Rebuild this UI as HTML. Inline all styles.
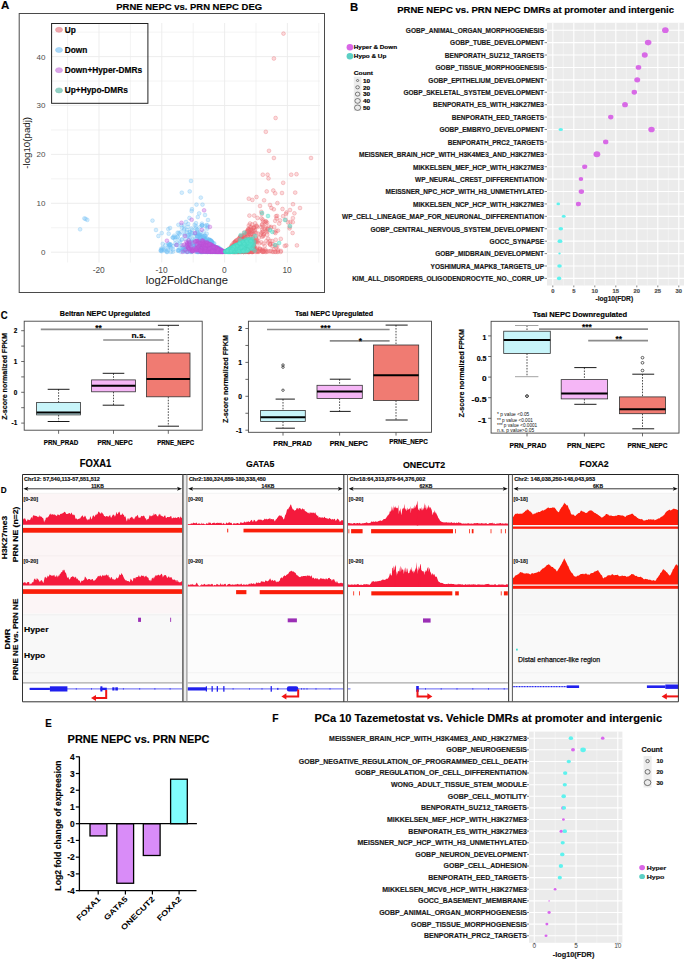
<!DOCTYPE html><html><head><meta charset="utf-8"><style>
html,body{margin:0;padding:0;background:#fff;}
svg{display:block;font-family:"Liberation Sans",sans-serif;}
</style></head><body>
<svg width="685" height="959" viewBox="0 0 685 959">
<rect width="685" height="959" fill="#fff"/>
<text x="0.90" y="8.80" font-size="10.2" font-weight="bold" stroke="#000" stroke-width="0.16" textLength="8.30" lengthAdjust="spacingAndGlyphs" >A</text>
<text x="116.30" y="10.00" font-size="9.5" font-weight="bold" stroke="#000" stroke-width="0.16" textLength="145.80" lengthAdjust="spacingAndGlyphs" >PRNE NEPC vs. PRN NEPC DEG</text>
<rect x="19.20" y="13.50" width="305.30" height="279.00" fill="none" stroke="#4a4a4a" stroke-width="1" />
<line x1="67.60" y1="23.00" x2="67.60" y2="262.50" stroke="#ebebeb" stroke-width="0.6" />
<line x1="99.00" y1="23.00" x2="99.00" y2="262.50" stroke="#ebebeb" stroke-width="0.9" />
<line x1="130.40" y1="23.00" x2="130.40" y2="262.50" stroke="#ebebeb" stroke-width="0.6" />
<line x1="161.80" y1="23.00" x2="161.80" y2="262.50" stroke="#ebebeb" stroke-width="0.9" />
<line x1="193.20" y1="23.00" x2="193.20" y2="262.50" stroke="#ebebeb" stroke-width="0.6" />
<line x1="224.60" y1="23.00" x2="224.60" y2="262.50" stroke="#ebebeb" stroke-width="0.9" />
<line x1="256.00" y1="23.00" x2="256.00" y2="262.50" stroke="#ebebeb" stroke-width="0.6" />
<line x1="287.40" y1="23.00" x2="287.40" y2="262.50" stroke="#ebebeb" stroke-width="0.9" />
<line x1="318.80" y1="23.00" x2="318.80" y2="262.50" stroke="#ebebeb" stroke-width="0.6" />
<line x1="51.00" y1="252.20" x2="320.00" y2="252.20" stroke="#ebebeb" stroke-width="0.9" />
<line x1="51.00" y1="227.75" x2="320.00" y2="227.75" stroke="#ebebeb" stroke-width="0.6" />
<line x1="51.00" y1="203.30" x2="320.00" y2="203.30" stroke="#ebebeb" stroke-width="0.9" />
<line x1="51.00" y1="178.85" x2="320.00" y2="178.85" stroke="#ebebeb" stroke-width="0.6" />
<line x1="51.00" y1="154.40" x2="320.00" y2="154.40" stroke="#ebebeb" stroke-width="0.9" />
<line x1="51.00" y1="129.95" x2="320.00" y2="129.95" stroke="#ebebeb" stroke-width="0.6" />
<line x1="51.00" y1="105.50" x2="320.00" y2="105.50" stroke="#ebebeb" stroke-width="0.9" />
<line x1="51.00" y1="81.05" x2="320.00" y2="81.05" stroke="#ebebeb" stroke-width="0.6" />
<line x1="51.00" y1="56.60" x2="320.00" y2="56.60" stroke="#ebebeb" stroke-width="0.9" />
<line x1="51.00" y1="32.15" x2="320.00" y2="32.15" stroke="#ebebeb" stroke-width="0.6" />
<text x="45.40" y="255.10" font-size="8.0" text-anchor="end" fill="#4d4d4d" >0</text>
<text x="45.40" y="206.20" font-size="8.0" text-anchor="end" fill="#4d4d4d" >10</text>
<text x="45.40" y="157.30" font-size="8.0" text-anchor="end" fill="#4d4d4d" >20</text>
<text x="45.40" y="108.40" font-size="8.0" text-anchor="end" fill="#4d4d4d" >30</text>
<text x="45.40" y="59.50" font-size="8.0" text-anchor="end" fill="#4d4d4d" >40</text>
<text x="98.70" y="273.10" font-size="8.4" text-anchor="middle" fill="#4d4d4d" >-20</text>
<text x="161.50" y="273.10" font-size="8.4" text-anchor="middle" fill="#4d4d4d" >-10</text>
<text x="224.30" y="273.10" font-size="8.4" text-anchor="middle" fill="#4d4d4d" >0</text>
<text x="287.10" y="273.10" font-size="8.4" text-anchor="middle" fill="#4d4d4d" >10</text>
<text x="145.80" y="284.10" font-size="10.2" fill="#1a1a1a" textLength="82.20" lengthAdjust="spacingAndGlyphs" >log2FoldChange</text>
<text x="30.40" y="168.70" font-size="9.8" fill="#1a1a1a" textLength="51.80" lengthAdjust="spacingAndGlyphs" transform="rotate(-90 30.40 168.70)" >-log10(padj)</text>
<g fill="rgba(240,120,125,0.28)" stroke="rgba(232,95,105,0.42)" stroke-width="0.7">
<circle cx="254.0" cy="247.3" r="1.9"/>
<circle cx="243.3" cy="251.8" r="1.9"/>
<circle cx="252.4" cy="251.9" r="1.9"/>
<circle cx="251.0" cy="228.9" r="1.9"/>
<circle cx="240.4" cy="247.5" r="1.9"/>
<circle cx="245.6" cy="251.9" r="1.9"/>
<circle cx="257.4" cy="247.7" r="1.9"/>
<circle cx="245.2" cy="239.3" r="1.9"/>
<circle cx="236.6" cy="249.6" r="1.9"/>
<circle cx="248.4" cy="249.6" r="1.9"/>
<circle cx="268.2" cy="242.6" r="1.9"/>
<circle cx="238.5" cy="238.7" r="1.9"/>
<circle cx="253.3" cy="248.4" r="1.9"/>
<circle cx="239.9" cy="246.3" r="1.9"/>
<circle cx="252.3" cy="251.8" r="1.9"/>
<circle cx="257.7" cy="241.4" r="1.9"/>
<circle cx="230.4" cy="251.9" r="1.9"/>
<circle cx="235.9" cy="247.5" r="1.9"/>
<circle cx="253.5" cy="227.7" r="1.9"/>
<circle cx="251.1" cy="241.0" r="1.9"/>
<circle cx="255.9" cy="236.8" r="1.9"/>
<circle cx="236.6" cy="249.2" r="1.9"/>
<circle cx="235.6" cy="245.1" r="1.9"/>
<circle cx="241.6" cy="241.1" r="1.9"/>
<circle cx="248.8" cy="249.4" r="1.9"/>
<circle cx="243.4" cy="248.1" r="1.9"/>
<circle cx="252.6" cy="251.8" r="1.9"/>
<circle cx="249.0" cy="251.5" r="1.9"/>
<circle cx="266.0" cy="221.3" r="1.9"/>
<circle cx="244.2" cy="248.7" r="1.9"/>
<circle cx="250.1" cy="227.3" r="1.9"/>
<circle cx="245.3" cy="251.6" r="1.9"/>
<circle cx="252.8" cy="251.1" r="1.9"/>
<circle cx="255.1" cy="223.3" r="1.9"/>
<circle cx="232.2" cy="251.7" r="1.9"/>
<circle cx="228.2" cy="251.7" r="1.9"/>
<circle cx="258.6" cy="251.8" r="1.9"/>
<circle cx="262.1" cy="225.1" r="1.9"/>
<circle cx="251.9" cy="245.6" r="1.9"/>
<circle cx="253.1" cy="251.7" r="1.9"/>
<circle cx="239.7" cy="251.4" r="1.9"/>
<circle cx="273.4" cy="251.8" r="1.9"/>
<circle cx="241.5" cy="248.4" r="1.9"/>
<circle cx="254.7" cy="232.3" r="1.9"/>
<circle cx="241.4" cy="244.9" r="1.9"/>
<circle cx="243.2" cy="240.1" r="1.9"/>
<circle cx="249.0" cy="251.8" r="1.9"/>
<circle cx="268.1" cy="238.7" r="1.9"/>
<circle cx="250.5" cy="246.7" r="1.9"/>
<circle cx="255.2" cy="227.1" r="1.9"/>
<circle cx="265.6" cy="251.9" r="1.9"/>
<circle cx="238.2" cy="247.0" r="1.9"/>
<circle cx="266.6" cy="251.8" r="1.9"/>
<circle cx="269.0" cy="226.6" r="1.9"/>
<circle cx="249.2" cy="233.8" r="1.9"/>
<circle cx="265.6" cy="221.6" r="1.9"/>
<circle cx="240.9" cy="246.6" r="1.9"/>
<circle cx="259.9" cy="249.7" r="1.9"/>
<circle cx="250.8" cy="245.8" r="1.9"/>
<circle cx="236.4" cy="245.0" r="1.9"/>
<circle cx="263.8" cy="251.5" r="1.9"/>
<circle cx="265.5" cy="249.6" r="1.9"/>
<circle cx="249.5" cy="232.1" r="1.9"/>
<circle cx="247.1" cy="243.7" r="1.9"/>
<circle cx="235.9" cy="251.5" r="1.9"/>
<circle cx="256.2" cy="241.2" r="1.9"/>
<circle cx="242.7" cy="251.4" r="1.9"/>
<circle cx="230.1" cy="251.1" r="1.9"/>
<circle cx="232.9" cy="246.6" r="1.9"/>
<circle cx="234.8" cy="250.6" r="1.9"/>
<circle cx="247.0" cy="251.9" r="1.9"/>
<circle cx="245.7" cy="250.3" r="1.9"/>
<circle cx="262.6" cy="219.5" r="1.9"/>
<circle cx="261.4" cy="218.4" r="1.9"/>
<circle cx="237.9" cy="251.3" r="1.9"/>
<circle cx="235.6" cy="251.9" r="1.9"/>
<circle cx="248.5" cy="246.5" r="1.9"/>
<circle cx="231.1" cy="250.8" r="1.9"/>
<circle cx="233.5" cy="251.2" r="1.9"/>
<circle cx="248.9" cy="229.6" r="1.9"/>
<circle cx="254.2" cy="245.4" r="1.9"/>
<circle cx="234.9" cy="241.8" r="1.9"/>
<circle cx="236.9" cy="251.0" r="1.9"/>
<circle cx="241.0" cy="238.3" r="1.9"/>
<circle cx="263.3" cy="236.2" r="1.9"/>
<circle cx="234.4" cy="243.2" r="1.9"/>
<circle cx="254.7" cy="240.8" r="1.9"/>
<circle cx="240.1" cy="251.6" r="1.9"/>
<circle cx="245.5" cy="250.5" r="1.9"/>
<circle cx="234.3" cy="251.9" r="1.9"/>
<circle cx="257.4" cy="251.8" r="1.9"/>
<circle cx="244.2" cy="234.8" r="1.9"/>
<circle cx="270.3" cy="244.9" r="1.9"/>
<circle cx="240.6" cy="248.0" r="1.9"/>
<circle cx="251.9" cy="250.3" r="1.9"/>
<circle cx="230.7" cy="249.9" r="1.9"/>
<circle cx="234.4" cy="251.1" r="1.9"/>
<circle cx="243.0" cy="250.4" r="1.9"/>
<circle cx="235.2" cy="250.7" r="1.9"/>
<circle cx="280.9" cy="250.9" r="1.9"/>
<circle cx="245.3" cy="250.3" r="1.9"/>
<circle cx="236.3" cy="240.4" r="1.9"/>
<circle cx="232.6" cy="245.4" r="1.9"/>
<circle cx="230.8" cy="251.3" r="1.9"/>
<circle cx="265.6" cy="251.0" r="1.9"/>
<circle cx="247.3" cy="247.2" r="1.9"/>
<circle cx="249.2" cy="251.0" r="1.9"/>
<circle cx="261.7" cy="250.3" r="1.9"/>
<circle cx="231.8" cy="249.1" r="1.9"/>
<circle cx="246.0" cy="250.8" r="1.9"/>
<circle cx="251.1" cy="234.1" r="1.9"/>
<circle cx="249.7" cy="251.8" r="1.9"/>
<circle cx="258.5" cy="233.7" r="1.9"/>
<circle cx="230.7" cy="251.1" r="1.9"/>
<circle cx="270.2" cy="243.6" r="1.9"/>
<circle cx="228.0" cy="251.1" r="1.9"/>
<circle cx="235.8" cy="250.2" r="1.9"/>
<circle cx="235.0" cy="248.0" r="1.9"/>
<circle cx="244.2" cy="251.5" r="1.9"/>
<circle cx="257.2" cy="227.2" r="1.9"/>
<circle cx="240.0" cy="249.4" r="1.9"/>
<circle cx="275.7" cy="245.3" r="1.9"/>
<circle cx="246.7" cy="245.1" r="1.9"/>
<circle cx="228.4" cy="251.7" r="1.9"/>
<circle cx="235.6" cy="251.1" r="1.9"/>
<circle cx="232.5" cy="251.5" r="1.9"/>
<circle cx="228.2" cy="250.6" r="1.9"/>
<circle cx="247.1" cy="251.6" r="1.9"/>
<circle cx="275.0" cy="251.8" r="1.9"/>
<circle cx="233.6" cy="249.5" r="1.9"/>
<circle cx="238.7" cy="249.4" r="1.9"/>
<circle cx="234.1" cy="244.8" r="1.9"/>
<circle cx="234.4" cy="246.2" r="1.9"/>
<circle cx="235.0" cy="242.7" r="1.9"/>
<circle cx="242.2" cy="239.2" r="1.9"/>
<circle cx="247.2" cy="231.7" r="1.9"/>
<circle cx="262.3" cy="249.5" r="1.9"/>
<circle cx="240.5" cy="236.6" r="1.9"/>
<circle cx="265.3" cy="227.5" r="1.9"/>
<circle cx="246.9" cy="232.3" r="1.9"/>
<circle cx="237.8" cy="246.4" r="1.9"/>
<circle cx="241.4" cy="251.8" r="1.9"/>
<circle cx="243.7" cy="251.9" r="1.9"/>
<circle cx="234.2" cy="246.0" r="1.9"/>
<circle cx="265.8" cy="223.4" r="1.9"/>
<circle cx="229.5" cy="251.5" r="1.9"/>
<circle cx="254.8" cy="242.5" r="1.9"/>
<circle cx="237.8" cy="249.2" r="1.9"/>
<circle cx="239.6" cy="251.6" r="1.9"/>
<circle cx="250.2" cy="244.7" r="1.9"/>
<circle cx="238.4" cy="247.7" r="1.9"/>
<circle cx="234.5" cy="251.7" r="1.9"/>
<circle cx="239.2" cy="250.5" r="1.9"/>
<circle cx="237.6" cy="247.8" r="1.9"/>
<circle cx="269.9" cy="240.9" r="1.9"/>
<circle cx="253.1" cy="237.0" r="1.9"/>
<circle cx="244.7" cy="244.0" r="1.9"/>
<circle cx="245.0" cy="250.5" r="1.9"/>
<circle cx="236.9" cy="249.9" r="1.9"/>
<circle cx="249.8" cy="248.4" r="1.9"/>
<circle cx="248.5" cy="249.7" r="1.9"/>
<circle cx="231.2" cy="250.5" r="1.9"/>
<circle cx="231.0" cy="250.6" r="1.9"/>
<circle cx="237.0" cy="244.9" r="1.9"/>
<circle cx="234.7" cy="250.5" r="1.9"/>
<circle cx="254.6" cy="229.9" r="1.9"/>
<circle cx="267.3" cy="232.1" r="1.9"/>
<circle cx="259.3" cy="243.4" r="1.9"/>
<circle cx="263.1" cy="221.5" r="1.9"/>
<circle cx="233.7" cy="251.9" r="1.9"/>
<circle cx="261.3" cy="242.3" r="1.9"/>
<circle cx="243.2" cy="237.5" r="1.9"/>
<circle cx="250.9" cy="246.1" r="1.9"/>
<circle cx="244.6" cy="250.0" r="1.9"/>
<circle cx="242.3" cy="249.0" r="1.9"/>
<circle cx="240.1" cy="240.5" r="1.9"/>
<circle cx="246.2" cy="251.0" r="1.9"/>
<circle cx="239.5" cy="246.7" r="1.9"/>
<circle cx="249.6" cy="230.5" r="1.9"/>
<circle cx="240.1" cy="240.8" r="1.9"/>
<circle cx="243.5" cy="251.9" r="1.9"/>
<circle cx="230.2" cy="250.4" r="1.9"/>
<circle cx="247.7" cy="245.3" r="1.9"/>
<circle cx="246.9" cy="248.2" r="1.9"/>
<circle cx="241.2" cy="249.6" r="1.9"/>
<circle cx="247.2" cy="248.4" r="1.9"/>
<circle cx="242.6" cy="245.6" r="1.9"/>
<circle cx="277.2" cy="246.0" r="1.9"/>
<circle cx="244.0" cy="232.6" r="1.9"/>
<circle cx="240.8" cy="240.9" r="1.9"/>
<circle cx="235.3" cy="241.7" r="1.9"/>
<circle cx="268.0" cy="251.4" r="1.9"/>
<circle cx="280.8" cy="238.9" r="1.9"/>
<circle cx="243.3" cy="250.1" r="1.9"/>
<circle cx="246.7" cy="251.0" r="1.9"/>
<circle cx="235.6" cy="247.7" r="1.9"/>
<circle cx="241.1" cy="244.9" r="1.9"/>
<circle cx="230.0" cy="248.5" r="1.9"/>
<circle cx="239.6" cy="251.9" r="1.9"/>
<circle cx="239.5" cy="246.5" r="1.9"/>
<circle cx="254.1" cy="244.1" r="1.9"/>
<circle cx="248.4" cy="241.5" r="1.9"/>
<circle cx="247.5" cy="243.9" r="1.9"/>
<circle cx="243.0" cy="251.4" r="1.9"/>
<circle cx="232.7" cy="249.5" r="1.9"/>
<circle cx="267.6" cy="228.7" r="1.9"/>
<circle cx="261.7" cy="232.8" r="1.9"/>
<circle cx="241.1" cy="250.6" r="1.9"/>
<circle cx="232.7" cy="249.0" r="1.9"/>
<circle cx="240.9" cy="249.2" r="1.9"/>
<circle cx="230.6" cy="249.7" r="1.9"/>
<circle cx="251.5" cy="251.8" r="1.9"/>
<circle cx="239.9" cy="241.5" r="1.9"/>
<circle cx="239.5" cy="238.1" r="1.9"/>
<circle cx="246.0" cy="250.4" r="1.9"/>
<circle cx="242.3" cy="250.9" r="1.9"/>
<circle cx="239.7" cy="248.1" r="1.9"/>
<circle cx="264.0" cy="250.6" r="1.9"/>
<circle cx="241.2" cy="236.1" r="1.9"/>
<circle cx="239.1" cy="251.7" r="1.9"/>
<circle cx="247.5" cy="247.8" r="1.9"/>
<circle cx="231.2" cy="247.3" r="1.9"/>
<circle cx="241.0" cy="251.2" r="1.9"/>
<circle cx="238.9" cy="251.9" r="1.9"/>
<circle cx="253.9" cy="251.0" r="1.9"/>
<circle cx="256.6" cy="249.3" r="1.9"/>
<circle cx="244.1" cy="239.0" r="1.9"/>
<circle cx="234.9" cy="246.4" r="1.9"/>
<circle cx="241.9" cy="251.0" r="1.9"/>
<circle cx="237.1" cy="251.6" r="1.9"/>
<circle cx="256.6" cy="225.7" r="1.9"/>
<circle cx="249.9" cy="250.1" r="1.9"/>
<circle cx="250.9" cy="231.6" r="1.9"/>
<circle cx="233.6" cy="249.1" r="1.9"/>
<circle cx="238.5" cy="249.6" r="1.9"/>
<circle cx="253.5" cy="248.8" r="1.9"/>
<circle cx="242.3" cy="251.2" r="1.9"/>
<circle cx="253.8" cy="242.1" r="1.9"/>
<circle cx="241.3" cy="250.2" r="1.9"/>
<circle cx="231.2" cy="251.5" r="1.9"/>
<circle cx="233.7" cy="251.1" r="1.9"/>
<circle cx="242.7" cy="240.7" r="1.9"/>
<circle cx="277.9" cy="251.4" r="1.9"/>
<circle cx="238.6" cy="245.2" r="1.9"/>
<circle cx="253.9" cy="246.5" r="1.9"/>
<circle cx="253.6" cy="249.8" r="1.9"/>
<circle cx="251.9" cy="251.4" r="1.9"/>
<circle cx="286.3" cy="245.4" r="1.9"/>
<circle cx="235.0" cy="250.8" r="1.9"/>
<circle cx="242.0" cy="250.0" r="1.9"/>
<circle cx="252.4" cy="231.9" r="1.9"/>
<circle cx="249.1" cy="250.1" r="1.9"/>
<circle cx="243.8" cy="249.3" r="1.9"/>
<circle cx="262.3" cy="251.8" r="1.9"/>
<circle cx="272.2" cy="251.8" r="1.9"/>
<circle cx="237.6" cy="243.5" r="1.9"/>
<circle cx="236.5" cy="245.0" r="1.9"/>
<circle cx="232.1" cy="250.6" r="1.9"/>
<circle cx="259.7" cy="248.7" r="1.9"/>
<circle cx="232.3" cy="250.4" r="1.9"/>
<circle cx="259.0" cy="237.7" r="1.9"/>
<circle cx="244.4" cy="241.9" r="1.9"/>
<circle cx="243.6" cy="235.4" r="1.9"/>
<circle cx="233.7" cy="251.9" r="1.9"/>
<circle cx="256.3" cy="249.4" r="1.9"/>
<circle cx="248.1" cy="241.9" r="1.9"/>
<circle cx="248.0" cy="251.8" r="1.9"/>
<circle cx="241.2" cy="251.1" r="1.9"/>
<circle cx="239.7" cy="244.1" r="1.9"/>
<circle cx="254.3" cy="249.9" r="1.9"/>
<circle cx="246.8" cy="232.3" r="1.9"/>
<circle cx="241.0" cy="238.9" r="1.9"/>
<circle cx="234.3" cy="250.7" r="1.9"/>
<circle cx="266.6" cy="230.5" r="1.9"/>
<circle cx="235.2" cy="247.9" r="1.9"/>
<circle cx="244.7" cy="237.7" r="1.9"/>
<circle cx="233.3" cy="250.7" r="1.9"/>
<circle cx="236.4" cy="250.8" r="1.9"/>
<circle cx="236.1" cy="249.4" r="1.9"/>
<circle cx="233.2" cy="249.9" r="1.9"/>
<circle cx="241.4" cy="251.8" r="1.9"/>
<circle cx="227.5" cy="250.2" r="1.9"/>
<circle cx="232.0" cy="244.8" r="1.9"/>
<circle cx="248.8" cy="245.7" r="1.9"/>
<circle cx="243.8" cy="245.9" r="1.9"/>
<circle cx="227.1" cy="250.8" r="1.9"/>
<circle cx="251.9" cy="239.8" r="1.9"/>
<circle cx="237.9" cy="251.6" r="1.9"/>
<circle cx="229.0" cy="248.7" r="1.9"/>
<circle cx="239.3" cy="245.7" r="1.9"/>
<circle cx="270.8" cy="250.9" r="1.9"/>
<circle cx="263.1" cy="231.5" r="1.9"/>
<circle cx="240.2" cy="241.0" r="1.9"/>
<circle cx="240.0" cy="246.9" r="1.9"/>
<circle cx="241.6" cy="250.8" r="1.9"/>
<circle cx="229.9" cy="249.7" r="1.9"/>
<circle cx="267.1" cy="222.6" r="1.9"/>
<circle cx="246.2" cy="249.7" r="1.9"/>
<circle cx="249.6" cy="239.6" r="1.9"/>
<circle cx="235.0" cy="242.1" r="1.9"/>
<circle cx="244.0" cy="241.4" r="1.9"/>
<circle cx="272.4" cy="246.2" r="1.9"/>
<circle cx="238.9" cy="247.9" r="1.9"/>
<circle cx="243.3" cy="248.0" r="1.9"/>
<circle cx="254.0" cy="227.6" r="1.9"/>
<circle cx="235.0" cy="249.7" r="1.9"/>
<circle cx="248.8" cy="250.8" r="1.9"/>
<circle cx="232.1" cy="250.2" r="1.9"/>
<circle cx="274.2" cy="227.0" r="1.9"/>
<circle cx="251.5" cy="251.8" r="1.9"/>
<circle cx="254.6" cy="248.9" r="1.9"/>
<circle cx="249.2" cy="245.8" r="1.9"/>
<circle cx="252.9" cy="248.2" r="1.9"/>
<circle cx="235.9" cy="249.5" r="1.9"/>
<circle cx="232.1" cy="250.8" r="1.9"/>
<circle cx="249.6" cy="244.4" r="1.9"/>
<circle cx="248.9" cy="251.5" r="1.9"/>
<circle cx="235.6" cy="248.4" r="1.9"/>
<circle cx="233.2" cy="251.3" r="1.9"/>
<circle cx="232.5" cy="251.3" r="1.9"/>
<circle cx="245.8" cy="250.6" r="1.9"/>
<circle cx="249.2" cy="245.0" r="1.9"/>
<circle cx="249.9" cy="247.3" r="1.9"/>
<circle cx="231.6" cy="246.6" r="1.9"/>
<circle cx="248.3" cy="238.0" r="1.9"/>
<circle cx="233.3" cy="247.2" r="1.9"/>
<circle cx="232.8" cy="250.5" r="1.9"/>
<circle cx="235.3" cy="248.3" r="1.9"/>
<circle cx="237.4" cy="251.9" r="1.9"/>
<circle cx="250.2" cy="249.3" r="1.9"/>
<circle cx="256.7" cy="226.3" r="1.9"/>
<circle cx="251.5" cy="242.9" r="1.9"/>
<circle cx="235.2" cy="250.5" r="1.9"/>
<circle cx="261.1" cy="226.9" r="1.9"/>
<circle cx="233.6" cy="246.9" r="1.9"/>
<circle cx="230.0" cy="251.8" r="1.9"/>
<circle cx="248.2" cy="251.5" r="1.9"/>
<circle cx="238.0" cy="249.0" r="1.9"/>
<circle cx="269.7" cy="251.4" r="1.9"/>
<circle cx="248.4" cy="240.2" r="1.9"/>
<circle cx="242.0" cy="238.4" r="1.9"/>
<circle cx="247.7" cy="236.5" r="1.9"/>
<circle cx="240.7" cy="247.5" r="1.9"/>
<circle cx="275.8" cy="251.9" r="1.9"/>
<circle cx="235.6" cy="246.6" r="1.9"/>
<circle cx="242.4" cy="251.4" r="1.9"/>
<circle cx="270.7" cy="227.9" r="1.9"/>
<circle cx="251.0" cy="248.7" r="1.9"/>
<circle cx="236.7" cy="247.5" r="1.9"/>
<circle cx="230.0" cy="251.1" r="1.9"/>
<circle cx="245.0" cy="248.5" r="1.9"/>
<circle cx="249.5" cy="251.9" r="1.9"/>
<circle cx="244.7" cy="251.8" r="1.9"/>
<circle cx="234.4" cy="251.1" r="1.9"/>
<circle cx="238.5" cy="250.8" r="1.9"/>
<circle cx="249.1" cy="229.4" r="1.9"/>
<circle cx="248.7" cy="233.3" r="1.9"/>
<circle cx="262.1" cy="236.7" r="1.9"/>
<circle cx="241.4" cy="241.0" r="1.9"/>
<circle cx="275.7" cy="239.8" r="1.9"/>
<circle cx="239.5" cy="243.5" r="1.9"/>
<circle cx="246.5" cy="248.9" r="1.9"/>
<circle cx="248.3" cy="251.8" r="1.9"/>
<circle cx="240.6" cy="236.3" r="1.9"/>
<circle cx="245.5" cy="250.5" r="1.9"/>
<circle cx="237.3" cy="251.6" r="1.9"/>
<circle cx="227.0" cy="251.4" r="1.9"/>
<circle cx="244.2" cy="249.9" r="1.9"/>
<circle cx="235.2" cy="250.8" r="1.9"/>
<circle cx="239.7" cy="247.0" r="1.9"/>
<circle cx="231.8" cy="249.3" r="1.9"/>
<circle cx="262.1" cy="224.4" r="1.9"/>
<circle cx="231.3" cy="246.4" r="1.9"/>
<circle cx="238.6" cy="251.9" r="1.9"/>
<circle cx="235.0" cy="246.5" r="1.9"/>
<circle cx="236.8" cy="251.3" r="1.9"/>
<circle cx="250.6" cy="240.5" r="1.9"/>
<circle cx="236.1" cy="241.2" r="1.9"/>
<circle cx="250.5" cy="234.5" r="1.9"/>
<circle cx="234.1" cy="249.0" r="1.9"/>
<circle cx="276.3" cy="230.9" r="1.9"/>
<circle cx="236.6" cy="245.0" r="1.9"/>
<circle cx="253.0" cy="238.3" r="1.9"/>
<circle cx="240.6" cy="248.9" r="1.9"/>
<circle cx="230.1" cy="251.2" r="1.9"/>
<circle cx="246.0" cy="250.3" r="1.9"/>
<circle cx="244.8" cy="234.4" r="1.9"/>
<circle cx="248.8" cy="251.8" r="1.9"/>
<circle cx="251.2" cy="248.7" r="1.9"/>
<circle cx="232.4" cy="251.7" r="1.9"/>
<circle cx="266.4" cy="240.8" r="1.9"/>
<circle cx="249.9" cy="240.5" r="1.9"/>
<circle cx="250.6" cy="237.2" r="1.9"/>
<circle cx="238.1" cy="243.8" r="1.9"/>
<circle cx="262.3" cy="229.8" r="1.9"/>
<circle cx="238.7" cy="239.3" r="1.9"/>
<circle cx="245.3" cy="239.2" r="1.9"/>
<circle cx="241.4" cy="250.9" r="1.9"/>
<circle cx="230.9" cy="249.8" r="1.9"/>
<circle cx="235.6" cy="250.3" r="1.9"/>
<circle cx="234.5" cy="246.3" r="1.9"/>
<circle cx="229.1" cy="251.6" r="1.9"/>
<circle cx="252.3" cy="233.7" r="1.9"/>
<circle cx="244.7" cy="235.3" r="1.9"/>
<circle cx="233.0" cy="251.9" r="1.9"/>
<circle cx="252.8" cy="230.5" r="1.9"/>
<circle cx="230.9" cy="250.7" r="1.9"/>
<circle cx="251.9" cy="249.9" r="1.9"/>
<circle cx="238.2" cy="251.1" r="1.9"/>
<circle cx="236.3" cy="246.8" r="1.9"/>
<circle cx="239.3" cy="251.1" r="1.9"/>
<circle cx="249.1" cy="233.4" r="1.9"/>
<circle cx="260.0" cy="248.7" r="1.9"/>
<circle cx="240.4" cy="239.2" r="1.9"/>
<circle cx="234.9" cy="248.0" r="1.9"/>
<circle cx="244.5" cy="236.2" r="1.9"/>
<circle cx="236.5" cy="250.2" r="1.9"/>
<circle cx="262.6" cy="250.5" r="1.9"/>
<circle cx="274.0" cy="249.2" r="1.9"/>
<circle cx="235.2" cy="251.8" r="1.9"/>
<circle cx="240.6" cy="243.4" r="1.9"/>
<circle cx="277.7" cy="251.9" r="1.9"/>
<circle cx="237.3" cy="245.6" r="1.9"/>
<circle cx="229.7" cy="251.6" r="1.9"/>
<circle cx="243.7" cy="251.9" r="1.9"/>
<circle cx="245.7" cy="247.7" r="1.9"/>
<circle cx="235.5" cy="251.6" r="1.9"/>
<circle cx="258.9" cy="251.4" r="1.9"/>
<circle cx="241.1" cy="237.9" r="1.9"/>
<circle cx="241.0" cy="236.5" r="1.9"/>
<circle cx="278.0" cy="250.0" r="1.9"/>
<circle cx="235.5" cy="251.8" r="1.9"/>
<circle cx="230.0" cy="250.9" r="1.9"/>
<circle cx="248.5" cy="251.9" r="1.9"/>
<circle cx="255.4" cy="242.2" r="1.9"/>
<circle cx="248.2" cy="229.1" r="1.9"/>
<circle cx="276.0" cy="247.6" r="1.9"/>
<circle cx="240.0" cy="237.3" r="1.9"/>
<circle cx="242.2" cy="248.7" r="1.9"/>
<circle cx="234.3" cy="251.9" r="1.9"/>
<circle cx="250.9" cy="249.9" r="1.9"/>
<circle cx="251.0" cy="250.1" r="1.9"/>
<circle cx="236.2" cy="243.5" r="1.9"/>
<circle cx="263.0" cy="251.8" r="1.9"/>
<circle cx="255.8" cy="238.3" r="1.9"/>
<circle cx="248.2" cy="229.6" r="1.9"/>
<circle cx="272.1" cy="241.0" r="1.9"/>
<circle cx="252.0" cy="247.6" r="1.9"/>
<circle cx="257.0" cy="242.3" r="1.9"/>
<circle cx="251.1" cy="248.8" r="1.9"/>
<circle cx="251.9" cy="250.3" r="1.9"/>
<circle cx="251.1" cy="229.8" r="1.9"/>
<circle cx="245.2" cy="245.9" r="1.9"/>
<circle cx="245.3" cy="251.4" r="1.9"/>
<circle cx="247.1" cy="236.7" r="1.9"/>
<circle cx="237.5" cy="243.0" r="1.9"/>
<circle cx="244.7" cy="237.9" r="1.9"/>
<circle cx="280.7" cy="251.9" r="1.9"/>
<circle cx="242.0" cy="240.0" r="1.9"/>
<circle cx="233.6" cy="251.2" r="1.9"/>
<circle cx="232.8" cy="246.5" r="1.9"/>
<circle cx="247.0" cy="251.7" r="1.9"/>
<circle cx="242.5" cy="242.9" r="1.9"/>
<circle cx="244.3" cy="239.0" r="1.9"/>
<circle cx="260.7" cy="234.6" r="1.9"/>
<circle cx="241.5" cy="250.8" r="1.9"/>
<circle cx="241.7" cy="249.2" r="1.9"/>
<circle cx="228.2" cy="250.7" r="1.9"/>
<circle cx="230.8" cy="248.6" r="1.9"/>
<circle cx="238.6" cy="251.0" r="1.9"/>
<circle cx="252.3" cy="250.6" r="1.9"/>
<circle cx="243.4" cy="244.4" r="1.9"/>
<circle cx="241.7" cy="248.3" r="1.9"/>
<circle cx="241.5" cy="250.2" r="1.9"/>
<circle cx="242.9" cy="239.6" r="1.9"/>
<circle cx="241.1" cy="246.1" r="1.9"/>
<circle cx="241.7" cy="249.8" r="1.9"/>
<circle cx="231.4" cy="250.8" r="1.9"/>
<circle cx="247.2" cy="233.3" r="1.9"/>
<circle cx="250.1" cy="246.0" r="1.9"/>
<circle cx="269.9" cy="244.2" r="1.9"/>
<circle cx="245.9" cy="237.2" r="1.9"/>
<circle cx="254.3" cy="246.7" r="1.9"/>
<circle cx="229.8" cy="250.2" r="1.9"/>
<circle cx="261.6" cy="251.3" r="1.9"/>
<circle cx="236.9" cy="243.5" r="1.9"/>
<circle cx="232.8" cy="247.1" r="1.9"/>
<circle cx="248.9" cy="240.2" r="1.9"/>
<circle cx="256.9" cy="251.8" r="1.9"/>
<circle cx="255.6" cy="240.8" r="1.9"/>
<circle cx="240.5" cy="251.9" r="1.9"/>
<circle cx="238.2" cy="250.9" r="1.9"/>
<circle cx="273.0" cy="244.0" r="1.9"/>
<circle cx="243.3" cy="249.9" r="1.9"/>
<circle cx="274.5" cy="232.1" r="1.9"/>
<circle cx="238.0" cy="251.9" r="1.9"/>
<circle cx="247.7" cy="246.5" r="1.9"/>
<circle cx="245.8" cy="248.8" r="1.9"/>
<circle cx="230.5" cy="250.1" r="1.9"/>
<circle cx="242.9" cy="249.8" r="1.9"/>
<circle cx="238.6" cy="250.6" r="1.9"/>
<circle cx="256.9" cy="240.0" r="1.9"/>
<circle cx="244.5" cy="247.6" r="1.9"/>
<circle cx="243.8" cy="251.8" r="1.9"/>
<circle cx="250.3" cy="229.8" r="1.9"/>
<circle cx="248.7" cy="245.5" r="1.9"/>
<circle cx="254.5" cy="249.0" r="1.9"/>
<circle cx="236.6" cy="251.6" r="1.9"/>
<circle cx="232.7" cy="246.8" r="1.9"/>
<circle cx="253.6" cy="227.9" r="1.9"/>
<circle cx="255.2" cy="251.8" r="1.9"/>
<circle cx="237.3" cy="250.5" r="1.9"/>
<circle cx="248.7" cy="231.7" r="1.9"/>
<circle cx="240.2" cy="251.5" r="1.9"/>
<circle cx="264.7" cy="245.8" r="1.9"/>
<circle cx="229.4" cy="249.9" r="1.9"/>
<circle cx="237.0" cy="251.8" r="1.9"/>
<circle cx="244.9" cy="247.8" r="1.9"/>
<circle cx="254.8" cy="230.8" r="1.9"/>
<circle cx="233.5" cy="243.0" r="1.9"/>
<circle cx="239.1" cy="243.5" r="1.9"/>
<circle cx="246.1" cy="251.7" r="1.9"/>
<circle cx="245.6" cy="244.0" r="1.9"/>
<circle cx="247.8" cy="251.3" r="1.9"/>
<circle cx="238.5" cy="241.8" r="1.9"/>
<circle cx="237.1" cy="251.9" r="1.9"/>
<circle cx="250.4" cy="248.5" r="1.9"/>
<circle cx="230.4" cy="250.6" r="1.9"/>
<circle cx="237.7" cy="251.4" r="1.9"/>
<circle cx="263.4" cy="251.7" r="1.9"/>
<circle cx="248.6" cy="244.1" r="1.9"/>
<circle cx="263.5" cy="243.6" r="1.9"/>
<circle cx="229.4" cy="251.8" r="1.9"/>
<circle cx="252.9" cy="241.9" r="1.9"/>
<circle cx="241.1" cy="244.4" r="1.9"/>
<circle cx="235.0" cy="242.6" r="1.9"/>
<circle cx="240.4" cy="239.7" r="1.9"/>
<circle cx="245.4" cy="251.7" r="1.9"/>
<circle cx="246.1" cy="251.5" r="1.9"/>
<circle cx="245.0" cy="245.7" r="1.9"/>
<circle cx="246.5" cy="250.9" r="1.9"/>
<circle cx="242.7" cy="251.5" r="1.9"/>
<circle cx="237.5" cy="248.4" r="1.9"/>
<circle cx="263.8" cy="234.2" r="1.9"/>
<circle cx="237.2" cy="251.5" r="1.9"/>
<circle cx="238.3" cy="249.6" r="1.9"/>
<circle cx="246.9" cy="234.0" r="1.9"/>
<circle cx="232.0" cy="251.4" r="1.9"/>
<circle cx="250.3" cy="238.5" r="1.9"/>
<circle cx="231.0" cy="249.5" r="1.9"/>
<circle cx="251.4" cy="233.7" r="1.9"/>
<circle cx="240.7" cy="248.2" r="1.9"/>
<circle cx="242.9" cy="250.6" r="1.9"/>
<circle cx="258.6" cy="251.0" r="1.9"/>
<circle cx="240.8" cy="251.2" r="1.9"/>
<circle cx="236.9" cy="240.2" r="1.9"/>
<circle cx="245.4" cy="238.9" r="1.9"/>
<circle cx="284.8" cy="245.9" r="1.9"/>
<circle cx="236.2" cy="243.5" r="1.9"/>
<circle cx="257.4" cy="250.9" r="1.9"/>
<circle cx="285.6" cy="219.7" r="1.9"/>
<circle cx="275.2" cy="220.8" r="1.9"/>
<circle cx="261.8" cy="214.0" r="1.9"/>
<circle cx="262.7" cy="231.6" r="1.9"/>
<circle cx="276.0" cy="216.2" r="1.9"/>
<circle cx="249.4" cy="215.6" r="1.9"/>
<circle cx="280.1" cy="220.4" r="1.9"/>
<circle cx="278.0" cy="230.6" r="1.9"/>
<circle cx="251.0" cy="227.1" r="1.9"/>
<circle cx="247.1" cy="231.0" r="1.9"/>
<circle cx="254.2" cy="215.6" r="1.9"/>
<circle cx="292.9" cy="218.1" r="1.9"/>
<circle cx="256.2" cy="232.9" r="1.9"/>
<circle cx="275.5" cy="233.0" r="1.9"/>
<circle cx="264.7" cy="222.0" r="1.9"/>
<circle cx="292.8" cy="222.2" r="1.9"/>
<circle cx="294.4" cy="213.3" r="1.9"/>
<circle cx="286.5" cy="212.5" r="1.9"/>
<circle cx="271.4" cy="208.0" r="1.9"/>
<circle cx="253.8" cy="234.5" r="1.9"/>
<circle cx="267.7" cy="230.7" r="1.9"/>
<circle cx="257.5" cy="217.9" r="1.9"/>
<circle cx="250.0" cy="223.5" r="1.9"/>
<circle cx="288.1" cy="222.4" r="1.9"/>
<circle cx="263.8" cy="234.0" r="1.9"/>
<circle cx="289.7" cy="226.7" r="1.9"/>
<circle cx="248.8" cy="225.5" r="1.9"/>
<circle cx="267.2" cy="234.8" r="1.9"/>
<circle cx="263.1" cy="226.5" r="1.9"/>
<circle cx="276.6" cy="218.5" r="1.9"/>
<circle cx="271.1" cy="226.9" r="1.9"/>
<circle cx="290.4" cy="221.9" r="1.9"/>
<circle cx="263.2" cy="235.3" r="1.9"/>
<circle cx="247.8" cy="231.4" r="1.9"/>
<circle cx="279.2" cy="223.6" r="1.9"/>
<circle cx="267.4" cy="229.0" r="1.9"/>
<circle cx="289.6" cy="228.4" r="1.9"/>
<circle cx="282.5" cy="209.0" r="1.9"/>
<circle cx="261.3" cy="211.8" r="1.9"/>
<circle cx="292.6" cy="233.0" r="1.9"/>
<circle cx="252.2" cy="224.5" r="1.9"/>
<circle cx="273.8" cy="209.3" r="1.9"/>
<circle cx="264.6" cy="228.9" r="1.9"/>
<circle cx="277.1" cy="215.9" r="1.9"/>
<circle cx="283.1" cy="216.2" r="1.9"/>
<circle cx="283.5" cy="33.6" r="1.9"/>
<circle cx="273.9" cy="58.5" r="1.9"/>
<circle cx="275.6" cy="118.0" r="1.9"/>
<circle cx="265.8" cy="131.8" r="1.9"/>
<circle cx="269.0" cy="150.8" r="1.9"/>
<circle cx="273.9" cy="158.0" r="1.9"/>
<circle cx="311.0" cy="158.0" r="1.9"/>
<circle cx="262.8" cy="174.7" r="1.9"/>
<circle cx="267.6" cy="174.7" r="1.9"/>
<circle cx="268.5" cy="178.4" r="1.9"/>
<circle cx="291.2" cy="174.7" r="1.9"/>
<circle cx="296.5" cy="174.2" r="1.9"/>
<circle cx="283.2" cy="182.8" r="1.9"/>
<circle cx="266.7" cy="191.4" r="1.9"/>
<circle cx="273.3" cy="190.5" r="1.9"/>
<circle cx="275.2" cy="193.3" r="1.9"/>
<circle cx="282.0" cy="193.0" r="1.9"/>
<circle cx="295.2" cy="192.6" r="1.9"/>
<circle cx="256.5" cy="197.0" r="1.9"/>
<circle cx="248.8" cy="198.7" r="1.9"/>
<circle cx="252.4" cy="199.9" r="1.9"/>
<circle cx="264.1" cy="200.3" r="1.9"/>
<circle cx="277.4" cy="203.1" r="1.9"/>
<circle cx="293.0" cy="204.2" r="1.9"/>
<circle cx="296.9" cy="245.4" r="1.9"/>
<circle cx="290.0" cy="210.0" r="1.9"/>
<circle cx="286.0" cy="214.0" r="1.9"/>
<circle cx="270.0" cy="205.0" r="1.9"/>
<circle cx="260.0" cy="206.0" r="1.9"/>
<circle cx="300.0" cy="208.0" r="1.9"/>
</g>
<g fill="rgba(120,195,245,0.3)" stroke="rgba(105,185,245,0.4)" stroke-width="0.7">
<circle cx="207.4" cy="244.5" r="1.9"/>
<circle cx="217.5" cy="250.7" r="1.9"/>
<circle cx="218.3" cy="251.9" r="1.9"/>
<circle cx="202.9" cy="251.5" r="1.9"/>
<circle cx="203.3" cy="251.3" r="1.9"/>
<circle cx="211.2" cy="241.4" r="1.9"/>
<circle cx="195.9" cy="228.4" r="1.9"/>
<circle cx="218.9" cy="251.2" r="1.9"/>
<circle cx="214.2" cy="250.6" r="1.9"/>
<circle cx="195.6" cy="246.8" r="1.9"/>
<circle cx="197.5" cy="251.6" r="1.9"/>
<circle cx="211.8" cy="249.1" r="1.9"/>
<circle cx="207.7" cy="247.9" r="1.9"/>
<circle cx="208.3" cy="244.1" r="1.9"/>
<circle cx="210.4" cy="247.6" r="1.9"/>
<circle cx="160.7" cy="250.8" r="1.9"/>
<circle cx="203.6" cy="251.0" r="1.9"/>
<circle cx="200.4" cy="241.1" r="1.9"/>
<circle cx="180.7" cy="232.2" r="1.9"/>
<circle cx="207.7" cy="245.7" r="1.9"/>
<circle cx="195.7" cy="233.3" r="1.9"/>
<circle cx="190.1" cy="237.2" r="1.9"/>
<circle cx="191.4" cy="232.9" r="1.9"/>
<circle cx="208.8" cy="244.9" r="1.9"/>
<circle cx="220.7" cy="251.7" r="1.9"/>
<circle cx="215.4" cy="246.8" r="1.9"/>
<circle cx="214.9" cy="250.1" r="1.9"/>
<circle cx="202.2" cy="236.3" r="1.9"/>
<circle cx="173.0" cy="249.6" r="1.9"/>
<circle cx="203.7" cy="237.3" r="1.9"/>
<circle cx="213.0" cy="250.9" r="1.9"/>
<circle cx="200.6" cy="249.5" r="1.9"/>
<circle cx="222.9" cy="251.6" r="1.9"/>
<circle cx="196.5" cy="238.7" r="1.9"/>
<circle cx="199.1" cy="240.3" r="1.9"/>
<circle cx="218.5" cy="248.4" r="1.9"/>
<circle cx="160.9" cy="250.2" r="1.9"/>
<circle cx="204.4" cy="243.6" r="1.9"/>
<circle cx="211.7" cy="249.9" r="1.9"/>
<circle cx="214.0" cy="250.1" r="1.9"/>
<circle cx="220.4" cy="250.3" r="1.9"/>
<circle cx="214.1" cy="250.3" r="1.9"/>
<circle cx="205.8" cy="239.6" r="1.9"/>
<circle cx="200.7" cy="251.4" r="1.9"/>
<circle cx="206.6" cy="240.6" r="1.9"/>
<circle cx="214.1" cy="251.9" r="1.9"/>
<circle cx="198.5" cy="234.4" r="1.9"/>
<circle cx="187.6" cy="246.7" r="1.9"/>
<circle cx="213.3" cy="248.4" r="1.9"/>
<circle cx="178.9" cy="249.8" r="1.9"/>
<circle cx="174.2" cy="237.4" r="1.9"/>
<circle cx="175.1" cy="239.9" r="1.9"/>
<circle cx="211.0" cy="249.7" r="1.9"/>
<circle cx="209.0" cy="244.6" r="1.9"/>
<circle cx="211.3" cy="251.1" r="1.9"/>
<circle cx="211.9" cy="242.8" r="1.9"/>
<circle cx="169.0" cy="244.7" r="1.9"/>
<circle cx="190.4" cy="234.3" r="1.9"/>
<circle cx="182.4" cy="250.3" r="1.9"/>
<circle cx="177.6" cy="236.7" r="1.9"/>
<circle cx="204.3" cy="241.6" r="1.9"/>
<circle cx="213.2" cy="251.4" r="1.9"/>
<circle cx="214.2" cy="243.3" r="1.9"/>
<circle cx="190.7" cy="241.9" r="1.9"/>
<circle cx="198.6" cy="246.1" r="1.9"/>
<circle cx="161.7" cy="251.2" r="1.9"/>
<circle cx="210.1" cy="250.6" r="1.9"/>
<circle cx="195.3" cy="245.7" r="1.9"/>
<circle cx="214.8" cy="250.3" r="1.9"/>
<circle cx="201.8" cy="235.4" r="1.9"/>
<circle cx="203.5" cy="245.9" r="1.9"/>
<circle cx="198.3" cy="251.9" r="1.9"/>
<circle cx="202.6" cy="251.9" r="1.9"/>
<circle cx="201.1" cy="244.1" r="1.9"/>
<circle cx="207.3" cy="246.2" r="1.9"/>
<circle cx="196.8" cy="248.9" r="1.9"/>
<circle cx="179.8" cy="242.5" r="1.9"/>
<circle cx="181.3" cy="245.1" r="1.9"/>
<circle cx="193.7" cy="243.0" r="1.9"/>
<circle cx="187.9" cy="242.4" r="1.9"/>
<circle cx="200.9" cy="240.6" r="1.9"/>
<circle cx="209.8" cy="240.4" r="1.9"/>
<circle cx="215.2" cy="251.8" r="1.9"/>
<circle cx="210.5" cy="245.6" r="1.9"/>
<circle cx="178.3" cy="250.8" r="1.9"/>
<circle cx="185.8" cy="250.7" r="1.9"/>
<circle cx="211.3" cy="249.3" r="1.9"/>
<circle cx="200.5" cy="236.6" r="1.9"/>
<circle cx="213.5" cy="248.6" r="1.9"/>
<circle cx="206.8" cy="249.5" r="1.9"/>
<circle cx="197.1" cy="251.9" r="1.9"/>
<circle cx="207.1" cy="246.8" r="1.9"/>
<circle cx="217.9" cy="248.0" r="1.9"/>
<circle cx="209.6" cy="243.3" r="1.9"/>
<circle cx="209.4" cy="248.6" r="1.9"/>
<circle cx="209.8" cy="240.9" r="1.9"/>
<circle cx="196.2" cy="251.4" r="1.9"/>
<circle cx="218.3" cy="250.5" r="1.9"/>
<circle cx="217.5" cy="249.0" r="1.9"/>
<circle cx="206.8" cy="238.5" r="1.9"/>
<circle cx="209.5" cy="247.3" r="1.9"/>
<circle cx="210.6" cy="251.3" r="1.9"/>
<circle cx="218.7" cy="251.1" r="1.9"/>
<circle cx="208.1" cy="250.0" r="1.9"/>
<circle cx="199.9" cy="248.0" r="1.9"/>
<circle cx="221.1" cy="251.9" r="1.9"/>
<circle cx="184.2" cy="250.1" r="1.9"/>
<circle cx="201.1" cy="251.3" r="1.9"/>
<circle cx="173.0" cy="246.2" r="1.9"/>
<circle cx="170.2" cy="246.8" r="1.9"/>
<circle cx="188.3" cy="247.2" r="1.9"/>
<circle cx="170.6" cy="244.3" r="1.9"/>
<circle cx="204.1" cy="251.7" r="1.9"/>
<circle cx="214.8" cy="246.8" r="1.9"/>
<circle cx="209.9" cy="251.7" r="1.9"/>
<circle cx="168.9" cy="244.5" r="1.9"/>
<circle cx="208.9" cy="250.0" r="1.9"/>
<circle cx="201.8" cy="246.6" r="1.9"/>
<circle cx="209.7" cy="239.7" r="1.9"/>
<circle cx="197.5" cy="230.1" r="1.9"/>
<circle cx="207.9" cy="251.9" r="1.9"/>
<circle cx="205.1" cy="246.4" r="1.9"/>
<circle cx="212.0" cy="251.9" r="1.9"/>
<circle cx="209.6" cy="249.0" r="1.9"/>
<circle cx="208.1" cy="245.9" r="1.9"/>
<circle cx="198.5" cy="240.5" r="1.9"/>
<circle cx="185.8" cy="246.1" r="1.9"/>
<circle cx="207.3" cy="251.2" r="1.9"/>
<circle cx="185.0" cy="251.7" r="1.9"/>
<circle cx="170.1" cy="244.7" r="1.9"/>
<circle cx="184.1" cy="250.8" r="1.9"/>
<circle cx="198.7" cy="235.4" r="1.9"/>
<circle cx="175.3" cy="243.6" r="1.9"/>
<circle cx="187.8" cy="251.8" r="1.9"/>
<circle cx="214.7" cy="251.7" r="1.9"/>
<circle cx="170.0" cy="244.8" r="1.9"/>
<circle cx="192.8" cy="243.6" r="1.9"/>
<circle cx="223.1" cy="251.1" r="1.9"/>
<circle cx="199.8" cy="241.1" r="1.9"/>
<circle cx="217.8" cy="251.3" r="1.9"/>
<circle cx="217.4" cy="248.2" r="1.9"/>
<circle cx="211.8" cy="241.5" r="1.9"/>
<circle cx="200.2" cy="245.5" r="1.9"/>
<circle cx="188.6" cy="239.9" r="1.9"/>
<circle cx="191.7" cy="250.7" r="1.9"/>
<circle cx="210.0" cy="250.0" r="1.9"/>
<circle cx="196.4" cy="251.6" r="1.9"/>
<circle cx="209.4" cy="244.7" r="1.9"/>
<circle cx="189.3" cy="242.9" r="1.9"/>
<circle cx="201.5" cy="251.3" r="1.9"/>
<circle cx="221.1" cy="249.8" r="1.9"/>
<circle cx="209.4" cy="240.1" r="1.9"/>
<circle cx="211.6" cy="251.4" r="1.9"/>
<circle cx="198.7" cy="251.0" r="1.9"/>
<circle cx="172.8" cy="237.5" r="1.9"/>
<circle cx="187.0" cy="230.0" r="1.9"/>
<circle cx="200.6" cy="251.9" r="1.9"/>
<circle cx="200.3" cy="248.9" r="1.9"/>
<circle cx="214.4" cy="250.5" r="1.9"/>
<circle cx="182.3" cy="251.0" r="1.9"/>
<circle cx="205.5" cy="235.7" r="1.9"/>
<circle cx="195.1" cy="245.5" r="1.9"/>
<circle cx="209.2" cy="251.6" r="1.9"/>
<circle cx="209.6" cy="251.0" r="1.9"/>
<circle cx="205.4" cy="238.5" r="1.9"/>
<circle cx="174.2" cy="235.7" r="1.9"/>
<circle cx="184.2" cy="235.4" r="1.9"/>
<circle cx="191.6" cy="251.7" r="1.9"/>
<circle cx="201.2" cy="249.0" r="1.9"/>
<circle cx="183.6" cy="248.9" r="1.9"/>
<circle cx="190.8" cy="241.7" r="1.9"/>
<circle cx="204.6" cy="251.0" r="1.9"/>
<circle cx="211.7" cy="248.3" r="1.9"/>
<circle cx="211.3" cy="240.6" r="1.9"/>
<circle cx="202.2" cy="250.5" r="1.9"/>
<circle cx="216.6" cy="251.8" r="1.9"/>
<circle cx="210.6" cy="247.0" r="1.9"/>
<circle cx="203.8" cy="245.6" r="1.9"/>
<circle cx="205.3" cy="251.7" r="1.9"/>
<circle cx="209.1" cy="251.4" r="1.9"/>
<circle cx="199.7" cy="235.2" r="1.9"/>
<circle cx="211.4" cy="250.7" r="1.9"/>
<circle cx="204.3" cy="235.9" r="1.9"/>
<circle cx="167.3" cy="251.9" r="1.9"/>
<circle cx="219.9" cy="248.6" r="1.9"/>
<circle cx="201.2" cy="251.9" r="1.9"/>
<circle cx="204.7" cy="239.4" r="1.9"/>
<circle cx="165.8" cy="250.7" r="1.9"/>
<circle cx="215.7" cy="249.2" r="1.9"/>
<circle cx="188.8" cy="236.5" r="1.9"/>
<circle cx="191.4" cy="244.5" r="1.9"/>
<circle cx="197.3" cy="236.2" r="1.9"/>
<circle cx="210.8" cy="246.1" r="1.9"/>
<circle cx="208.1" cy="250.4" r="1.9"/>
<circle cx="192.1" cy="251.1" r="1.9"/>
<circle cx="217.6" cy="249.4" r="1.9"/>
<circle cx="204.8" cy="244.5" r="1.9"/>
<circle cx="221.9" cy="251.2" r="1.9"/>
<circle cx="210.7" cy="240.8" r="1.9"/>
<circle cx="186.8" cy="251.8" r="1.9"/>
<circle cx="200.0" cy="246.7" r="1.9"/>
<circle cx="209.9" cy="240.8" r="1.9"/>
<circle cx="211.0" cy="249.9" r="1.9"/>
<circle cx="203.5" cy="250.6" r="1.9"/>
<circle cx="176.4" cy="245.0" r="1.9"/>
<circle cx="211.8" cy="250.2" r="1.9"/>
<circle cx="211.2" cy="250.3" r="1.9"/>
<circle cx="212.5" cy="249.4" r="1.9"/>
<circle cx="190.1" cy="250.7" r="1.9"/>
<circle cx="204.6" cy="235.6" r="1.9"/>
<circle cx="214.3" cy="251.8" r="1.9"/>
<circle cx="204.6" cy="238.0" r="1.9"/>
<circle cx="184.2" cy="228.7" r="1.9"/>
<circle cx="207.1" cy="238.6" r="1.9"/>
<circle cx="190.1" cy="246.5" r="1.9"/>
<circle cx="207.1" cy="251.9" r="1.9"/>
<circle cx="209.0" cy="239.6" r="1.9"/>
<circle cx="215.1" cy="251.2" r="1.9"/>
<circle cx="206.1" cy="240.4" r="1.9"/>
<circle cx="203.0" cy="246.3" r="1.9"/>
<circle cx="205.4" cy="250.7" r="1.9"/>
<circle cx="205.8" cy="251.8" r="1.9"/>
<circle cx="203.9" cy="240.4" r="1.9"/>
<circle cx="218.0" cy="251.3" r="1.9"/>
<circle cx="182.7" cy="247.3" r="1.9"/>
<circle cx="209.3" cy="245.9" r="1.9"/>
<circle cx="209.7" cy="249.9" r="1.9"/>
<circle cx="181.8" cy="239.7" r="1.9"/>
<circle cx="210.8" cy="240.9" r="1.9"/>
<circle cx="210.1" cy="247.9" r="1.9"/>
<circle cx="175.6" cy="237.3" r="1.9"/>
<circle cx="179.7" cy="248.0" r="1.9"/>
<circle cx="207.5" cy="242.1" r="1.9"/>
<circle cx="217.1" cy="247.9" r="1.9"/>
<circle cx="210.3" cy="251.8" r="1.9"/>
<circle cx="197.2" cy="229.4" r="1.9"/>
<circle cx="209.6" cy="251.6" r="1.9"/>
<circle cx="200.0" cy="246.1" r="1.9"/>
<circle cx="210.7" cy="246.4" r="1.9"/>
<circle cx="189.4" cy="232.0" r="1.9"/>
<circle cx="190.1" cy="232.2" r="1.9"/>
<circle cx="208.5" cy="249.1" r="1.9"/>
<circle cx="183.7" cy="249.1" r="1.9"/>
<circle cx="210.3" cy="241.9" r="1.9"/>
<circle cx="195.8" cy="246.3" r="1.9"/>
<circle cx="210.9" cy="246.0" r="1.9"/>
<circle cx="201.1" cy="236.8" r="1.9"/>
<circle cx="208.5" cy="250.9" r="1.9"/>
<circle cx="209.8" cy="240.4" r="1.9"/>
<circle cx="215.9" cy="248.5" r="1.9"/>
<circle cx="211.4" cy="251.4" r="1.9"/>
<circle cx="211.9" cy="247.1" r="1.9"/>
<circle cx="191.1" cy="251.9" r="1.9"/>
<circle cx="207.2" cy="250.9" r="1.9"/>
<circle cx="207.8" cy="242.0" r="1.9"/>
<circle cx="197.5" cy="251.3" r="1.9"/>
<circle cx="204.5" cy="243.6" r="1.9"/>
<circle cx="216.6" cy="248.1" r="1.9"/>
<circle cx="203.9" cy="249.2" r="1.9"/>
<circle cx="196.5" cy="246.0" r="1.9"/>
<circle cx="163.7" cy="250.0" r="1.9"/>
<circle cx="212.1" cy="251.1" r="1.9"/>
<circle cx="222.6" cy="251.5" r="1.9"/>
<circle cx="172.8" cy="237.6" r="1.9"/>
<circle cx="201.7" cy="251.9" r="1.9"/>
<circle cx="197.3" cy="231.9" r="1.9"/>
<circle cx="216.7" cy="250.5" r="1.9"/>
<circle cx="199.7" cy="249.1" r="1.9"/>
<circle cx="198.9" cy="251.3" r="1.9"/>
<circle cx="200.4" cy="232.4" r="1.9"/>
<circle cx="212.1" cy="242.3" r="1.9"/>
<circle cx="218.5" cy="250.8" r="1.9"/>
<circle cx="204.1" cy="239.0" r="1.9"/>
<circle cx="212.7" cy="249.6" r="1.9"/>
<circle cx="199.0" cy="251.1" r="1.9"/>
<circle cx="210.3" cy="241.7" r="1.9"/>
<circle cx="219.3" cy="249.0" r="1.9"/>
<circle cx="219.5" cy="251.8" r="1.9"/>
<circle cx="194.5" cy="239.8" r="1.9"/>
<circle cx="208.0" cy="246.0" r="1.9"/>
<circle cx="203.3" cy="246.9" r="1.9"/>
<circle cx="202.7" cy="243.3" r="1.9"/>
<circle cx="200.4" cy="238.5" r="1.9"/>
<circle cx="178.8" cy="250.4" r="1.9"/>
<circle cx="201.2" cy="251.2" r="1.9"/>
<circle cx="203.0" cy="246.9" r="1.9"/>
<circle cx="199.4" cy="241.5" r="1.9"/>
<circle cx="217.0" cy="247.6" r="1.9"/>
<circle cx="199.3" cy="244.7" r="1.9"/>
<circle cx="205.2" cy="251.2" r="1.9"/>
<circle cx="165.4" cy="245.2" r="1.9"/>
<circle cx="213.4" cy="243.4" r="1.9"/>
<circle cx="217.8" cy="248.2" r="1.9"/>
<circle cx="213.7" cy="250.7" r="1.9"/>
<circle cx="199.8" cy="250.2" r="1.9"/>
<circle cx="209.7" cy="249.9" r="1.9"/>
<circle cx="219.6" cy="251.7" r="1.9"/>
<circle cx="198.4" cy="247.6" r="1.9"/>
<circle cx="161.3" cy="248.6" r="1.9"/>
<circle cx="204.6" cy="249.9" r="1.9"/>
<circle cx="205.9" cy="247.6" r="1.9"/>
<circle cx="212.9" cy="251.8" r="1.9"/>
<circle cx="191.9" cy="240.8" r="1.9"/>
<circle cx="190.2" cy="251.9" r="1.9"/>
<circle cx="219.8" cy="250.0" r="1.9"/>
<circle cx="203.0" cy="236.5" r="1.9"/>
<circle cx="214.7" cy="247.7" r="1.9"/>
<circle cx="206.1" cy="248.9" r="1.9"/>
<circle cx="211.1" cy="247.0" r="1.9"/>
<circle cx="211.9" cy="248.6" r="1.9"/>
<circle cx="214.6" cy="251.0" r="1.9"/>
<circle cx="214.0" cy="247.5" r="1.9"/>
<circle cx="161.8" cy="250.0" r="1.9"/>
<circle cx="191.5" cy="247.0" r="1.9"/>
<circle cx="191.5" cy="228.5" r="1.9"/>
<circle cx="184.1" cy="229.8" r="1.9"/>
<circle cx="219.1" cy="250.8" r="1.9"/>
<circle cx="210.6" cy="243.9" r="1.9"/>
<circle cx="221.7" cy="249.7" r="1.9"/>
<circle cx="214.3" cy="248.0" r="1.9"/>
<circle cx="199.6" cy="236.6" r="1.9"/>
<circle cx="213.0" cy="250.5" r="1.9"/>
<circle cx="218.8" cy="248.6" r="1.9"/>
<circle cx="168.2" cy="247.9" r="1.9"/>
<circle cx="183.3" cy="249.5" r="1.9"/>
<circle cx="215.9" cy="251.9" r="1.9"/>
<circle cx="206.9" cy="243.5" r="1.9"/>
<circle cx="168.0" cy="250.3" r="1.9"/>
<circle cx="197.2" cy="236.0" r="1.9"/>
<circle cx="198.8" cy="241.1" r="1.9"/>
<circle cx="209.8" cy="244.0" r="1.9"/>
<circle cx="207.2" cy="249.4" r="1.9"/>
<circle cx="210.6" cy="246.2" r="1.9"/>
<circle cx="187.9" cy="226.8" r="1.9"/>
<circle cx="201.3" cy="240.8" r="1.9"/>
<circle cx="185.0" cy="248.0" r="1.9"/>
<circle cx="211.6" cy="251.7" r="1.9"/>
<circle cx="219.3" cy="249.7" r="1.9"/>
<circle cx="187.5" cy="251.6" r="1.9"/>
<circle cx="195.1" cy="233.7" r="1.9"/>
<circle cx="172.9" cy="251.7" r="1.9"/>
<circle cx="162.7" cy="243.9" r="1.9"/>
<circle cx="215.8" cy="251.7" r="1.9"/>
<circle cx="219.7" cy="248.9" r="1.9"/>
<circle cx="192.3" cy="239.4" r="1.9"/>
<circle cx="208.7" cy="251.6" r="1.9"/>
<circle cx="181.6" cy="247.9" r="1.9"/>
<circle cx="203.3" cy="249.8" r="1.9"/>
<circle cx="208.9" cy="249.2" r="1.9"/>
<circle cx="207.5" cy="247.0" r="1.9"/>
<circle cx="166.7" cy="251.9" r="1.9"/>
<circle cx="203.8" cy="240.2" r="1.9"/>
<circle cx="206.5" cy="246.2" r="1.9"/>
<circle cx="211.4" cy="251.7" r="1.9"/>
<circle cx="181.0" cy="251.9" r="1.9"/>
<circle cx="200.3" cy="237.6" r="1.9"/>
<circle cx="212.6" cy="250.0" r="1.9"/>
<circle cx="211.5" cy="248.2" r="1.9"/>
<circle cx="215.7" cy="251.8" r="1.9"/>
<circle cx="177.7" cy="237.1" r="1.9"/>
<circle cx="192.7" cy="245.9" r="1.9"/>
<circle cx="204.6" cy="251.6" r="1.9"/>
<circle cx="211.8" cy="242.7" r="1.9"/>
<circle cx="199.8" cy="234.6" r="1.9"/>
<circle cx="210.8" cy="247.6" r="1.9"/>
<circle cx="181.9" cy="239.3" r="1.9"/>
<circle cx="206.4" cy="251.1" r="1.9"/>
<circle cx="168.5" cy="243.4" r="1.9"/>
<circle cx="213.2" cy="245.5" r="1.9"/>
<circle cx="195.7" cy="244.8" r="1.9"/>
<circle cx="212.4" cy="246.0" r="1.9"/>
<circle cx="213.8" cy="250.4" r="1.9"/>
<circle cx="198.8" cy="248.2" r="1.9"/>
<circle cx="212.5" cy="245.7" r="1.9"/>
<circle cx="216.1" cy="251.7" r="1.9"/>
<circle cx="205.0" cy="240.3" r="1.9"/>
<circle cx="184.1" cy="250.0" r="1.9"/>
<circle cx="192.0" cy="249.8" r="1.9"/>
<circle cx="204.8" cy="248.0" r="1.9"/>
<circle cx="177.3" cy="244.8" r="1.9"/>
<circle cx="192.4" cy="250.8" r="1.9"/>
<circle cx="194.3" cy="235.9" r="1.9"/>
<circle cx="196.0" cy="245.8" r="1.9"/>
<circle cx="211.0" cy="242.4" r="1.9"/>
<circle cx="179.6" cy="233.8" r="1.9"/>
<circle cx="189.0" cy="244.6" r="1.9"/>
<circle cx="207.8" cy="251.6" r="1.9"/>
<circle cx="203.5" cy="241.5" r="1.9"/>
<circle cx="192.6" cy="245.3" r="1.9"/>
<circle cx="202.0" cy="247.3" r="1.9"/>
<circle cx="189.3" cy="250.2" r="1.9"/>
<circle cx="190.9" cy="246.2" r="1.9"/>
<circle cx="200.4" cy="251.8" r="1.9"/>
<circle cx="197.7" cy="236.5" r="1.9"/>
<circle cx="216.1" cy="249.2" r="1.9"/>
<circle cx="185.7" cy="239.2" r="1.9"/>
<circle cx="171.2" cy="248.0" r="1.9"/>
<circle cx="188.6" cy="235.0" r="1.9"/>
<circle cx="215.2" cy="250.4" r="1.9"/>
<circle cx="218.3" cy="250.7" r="1.9"/>
<circle cx="221.6" cy="251.3" r="1.9"/>
<circle cx="187.4" cy="248.8" r="1.9"/>
<circle cx="211.1" cy="241.5" r="1.9"/>
<circle cx="198.6" cy="236.4" r="1.9"/>
<circle cx="204.7" cy="251.3" r="1.9"/>
<circle cx="179.2" cy="240.8" r="1.9"/>
<circle cx="201.3" cy="250.1" r="1.9"/>
<circle cx="192.0" cy="233.1" r="1.9"/>
<circle cx="201.4" cy="244.4" r="1.9"/>
<circle cx="215.0" cy="250.4" r="1.9"/>
<circle cx="205.3" cy="247.7" r="1.9"/>
<circle cx="185.3" cy="249.2" r="1.9"/>
<circle cx="208.2" cy="248.3" r="1.9"/>
<circle cx="192.1" cy="246.8" r="1.9"/>
<circle cx="218.3" cy="247.3" r="1.9"/>
<circle cx="170.8" cy="251.9" r="1.9"/>
<circle cx="221.8" cy="250.7" r="1.9"/>
<circle cx="210.1" cy="251.4" r="1.9"/>
<circle cx="210.8" cy="249.7" r="1.9"/>
<circle cx="213.9" cy="245.6" r="1.9"/>
<circle cx="213.3" cy="247.6" r="1.9"/>
<circle cx="178.6" cy="233.0" r="1.9"/>
<circle cx="177.7" cy="250.3" r="1.9"/>
<circle cx="187.9" cy="235.8" r="1.9"/>
<circle cx="202.7" cy="244.6" r="1.9"/>
<circle cx="209.6" cy="251.4" r="1.9"/>
<circle cx="200.2" cy="245.8" r="1.9"/>
<circle cx="214.2" cy="249.0" r="1.9"/>
<circle cx="197.9" cy="251.9" r="1.9"/>
<circle cx="169.0" cy="246.2" r="1.9"/>
<circle cx="207.5" cy="226.9" r="1.9"/>
<circle cx="198.5" cy="233.4" r="1.9"/>
<circle cx="201.9" cy="223.6" r="1.9"/>
<circle cx="205.0" cy="226.0" r="1.9"/>
<circle cx="202.1" cy="225.3" r="1.9"/>
<circle cx="192.2" cy="229.8" r="1.9"/>
<circle cx="201.8" cy="225.5" r="1.9"/>
<circle cx="203.6" cy="231.4" r="1.9"/>
<circle cx="207.3" cy="228.6" r="1.9"/>
<circle cx="206.7" cy="233.7" r="1.9"/>
<circle cx="207.6" cy="225.5" r="1.9"/>
<circle cx="178.4" cy="224.8" r="1.9"/>
<circle cx="177.6" cy="232.7" r="1.9"/>
<circle cx="186.8" cy="232.2" r="1.9"/>
<circle cx="188.2" cy="224.0" r="1.9"/>
<circle cx="196.1" cy="226.4" r="1.9"/>
<circle cx="184.1" cy="225.5" r="1.9"/>
<circle cx="200.5" cy="226.7" r="1.9"/>
<circle cx="206.5" cy="225.0" r="1.9"/>
<circle cx="184.7" cy="234.0" r="1.9"/>
<circle cx="194.7" cy="224.9" r="1.9"/>
<circle cx="181.9" cy="227.8" r="1.9"/>
<circle cx="202.2" cy="225.4" r="1.9"/>
<circle cx="168.3" cy="229.1" r="1.9"/>
<circle cx="168.7" cy="233.7" r="1.9"/>
<circle cx="191.0" cy="180.9" r="1.9"/>
<circle cx="181.8" cy="192.7" r="1.9"/>
<circle cx="189.7" cy="191.4" r="1.9"/>
<circle cx="200.8" cy="197.6" r="1.9"/>
<circle cx="196.5" cy="204.6" r="1.9"/>
<circle cx="202.5" cy="204.6" r="1.9"/>
<circle cx="191.9" cy="209.2" r="1.9"/>
<circle cx="191.6" cy="211.1" r="1.9"/>
<circle cx="199.1" cy="213.4" r="1.9"/>
<circle cx="197.8" cy="217.0" r="1.9"/>
<circle cx="189.4" cy="218.0" r="1.9"/>
<circle cx="152.5" cy="220.6" r="1.9"/>
<circle cx="196.0" cy="223.2" r="1.9"/>
<circle cx="181.5" cy="225.2" r="1.9"/>
<circle cx="161.7" cy="233.1" r="1.9"/>
<circle cx="158.4" cy="236.0" r="1.9"/>
<circle cx="162.6" cy="248.2" r="1.9"/>
<circle cx="84.4" cy="218.4" r="1.9"/>
<circle cx="85.6" cy="218.9" r="1.9"/>
<circle cx="87.3" cy="219.9" r="1.9"/>
<circle cx="80.1" cy="229.3" r="1.9"/>
<circle cx="164.3" cy="248.7" r="1.9"/>
<circle cx="156.0" cy="230.0" r="1.9"/>
<circle cx="170.0" cy="228.0" r="1.9"/>
<circle cx="186.0" cy="222.0" r="1.9"/>
<circle cx="205.0" cy="215.0" r="1.9"/>
<circle cx="208.0" cy="220.0" r="1.9"/>
</g>
<g fill="rgba(195,90,220,0.35)" stroke="rgba(185,80,215,0.45)" stroke-width="0.7">
<circle cx="207.6" cy="242.8" r="1.9"/>
<circle cx="203.1" cy="244.8" r="1.9"/>
<circle cx="212.8" cy="247.7" r="1.9"/>
<circle cx="200.8" cy="250.8" r="1.9"/>
<circle cx="206.5" cy="244.5" r="1.9"/>
<circle cx="213.7" cy="249.4" r="1.9"/>
<circle cx="197.6" cy="249.3" r="1.9"/>
<circle cx="221.4" cy="251.4" r="1.9"/>
<circle cx="217.7" cy="248.4" r="1.9"/>
<circle cx="217.4" cy="250.5" r="1.9"/>
<circle cx="219.7" cy="251.1" r="1.9"/>
<circle cx="212.6" cy="250.7" r="1.9"/>
<circle cx="217.2" cy="250.5" r="1.9"/>
<circle cx="187.2" cy="243.2" r="1.9"/>
<circle cx="214.5" cy="248.0" r="1.9"/>
<circle cx="210.2" cy="247.2" r="1.9"/>
<circle cx="196.4" cy="248.7" r="1.9"/>
<circle cx="215.2" cy="251.0" r="1.9"/>
<circle cx="188.7" cy="248.8" r="1.9"/>
<circle cx="216.3" cy="249.8" r="1.9"/>
<circle cx="196.4" cy="248.1" r="1.9"/>
<circle cx="214.7" cy="246.7" r="1.9"/>
<circle cx="203.9" cy="243.7" r="1.9"/>
<circle cx="212.4" cy="247.3" r="1.9"/>
<circle cx="213.8" cy="247.4" r="1.9"/>
<circle cx="213.6" cy="246.8" r="1.9"/>
<circle cx="208.1" cy="246.5" r="1.9"/>
<circle cx="213.9" cy="250.0" r="1.9"/>
<circle cx="209.1" cy="246.9" r="1.9"/>
<circle cx="206.3" cy="247.0" r="1.9"/>
<circle cx="215.5" cy="248.2" r="1.9"/>
<circle cx="201.9" cy="247.0" r="1.9"/>
<circle cx="197.2" cy="245.1" r="1.9"/>
<circle cx="200.0" cy="245.6" r="1.9"/>
<circle cx="215.5" cy="249.3" r="1.9"/>
<circle cx="217.0" cy="251.7" r="1.9"/>
<circle cx="201.7" cy="242.9" r="1.9"/>
<circle cx="213.3" cy="251.7" r="1.9"/>
<circle cx="223.9" cy="251.9" r="1.9"/>
<circle cx="215.5" cy="250.1" r="1.9"/>
<circle cx="207.2" cy="251.8" r="1.9"/>
<circle cx="216.7" cy="250.8" r="1.9"/>
<circle cx="214.1" cy="251.1" r="1.9"/>
<circle cx="186.8" cy="246.6" r="1.9"/>
<circle cx="222.2" cy="251.9" r="1.9"/>
<circle cx="209.0" cy="251.7" r="1.9"/>
<circle cx="204.0" cy="246.3" r="1.9"/>
<circle cx="212.2" cy="248.5" r="1.9"/>
<circle cx="216.7" cy="247.6" r="1.9"/>
<circle cx="191.5" cy="249.1" r="1.9"/>
<circle cx="209.9" cy="249.0" r="1.9"/>
<circle cx="201.3" cy="247.6" r="1.9"/>
<circle cx="213.8" cy="250.1" r="1.9"/>
<circle cx="215.3" cy="248.5" r="1.9"/>
<circle cx="208.6" cy="250.8" r="1.9"/>
<circle cx="200.0" cy="249.8" r="1.9"/>
<circle cx="207.0" cy="242.6" r="1.9"/>
<circle cx="196.8" cy="241.1" r="1.9"/>
<circle cx="198.7" cy="251.6" r="1.9"/>
<circle cx="182.7" cy="245.3" r="1.9"/>
<circle cx="215.8" cy="251.4" r="1.9"/>
<circle cx="203.9" cy="249.5" r="1.9"/>
<circle cx="221.7" cy="251.5" r="1.9"/>
<circle cx="210.6" cy="251.5" r="1.9"/>
<circle cx="218.5" cy="250.6" r="1.9"/>
<circle cx="192.5" cy="242.6" r="1.9"/>
<circle cx="219.2" cy="250.5" r="1.9"/>
<circle cx="208.9" cy="250.5" r="1.9"/>
<circle cx="222.7" cy="251.2" r="1.9"/>
<circle cx="211.2" cy="249.8" r="1.9"/>
<circle cx="190.6" cy="251.0" r="1.9"/>
<circle cx="223.1" cy="251.5" r="1.9"/>
<circle cx="188.2" cy="247.5" r="1.9"/>
<circle cx="221.7" cy="251.2" r="1.9"/>
<circle cx="220.8" cy="250.8" r="1.9"/>
<circle cx="203.6" cy="250.1" r="1.9"/>
<circle cx="219.8" cy="251.7" r="1.9"/>
<circle cx="217.3" cy="249.9" r="1.9"/>
<circle cx="203.7" cy="248.0" r="1.9"/>
<circle cx="220.9" cy="251.9" r="1.9"/>
<circle cx="210.2" cy="247.2" r="1.9"/>
<circle cx="199.3" cy="245.1" r="1.9"/>
<circle cx="200.7" cy="251.0" r="1.9"/>
<circle cx="221.0" cy="250.0" r="1.9"/>
<circle cx="216.6" cy="248.7" r="1.9"/>
<circle cx="189.1" cy="243.8" r="1.9"/>
<circle cx="216.3" cy="251.3" r="1.9"/>
<circle cx="201.9" cy="245.2" r="1.9"/>
<circle cx="217.7" cy="251.5" r="1.9"/>
<circle cx="208.8" cy="245.5" r="1.9"/>
<circle cx="224.0" cy="251.8" r="1.9"/>
<circle cx="189.4" cy="245.5" r="1.9"/>
<circle cx="205.6" cy="251.5" r="1.9"/>
<circle cx="221.3" cy="251.5" r="1.9"/>
<circle cx="188.3" cy="247.6" r="1.9"/>
<circle cx="219.3" cy="251.5" r="1.9"/>
<circle cx="211.4" cy="244.9" r="1.9"/>
<circle cx="207.6" cy="251.5" r="1.9"/>
<circle cx="198.2" cy="242.2" r="1.9"/>
<circle cx="219.9" cy="251.4" r="1.9"/>
<circle cx="205.1" cy="244.3" r="1.9"/>
<circle cx="219.5" cy="250.5" r="1.9"/>
<circle cx="208.5" cy="249.1" r="1.9"/>
<circle cx="204.9" cy="242.2" r="1.9"/>
<circle cx="198.0" cy="241.2" r="1.9"/>
<circle cx="187.2" cy="251.8" r="1.9"/>
<circle cx="201.4" cy="247.9" r="1.9"/>
<circle cx="199.8" cy="249.4" r="1.9"/>
<circle cx="213.6" cy="251.6" r="1.9"/>
<circle cx="211.0" cy="247.6" r="1.9"/>
<circle cx="187.2" cy="243.6" r="1.9"/>
<circle cx="215.5" cy="250.3" r="1.9"/>
<circle cx="222.7" cy="251.0" r="1.9"/>
<circle cx="194.9" cy="241.6" r="1.9"/>
<circle cx="192.5" cy="251.3" r="1.9"/>
<circle cx="204.2" cy="246.9" r="1.9"/>
<circle cx="208.1" cy="247.8" r="1.9"/>
<circle cx="217.0" cy="248.2" r="1.9"/>
<circle cx="223.1" cy="251.4" r="1.9"/>
<circle cx="211.1" cy="247.3" r="1.9"/>
<circle cx="197.0" cy="249.9" r="1.9"/>
<circle cx="200.8" cy="249.8" r="1.9"/>
<circle cx="205.8" cy="246.6" r="1.9"/>
<circle cx="200.5" cy="251.6" r="1.9"/>
<circle cx="213.3" cy="251.5" r="1.9"/>
<circle cx="209.4" cy="246.8" r="1.9"/>
<circle cx="215.5" cy="251.4" r="1.9"/>
<circle cx="219.9" cy="251.1" r="1.9"/>
<circle cx="200.9" cy="244.0" r="1.9"/>
<circle cx="220.1" cy="251.3" r="1.9"/>
<circle cx="184.3" cy="244.8" r="1.9"/>
<circle cx="217.6" cy="251.5" r="1.9"/>
<circle cx="202.6" cy="244.9" r="1.9"/>
<circle cx="217.8" cy="251.7" r="1.9"/>
<circle cx="202.9" cy="250.2" r="1.9"/>
<circle cx="198.7" cy="243.1" r="1.9"/>
<circle cx="216.1" cy="249.9" r="1.9"/>
<circle cx="219.6" cy="249.9" r="1.9"/>
<circle cx="215.2" cy="248.3" r="1.9"/>
<circle cx="216.8" cy="251.3" r="1.9"/>
<circle cx="212.7" cy="248.2" r="1.9"/>
<circle cx="210.1" cy="251.7" r="1.9"/>
<circle cx="202.3" cy="250.1" r="1.9"/>
<circle cx="222.3" cy="251.8" r="1.9"/>
<circle cx="210.5" cy="251.5" r="1.9"/>
<circle cx="219.4" cy="251.6" r="1.9"/>
<circle cx="216.6" cy="251.6" r="1.9"/>
<circle cx="220.9" cy="251.1" r="1.9"/>
<circle cx="220.8" cy="250.5" r="1.9"/>
<circle cx="206.9" cy="242.7" r="1.9"/>
<circle cx="216.4" cy="248.2" r="1.9"/>
<circle cx="217.0" cy="251.2" r="1.9"/>
<circle cx="210.7" cy="250.9" r="1.9"/>
<circle cx="202.4" cy="251.1" r="1.9"/>
<circle cx="202.9" cy="251.8" r="1.9"/>
<circle cx="210.2" cy="248.4" r="1.9"/>
<circle cx="216.5" cy="249.6" r="1.9"/>
<circle cx="203.0" cy="243.0" r="1.9"/>
<circle cx="216.7" cy="248.1" r="1.9"/>
<circle cx="220.4" cy="251.9" r="1.9"/>
<circle cx="211.1" cy="251.0" r="1.9"/>
<circle cx="196.7" cy="240.8" r="1.9"/>
<circle cx="212.2" cy="251.9" r="1.9"/>
<circle cx="209.9" cy="244.4" r="1.9"/>
<circle cx="209.5" cy="247.4" r="1.9"/>
<circle cx="216.9" cy="251.4" r="1.9"/>
<circle cx="216.7" cy="250.9" r="1.9"/>
<circle cx="212.0" cy="247.8" r="1.9"/>
<circle cx="222.6" cy="251.8" r="1.9"/>
<circle cx="205.1" cy="248.1" r="1.9"/>
<circle cx="207.0" cy="251.2" r="1.9"/>
<circle cx="216.3" cy="247.6" r="1.9"/>
<circle cx="218.6" cy="250.5" r="1.9"/>
<circle cx="206.2" cy="251.7" r="1.9"/>
<circle cx="216.5" cy="249.7" r="1.9"/>
<circle cx="210.7" cy="245.4" r="1.9"/>
<circle cx="202.4" cy="240.6" r="1.9"/>
<circle cx="215.6" cy="250.4" r="1.9"/>
<circle cx="221.4" cy="251.8" r="1.9"/>
<circle cx="222.9" cy="251.7" r="1.9"/>
<circle cx="211.7" cy="246.2" r="1.9"/>
<circle cx="191.1" cy="246.9" r="1.9"/>
<circle cx="219.5" cy="250.3" r="1.9"/>
<circle cx="206.0" cy="243.0" r="1.9"/>
<circle cx="220.6" cy="250.8" r="1.9"/>
<circle cx="217.8" cy="251.3" r="1.9"/>
<circle cx="216.4" cy="250.0" r="1.9"/>
<circle cx="201.6" cy="243.8" r="1.9"/>
<circle cx="204.3" cy="245.2" r="1.9"/>
<circle cx="210.0" cy="246.8" r="1.9"/>
<circle cx="203.2" cy="240.8" r="1.9"/>
<circle cx="211.4" cy="251.0" r="1.9"/>
<circle cx="212.0" cy="245.8" r="1.9"/>
<circle cx="216.5" cy="250.7" r="1.9"/>
<circle cx="202.4" cy="251.1" r="1.9"/>
<circle cx="216.8" cy="251.1" r="1.9"/>
<circle cx="222.0" cy="251.5" r="1.9"/>
<circle cx="211.7" cy="248.4" r="1.9"/>
<circle cx="213.4" cy="249.8" r="1.9"/>
<circle cx="217.9" cy="251.9" r="1.9"/>
<circle cx="201.7" cy="248.6" r="1.9"/>
<circle cx="187.4" cy="245.3" r="1.9"/>
<circle cx="199.9" cy="250.5" r="1.9"/>
<circle cx="195.3" cy="249.9" r="1.9"/>
<circle cx="189.3" cy="242.2" r="1.9"/>
<circle cx="208.0" cy="250.2" r="1.9"/>
<circle cx="218.0" cy="251.9" r="1.9"/>
<circle cx="216.6" cy="249.1" r="1.9"/>
<circle cx="219.5" cy="249.2" r="1.9"/>
<circle cx="218.6" cy="250.5" r="1.9"/>
<circle cx="214.4" cy="249.7" r="1.9"/>
<circle cx="215.9" cy="251.7" r="1.9"/>
<circle cx="218.3" cy="250.0" r="1.9"/>
<circle cx="200.4" cy="243.0" r="1.9"/>
<circle cx="198.3" cy="247.1" r="1.9"/>
<circle cx="217.6" cy="250.1" r="1.9"/>
<circle cx="221.4" cy="250.8" r="1.9"/>
<circle cx="212.6" cy="250.9" r="1.9"/>
<circle cx="192.3" cy="251.3" r="1.9"/>
<circle cx="206.0" cy="245.4" r="1.9"/>
<circle cx="191.5" cy="250.1" r="1.9"/>
<circle cx="220.1" cy="250.7" r="1.9"/>
<circle cx="218.9" cy="250.3" r="1.9"/>
<circle cx="219.7" cy="251.5" r="1.9"/>
<circle cx="215.9" cy="249.8" r="1.9"/>
<circle cx="198.6" cy="249.5" r="1.9"/>
<circle cx="203.6" cy="245.8" r="1.9"/>
<circle cx="214.6" cy="250.9" r="1.9"/>
<circle cx="218.4" cy="249.5" r="1.9"/>
<circle cx="188.6" cy="240.5" r="1.9"/>
<circle cx="192.6" cy="249.2" r="1.9"/>
<circle cx="205.0" cy="251.7" r="1.9"/>
<circle cx="208.7" cy="243.9" r="1.9"/>
<circle cx="217.4" cy="250.3" r="1.9"/>
<circle cx="208.5" cy="246.2" r="1.9"/>
<circle cx="208.2" cy="251.4" r="1.9"/>
<circle cx="220.8" cy="251.1" r="1.9"/>
<circle cx="216.0" cy="251.2" r="1.9"/>
<circle cx="214.4" cy="248.3" r="1.9"/>
<circle cx="194.9" cy="247.7" r="1.9"/>
<circle cx="204.6" cy="247.9" r="1.9"/>
<circle cx="203.7" cy="251.7" r="1.9"/>
<circle cx="219.1" cy="250.3" r="1.9"/>
<circle cx="214.9" cy="248.2" r="1.9"/>
<circle cx="194.9" cy="251.4" r="1.9"/>
<circle cx="212.4" cy="245.5" r="1.9"/>
<circle cx="221.4" cy="250.7" r="1.9"/>
<circle cx="219.0" cy="251.8" r="1.9"/>
<circle cx="218.2" cy="249.1" r="1.9"/>
<circle cx="218.1" cy="249.4" r="1.9"/>
<circle cx="211.5" cy="251.4" r="1.9"/>
<circle cx="216.3" cy="251.6" r="1.9"/>
<circle cx="215.9" cy="247.8" r="1.9"/>
<circle cx="215.2" cy="248.5" r="1.9"/>
<circle cx="217.5" cy="251.7" r="1.9"/>
<circle cx="216.2" cy="250.2" r="1.9"/>
<circle cx="218.0" cy="251.0" r="1.9"/>
<circle cx="217.6" cy="248.9" r="1.9"/>
<circle cx="182.8" cy="251.9" r="1.9"/>
<circle cx="195.5" cy="241.4" r="1.9"/>
<circle cx="185.4" cy="249.8" r="1.9"/>
<circle cx="213.2" cy="250.3" r="1.9"/>
<circle cx="212.8" cy="251.0" r="1.9"/>
<circle cx="203.8" cy="243.9" r="1.9"/>
<circle cx="216.3" cy="248.4" r="1.9"/>
<circle cx="196.3" cy="249.9" r="1.9"/>
<circle cx="202.7" cy="242.3" r="1.9"/>
<circle cx="219.0" cy="251.2" r="1.9"/>
<circle cx="186.1" cy="241.8" r="1.9"/>
<circle cx="218.9" cy="249.8" r="1.9"/>
<circle cx="201.6" cy="251.7" r="1.9"/>
<circle cx="210.6" cy="246.3" r="1.9"/>
<circle cx="193.8" cy="250.3" r="1.9"/>
<circle cx="213.8" cy="251.6" r="1.9"/>
<circle cx="214.2" cy="247.6" r="1.9"/>
<circle cx="216.7" cy="251.8" r="1.9"/>
<circle cx="197.4" cy="247.5" r="1.9"/>
<circle cx="212.2" cy="245.5" r="1.9"/>
<circle cx="214.6" cy="247.2" r="1.9"/>
<circle cx="210.2" cy="246.6" r="1.9"/>
<circle cx="214.6" cy="249.2" r="1.9"/>
<circle cx="219.8" cy="249.8" r="1.9"/>
<circle cx="208.6" cy="249.1" r="1.9"/>
<circle cx="217.1" cy="250.8" r="1.9"/>
<circle cx="219.2" cy="251.9" r="1.9"/>
<circle cx="205.8" cy="245.2" r="1.9"/>
<circle cx="211.4" cy="248.8" r="1.9"/>
<circle cx="189.5" cy="248.8" r="1.9"/>
<circle cx="216.8" cy="248.7" r="1.9"/>
<circle cx="216.9" cy="247.7" r="1.9"/>
<circle cx="211.3" cy="247.2" r="1.9"/>
<circle cx="214.8" cy="248.3" r="1.9"/>
<circle cx="217.7" cy="250.3" r="1.9"/>
<circle cx="202.1" cy="240.6" r="1.9"/>
<circle cx="195.9" cy="248.7" r="1.9"/>
<circle cx="222.6" cy="250.9" r="1.9"/>
<circle cx="208.8" cy="247.8" r="1.9"/>
<circle cx="218.8" cy="249.5" r="1.9"/>
<circle cx="211.6" cy="250.7" r="1.9"/>
<circle cx="215.5" cy="249.8" r="1.9"/>
<circle cx="210.2" cy="251.9" r="1.9"/>
<circle cx="213.8" cy="247.8" r="1.9"/>
<circle cx="216.4" cy="250.0" r="1.9"/>
<circle cx="217.9" cy="248.7" r="1.9"/>
<circle cx="217.3" cy="249.3" r="1.9"/>
<circle cx="196.7" cy="244.2" r="1.9"/>
<circle cx="215.6" cy="247.4" r="1.9"/>
<circle cx="221.4" cy="251.3" r="1.9"/>
<circle cx="192.3" cy="251.0" r="1.9"/>
<circle cx="210.5" cy="244.2" r="1.9"/>
<circle cx="214.0" cy="251.0" r="1.9"/>
<circle cx="217.4" cy="250.7" r="1.9"/>
<circle cx="204.6" cy="250.9" r="1.9"/>
<circle cx="216.9" cy="251.4" r="1.9"/>
<circle cx="214.5" cy="251.3" r="1.9"/>
<circle cx="209.9" cy="244.1" r="1.9"/>
<circle cx="209.7" cy="248.8" r="1.9"/>
<circle cx="217.4" cy="251.6" r="1.9"/>
<circle cx="218.1" cy="249.6" r="1.9"/>
<circle cx="213.5" cy="250.3" r="1.9"/>
<circle cx="200.8" cy="250.9" r="1.9"/>
<circle cx="223.6" cy="251.5" r="1.9"/>
<circle cx="213.5" cy="246.4" r="1.9"/>
<circle cx="212.2" cy="250.5" r="1.9"/>
<circle cx="207.3" cy="245.5" r="1.9"/>
<circle cx="213.2" cy="247.3" r="1.9"/>
<circle cx="205.8" cy="249.4" r="1.9"/>
<circle cx="212.2" cy="251.5" r="1.9"/>
<circle cx="222.4" cy="251.4" r="1.9"/>
<circle cx="209.3" cy="244.6" r="1.9"/>
<circle cx="204.1" cy="210.3" r="1.9"/>
<circle cx="191.6" cy="219.7" r="1.9"/>
<circle cx="181.5" cy="222.8" r="1.9"/>
<circle cx="209.9" cy="226.9" r="1.9"/>
<circle cx="201.8" cy="229.8" r="1.9"/>
<circle cx="166.9" cy="240.7" r="1.9"/>
<circle cx="176.5" cy="244.9" r="1.9"/>
<circle cx="185.0" cy="236.0" r="1.9"/>
<circle cx="195.0" cy="233.0" r="1.9"/>
</g>
<g fill="rgba(90,225,205,0.5)" stroke="rgba(70,215,195,0.55)" stroke-width="0.7">
<circle cx="233.7" cy="246.8" r="1.9"/>
<circle cx="242.7" cy="247.9" r="1.9"/>
<circle cx="234.6" cy="247.1" r="1.9"/>
<circle cx="231.7" cy="250.1" r="1.9"/>
<circle cx="234.0" cy="248.7" r="1.9"/>
<circle cx="232.0" cy="248.2" r="1.9"/>
<circle cx="229.6" cy="251.8" r="1.9"/>
<circle cx="230.3" cy="249.1" r="1.9"/>
<circle cx="229.3" cy="251.7" r="1.9"/>
<circle cx="231.8" cy="248.7" r="1.9"/>
<circle cx="239.2" cy="250.9" r="1.9"/>
<circle cx="230.3" cy="248.9" r="1.9"/>
<circle cx="234.5" cy="246.6" r="1.9"/>
<circle cx="249.4" cy="239.2" r="1.9"/>
<circle cx="246.3" cy="250.1" r="1.9"/>
<circle cx="229.6" cy="250.0" r="1.9"/>
<circle cx="244.3" cy="247.2" r="1.9"/>
<circle cx="234.7" cy="250.3" r="1.9"/>
<circle cx="246.1" cy="249.1" r="1.9"/>
<circle cx="229.4" cy="249.7" r="1.9"/>
<circle cx="227.2" cy="250.8" r="1.9"/>
<circle cx="226.5" cy="251.0" r="1.9"/>
<circle cx="240.1" cy="243.6" r="1.9"/>
<circle cx="241.1" cy="247.6" r="1.9"/>
<circle cx="229.2" cy="250.7" r="1.9"/>
<circle cx="253.8" cy="244.7" r="1.9"/>
<circle cx="225.3" cy="251.7" r="1.9"/>
<circle cx="244.1" cy="243.1" r="1.9"/>
<circle cx="235.1" cy="245.8" r="1.9"/>
<circle cx="232.9" cy="250.4" r="1.9"/>
<circle cx="252.4" cy="239.0" r="1.9"/>
<circle cx="245.1" cy="242.3" r="1.9"/>
<circle cx="231.8" cy="251.1" r="1.9"/>
<circle cx="232.0" cy="251.4" r="1.9"/>
<circle cx="229.4" cy="250.2" r="1.9"/>
<circle cx="235.6" cy="251.2" r="1.9"/>
<circle cx="232.1" cy="247.9" r="1.9"/>
<circle cx="236.0" cy="249.9" r="1.9"/>
<circle cx="247.7" cy="250.3" r="1.9"/>
<circle cx="237.4" cy="250.0" r="1.9"/>
<circle cx="243.4" cy="247.3" r="1.9"/>
<circle cx="240.0" cy="244.7" r="1.9"/>
<circle cx="236.3" cy="248.8" r="1.9"/>
<circle cx="228.7" cy="251.5" r="1.9"/>
<circle cx="242.6" cy="248.8" r="1.9"/>
<circle cx="237.0" cy="245.5" r="1.9"/>
<circle cx="236.6" cy="246.6" r="1.9"/>
<circle cx="247.6" cy="239.7" r="1.9"/>
<circle cx="230.1" cy="249.1" r="1.9"/>
<circle cx="228.7" cy="250.6" r="1.9"/>
<circle cx="233.4" cy="247.0" r="1.9"/>
<circle cx="236.8" cy="249.8" r="1.9"/>
<circle cx="242.3" cy="242.7" r="1.9"/>
<circle cx="236.0" cy="245.6" r="1.9"/>
<circle cx="254.1" cy="241.9" r="1.9"/>
<circle cx="231.1" cy="248.6" r="1.9"/>
<circle cx="229.6" cy="250.1" r="1.9"/>
<circle cx="235.0" cy="250.9" r="1.9"/>
<circle cx="236.7" cy="249.7" r="1.9"/>
<circle cx="234.1" cy="247.4" r="1.9"/>
<circle cx="240.6" cy="243.3" r="1.9"/>
<circle cx="234.1" cy="246.3" r="1.9"/>
<circle cx="229.2" cy="249.2" r="1.9"/>
<circle cx="234.5" cy="249.8" r="1.9"/>
<circle cx="226.3" cy="251.7" r="1.9"/>
<circle cx="232.2" cy="249.2" r="1.9"/>
<circle cx="234.0" cy="248.2" r="1.9"/>
<circle cx="239.0" cy="245.9" r="1.9"/>
<circle cx="233.9" cy="250.0" r="1.9"/>
<circle cx="225.5" cy="251.8" r="1.9"/>
<circle cx="237.8" cy="245.1" r="1.9"/>
<circle cx="244.1" cy="241.0" r="1.9"/>
<circle cx="227.0" cy="250.5" r="1.9"/>
<circle cx="232.9" cy="251.8" r="1.9"/>
<circle cx="235.3" cy="247.9" r="1.9"/>
<circle cx="230.5" cy="248.9" r="1.9"/>
<circle cx="228.3" cy="251.2" r="1.9"/>
<circle cx="233.1" cy="249.6" r="1.9"/>
<circle cx="228.5" cy="251.2" r="1.9"/>
<circle cx="229.3" cy="249.9" r="1.9"/>
<circle cx="243.3" cy="243.5" r="1.9"/>
<circle cx="239.2" cy="243.9" r="1.9"/>
<circle cx="231.6" cy="251.1" r="1.9"/>
<circle cx="229.4" cy="249.6" r="1.9"/>
<circle cx="229.6" cy="250.1" r="1.9"/>
<circle cx="239.6" cy="246.7" r="1.9"/>
<circle cx="235.5" cy="246.8" r="1.9"/>
<circle cx="231.3" cy="250.8" r="1.9"/>
<circle cx="228.1" cy="251.0" r="1.9"/>
<circle cx="233.4" cy="250.5" r="1.9"/>
<circle cx="244.2" cy="246.1" r="1.9"/>
<circle cx="237.7" cy="246.9" r="1.9"/>
<circle cx="230.0" cy="251.6" r="1.9"/>
<circle cx="233.3" cy="248.4" r="1.9"/>
<circle cx="235.5" cy="248.3" r="1.9"/>
<circle cx="229.5" cy="250.8" r="1.9"/>
<circle cx="235.6" cy="251.5" r="1.9"/>
<circle cx="228.8" cy="250.2" r="1.9"/>
<circle cx="229.5" cy="251.7" r="1.9"/>
<circle cx="237.8" cy="250.9" r="1.9"/>
<circle cx="248.6" cy="244.8" r="1.9"/>
<circle cx="229.8" cy="250.4" r="1.9"/>
<circle cx="243.7" cy="241.4" r="1.9"/>
<circle cx="234.8" cy="251.2" r="1.9"/>
<circle cx="245.1" cy="247.3" r="1.9"/>
<circle cx="231.8" cy="250.8" r="1.9"/>
<circle cx="234.9" cy="249.0" r="1.9"/>
<circle cx="229.5" cy="250.2" r="1.9"/>
<circle cx="228.3" cy="250.7" r="1.9"/>
<circle cx="230.3" cy="250.1" r="1.9"/>
<circle cx="236.8" cy="248.1" r="1.9"/>
<circle cx="228.9" cy="250.0" r="1.9"/>
<circle cx="240.2" cy="251.3" r="1.9"/>
<circle cx="246.7" cy="250.1" r="1.9"/>
<circle cx="233.1" cy="248.8" r="1.9"/>
<circle cx="247.2" cy="242.5" r="1.9"/>
<circle cx="234.1" cy="250.1" r="1.9"/>
<circle cx="247.4" cy="243.2" r="1.9"/>
<circle cx="229.5" cy="249.7" r="1.9"/>
<circle cx="228.6" cy="250.2" r="1.9"/>
<circle cx="233.8" cy="246.4" r="1.9"/>
<circle cx="233.0" cy="247.9" r="1.9"/>
<circle cx="230.4" cy="250.1" r="1.9"/>
<circle cx="233.4" cy="249.0" r="1.9"/>
<circle cx="240.6" cy="248.9" r="1.9"/>
<circle cx="237.7" cy="248.3" r="1.9"/>
<circle cx="243.9" cy="245.3" r="1.9"/>
<circle cx="232.0" cy="248.6" r="1.9"/>
<circle cx="251.7" cy="248.2" r="1.9"/>
<circle cx="234.3" cy="249.3" r="1.9"/>
<circle cx="246.3" cy="245.2" r="1.9"/>
<circle cx="247.8" cy="245.5" r="1.9"/>
<circle cx="233.9" cy="249.7" r="1.9"/>
<circle cx="249.5" cy="248.7" r="1.9"/>
<circle cx="231.2" cy="249.2" r="1.9"/>
<circle cx="244.5" cy="243.3" r="1.9"/>
<circle cx="232.0" cy="250.1" r="1.9"/>
<circle cx="226.4" cy="251.3" r="1.9"/>
<circle cx="244.2" cy="242.2" r="1.9"/>
<circle cx="231.1" cy="251.4" r="1.9"/>
<circle cx="253.1" cy="245.1" r="1.9"/>
<circle cx="234.1" cy="248.9" r="1.9"/>
<circle cx="246.5" cy="240.7" r="1.9"/>
<circle cx="235.4" cy="245.6" r="1.9"/>
<circle cx="230.1" cy="250.8" r="1.9"/>
<circle cx="233.3" cy="247.2" r="1.9"/>
<circle cx="235.6" cy="246.7" r="1.9"/>
<circle cx="234.3" cy="246.6" r="1.9"/>
<circle cx="235.9" cy="247.6" r="1.9"/>
<circle cx="234.6" cy="251.8" r="1.9"/>
<circle cx="234.2" cy="249.8" r="1.9"/>
<circle cx="244.7" cy="249.2" r="1.9"/>
<circle cx="226.0" cy="251.4" r="1.9"/>
<circle cx="232.4" cy="247.8" r="1.9"/>
<circle cx="240.5" cy="248.5" r="1.9"/>
<circle cx="226.6" cy="251.1" r="1.9"/>
<circle cx="241.1" cy="250.4" r="1.9"/>
<circle cx="230.7" cy="250.2" r="1.9"/>
<circle cx="234.0" cy="251.1" r="1.9"/>
<circle cx="240.5" cy="251.4" r="1.9"/>
<circle cx="253.2" cy="247.9" r="1.9"/>
<circle cx="251.3" cy="239.1" r="1.9"/>
<circle cx="227.1" cy="251.5" r="1.9"/>
<circle cx="242.1" cy="242.9" r="1.9"/>
<circle cx="239.1" cy="244.8" r="1.9"/>
<circle cx="228.4" cy="250.2" r="1.9"/>
<circle cx="235.9" cy="251.1" r="1.9"/>
<circle cx="236.5" cy="251.9" r="1.9"/>
<circle cx="228.1" cy="251.0" r="1.9"/>
<circle cx="235.7" cy="249.7" r="1.9"/>
<circle cx="245.9" cy="239.3" r="1.9"/>
<circle cx="229.8" cy="250.3" r="1.9"/>
<circle cx="234.2" cy="250.5" r="1.9"/>
<circle cx="233.4" cy="248.8" r="1.9"/>
<circle cx="232.2" cy="247.5" r="1.9"/>
<circle cx="234.1" cy="248.0" r="1.9"/>
<circle cx="238.6" cy="248.8" r="1.9"/>
<circle cx="235.3" cy="249.3" r="1.9"/>
<circle cx="234.9" cy="247.6" r="1.9"/>
<circle cx="243.9" cy="246.8" r="1.9"/>
<circle cx="231.1" cy="250.0" r="1.9"/>
<circle cx="230.9" cy="249.2" r="1.9"/>
<circle cx="244.5" cy="245.8" r="1.9"/>
<circle cx="230.4" cy="249.6" r="1.9"/>
<circle cx="245.4" cy="243.5" r="1.9"/>
<circle cx="229.1" cy="251.4" r="1.9"/>
<circle cx="237.9" cy="247.2" r="1.9"/>
<circle cx="229.0" cy="250.2" r="1.9"/>
<circle cx="229.0" cy="250.0" r="1.9"/>
<circle cx="239.1" cy="245.0" r="1.9"/>
<circle cx="240.0" cy="247.5" r="1.9"/>
<circle cx="249.4" cy="245.6" r="1.9"/>
<circle cx="243.3" cy="244.7" r="1.9"/>
<circle cx="226.5" cy="250.8" r="1.9"/>
<circle cx="247.6" cy="240.7" r="1.9"/>
<circle cx="230.0" cy="250.1" r="1.9"/>
<circle cx="225.8" cy="251.6" r="1.9"/>
<circle cx="238.6" cy="249.9" r="1.9"/>
<circle cx="226.2" cy="251.8" r="1.9"/>
<circle cx="227.6" cy="251.6" r="1.9"/>
<circle cx="229.6" cy="251.0" r="1.9"/>
<circle cx="235.9" cy="249.7" r="1.9"/>
<circle cx="247.8" cy="250.4" r="1.9"/>
<circle cx="241.5" cy="250.1" r="1.9"/>
<circle cx="245.8" cy="241.7" r="1.9"/>
<circle cx="236.3" cy="245.1" r="1.9"/>
<circle cx="232.2" cy="248.1" r="1.9"/>
<circle cx="231.4" cy="250.1" r="1.9"/>
<circle cx="230.9" cy="248.3" r="1.9"/>
<circle cx="234.1" cy="248.8" r="1.9"/>
<circle cx="226.2" cy="251.2" r="1.9"/>
<circle cx="230.6" cy="249.2" r="1.9"/>
<circle cx="243.6" cy="245.5" r="1.9"/>
<circle cx="229.5" cy="250.4" r="1.9"/>
<circle cx="237.8" cy="250.1" r="1.9"/>
<circle cx="247.2" cy="241.1" r="1.9"/>
<circle cx="228.1" cy="250.5" r="1.9"/>
<circle cx="237.1" cy="247.3" r="1.9"/>
<circle cx="230.8" cy="251.9" r="1.9"/>
<circle cx="241.1" cy="250.4" r="1.9"/>
<circle cx="251.3" cy="240.5" r="1.9"/>
<circle cx="252.2" cy="241.1" r="1.9"/>
<circle cx="235.8" cy="245.5" r="1.9"/>
<circle cx="230.2" cy="250.4" r="1.9"/>
<circle cx="237.9" cy="249.8" r="1.9"/>
<circle cx="229.4" cy="250.2" r="1.9"/>
<circle cx="230.2" cy="250.0" r="1.9"/>
<circle cx="235.9" cy="246.1" r="1.9"/>
<circle cx="225.8" cy="251.7" r="1.9"/>
<circle cx="226.6" cy="251.2" r="1.9"/>
<circle cx="238.8" cy="245.1" r="1.9"/>
<circle cx="232.7" cy="250.6" r="1.9"/>
<circle cx="240.0" cy="248.1" r="1.9"/>
<circle cx="237.0" cy="246.9" r="1.9"/>
<circle cx="245.3" cy="244.6" r="1.9"/>
<circle cx="227.0" cy="251.7" r="1.9"/>
<circle cx="231.6" cy="249.7" r="1.9"/>
<circle cx="231.5" cy="249.8" r="1.9"/>
<circle cx="234.2" cy="247.6" r="1.9"/>
<circle cx="228.6" cy="251.9" r="1.9"/>
<circle cx="233.2" cy="248.2" r="1.9"/>
<circle cx="251.6" cy="248.7" r="1.9"/>
<circle cx="226.6" cy="251.4" r="1.9"/>
<circle cx="232.8" cy="247.2" r="1.9"/>
<circle cx="238.0" cy="248.1" r="1.9"/>
<circle cx="250.6" cy="245.2" r="1.9"/>
<circle cx="230.0" cy="249.0" r="1.9"/>
<circle cx="235.1" cy="248.2" r="1.9"/>
<circle cx="236.5" cy="249.9" r="1.9"/>
<circle cx="239.5" cy="251.0" r="1.9"/>
<circle cx="234.1" cy="246.3" r="1.9"/>
<circle cx="225.7" cy="251.5" r="1.9"/>
<circle cx="229.0" cy="250.0" r="1.9"/>
<circle cx="247.6" cy="243.2" r="1.9"/>
<circle cx="243.5" cy="251.5" r="1.9"/>
<circle cx="236.0" cy="247.6" r="1.9"/>
<circle cx="233.4" cy="248.2" r="1.9"/>
<circle cx="232.3" cy="250.3" r="1.9"/>
<circle cx="239.1" cy="250.7" r="1.9"/>
<circle cx="247.3" cy="249.1" r="1.9"/>
<circle cx="234.8" cy="249.1" r="1.9"/>
<circle cx="228.8" cy="251.1" r="1.9"/>
<circle cx="235.8" cy="245.4" r="1.9"/>
<circle cx="233.1" cy="247.6" r="1.9"/>
<circle cx="234.7" cy="250.0" r="1.9"/>
<circle cx="236.1" cy="250.2" r="1.9"/>
<circle cx="235.9" cy="249.8" r="1.9"/>
<circle cx="229.4" cy="250.6" r="1.9"/>
<circle cx="231.2" cy="250.1" r="1.9"/>
<circle cx="226.5" cy="250.9" r="1.9"/>
<circle cx="232.6" cy="248.4" r="1.9"/>
<circle cx="227.3" cy="251.7" r="1.9"/>
<circle cx="232.6" cy="251.8" r="1.9"/>
<circle cx="234.3" cy="248.9" r="1.9"/>
<circle cx="230.9" cy="251.5" r="1.9"/>
<circle cx="230.3" cy="251.3" r="1.9"/>
<circle cx="231.5" cy="248.3" r="1.9"/>
<circle cx="226.9" cy="251.7" r="1.9"/>
<circle cx="240.9" cy="250.7" r="1.9"/>
<circle cx="227.4" cy="250.9" r="1.9"/>
<circle cx="247.1" cy="245.0" r="1.9"/>
<circle cx="230.2" cy="250.8" r="1.9"/>
<circle cx="240.5" cy="248.9" r="1.9"/>
<circle cx="242.8" cy="242.9" r="1.9"/>
<circle cx="237.5" cy="250.8" r="1.9"/>
<circle cx="237.9" cy="246.0" r="1.9"/>
<circle cx="234.3" cy="246.7" r="1.9"/>
<circle cx="232.0" cy="247.9" r="1.9"/>
<circle cx="231.6" cy="249.2" r="1.9"/>
<circle cx="230.5" cy="249.5" r="1.9"/>
<circle cx="254.6" cy="250.6" r="1.9"/>
<circle cx="231.7" cy="250.9" r="1.9"/>
<circle cx="236.5" cy="251.0" r="1.9"/>
<circle cx="243.7" cy="246.0" r="1.9"/>
<circle cx="243.2" cy="251.2" r="1.9"/>
<circle cx="230.3" cy="250.4" r="1.9"/>
<circle cx="235.5" cy="247.2" r="1.9"/>
<circle cx="248.4" cy="246.2" r="1.9"/>
<circle cx="239.9" cy="249.9" r="1.9"/>
<circle cx="251.4" cy="245.4" r="1.9"/>
<circle cx="248.6" cy="239.6" r="1.9"/>
<circle cx="231.9" cy="249.7" r="1.9"/>
<circle cx="232.8" cy="247.9" r="1.9"/>
<circle cx="244.1" cy="249.7" r="1.9"/>
<circle cx="239.8" cy="248.5" r="1.9"/>
<circle cx="228.3" cy="250.2" r="1.9"/>
<circle cx="230.9" cy="250.5" r="1.9"/>
<circle cx="231.9" cy="251.8" r="1.9"/>
<circle cx="235.8" cy="251.8" r="1.9"/>
<circle cx="231.0" cy="251.8" r="1.9"/>
<circle cx="228.2" cy="250.6" r="1.9"/>
<circle cx="237.7" cy="249.3" r="1.9"/>
<circle cx="228.8" cy="251.8" r="1.9"/>
<circle cx="246.5" cy="242.5" r="1.9"/>
<circle cx="239.2" cy="250.3" r="1.9"/>
<circle cx="238.9" cy="248.2" r="1.9"/>
<circle cx="230.3" cy="249.8" r="1.9"/>
<circle cx="251.5" cy="243.7" r="1.9"/>
<circle cx="239.8" cy="243.4" r="1.9"/>
<circle cx="234.2" cy="249.8" r="1.9"/>
<circle cx="246.2" cy="243.2" r="1.9"/>
<circle cx="243.8" cy="242.7" r="1.9"/>
<circle cx="236.1" cy="246.5" r="1.9"/>
<circle cx="233.0" cy="248.6" r="1.9"/>
<circle cx="244.9" cy="250.0" r="1.9"/>
<circle cx="229.1" cy="250.9" r="1.9"/>
<circle cx="236.1" cy="247.4" r="1.9"/>
<circle cx="229.9" cy="251.2" r="1.9"/>
<circle cx="227.7" cy="251.9" r="1.9"/>
<circle cx="237.0" cy="244.7" r="1.9"/>
<circle cx="235.2" cy="246.8" r="1.9"/>
<circle cx="240.5" cy="248.6" r="1.9"/>
<circle cx="237.3" cy="246.7" r="1.9"/>
<circle cx="237.8" cy="246.9" r="1.9"/>
<circle cx="235.5" cy="247.2" r="1.9"/>
<circle cx="240.5" cy="251.7" r="1.9"/>
<circle cx="234.5" cy="248.0" r="1.9"/>
<circle cx="227.4" cy="251.2" r="1.9"/>
<circle cx="237.4" cy="250.9" r="1.9"/>
<circle cx="247.8" cy="243.7" r="1.9"/>
<circle cx="228.6" cy="249.8" r="1.9"/>
<circle cx="226.9" cy="251.0" r="1.9"/>
<circle cx="232.1" cy="248.1" r="1.9"/>
<circle cx="240.2" cy="248.8" r="1.9"/>
<circle cx="250.0" cy="247.1" r="1.9"/>
<circle cx="239.0" cy="246.7" r="1.9"/>
<circle cx="236.4" cy="246.6" r="1.9"/>
<circle cx="237.0" cy="247.7" r="1.9"/>
<circle cx="246.1" cy="251.6" r="1.9"/>
<circle cx="233.0" cy="251.5" r="1.9"/>
<circle cx="243.1" cy="248.8" r="1.9"/>
<circle cx="234.4" cy="247.6" r="1.9"/>
<circle cx="238.5" cy="248.9" r="1.9"/>
<circle cx="240.5" cy="244.3" r="1.9"/>
<circle cx="238.1" cy="248.8" r="1.9"/>
<circle cx="239.5" cy="243.5" r="1.9"/>
<circle cx="225.9" cy="251.5" r="1.9"/>
<circle cx="239.1" cy="251.2" r="1.9"/>
<circle cx="233.2" cy="251.1" r="1.9"/>
<circle cx="232.6" cy="248.9" r="1.9"/>
<circle cx="228.8" cy="250.5" r="1.9"/>
<circle cx="229.2" cy="249.6" r="1.9"/>
<circle cx="230.8" cy="248.8" r="1.9"/>
<circle cx="228.2" cy="250.2" r="1.9"/>
<circle cx="242.4" cy="241.3" r="1.9"/>
<circle cx="233.2" cy="247.1" r="1.9"/>
<circle cx="232.9" cy="248.4" r="1.9"/>
<circle cx="232.0" cy="249.3" r="1.9"/>
<circle cx="229.1" cy="249.5" r="1.9"/>
<circle cx="231.3" cy="249.1" r="1.9"/>
<circle cx="228.8" cy="249.9" r="1.9"/>
<circle cx="232.7" cy="250.3" r="1.9"/>
<circle cx="250.9" cy="241.1" r="1.9"/>
<circle cx="229.6" cy="250.7" r="1.9"/>
<circle cx="227.6" cy="251.7" r="1.9"/>
<circle cx="244.1" cy="248.6" r="1.9"/>
<circle cx="243.8" cy="246.7" r="1.9"/>
<circle cx="236.2" cy="249.3" r="1.9"/>
<circle cx="231.3" cy="248.9" r="1.9"/>
<circle cx="252.0" cy="242.5" r="1.9"/>
<circle cx="228.9" cy="251.1" r="1.9"/>
<circle cx="232.2" cy="250.8" r="1.9"/>
<circle cx="233.1" cy="247.4" r="1.9"/>
<circle cx="242.7" cy="247.4" r="1.9"/>
<circle cx="236.2" cy="245.8" r="1.9"/>
<circle cx="231.6" cy="251.4" r="1.9"/>
<circle cx="237.7" cy="250.4" r="1.9"/>
<circle cx="235.7" cy="248.4" r="1.9"/>
<circle cx="234.5" cy="246.6" r="1.9"/>
<circle cx="234.3" cy="248.0" r="1.9"/>
<circle cx="248.4" cy="243.0" r="1.9"/>
<circle cx="232.7" cy="250.3" r="1.9"/>
<circle cx="236.1" cy="245.6" r="1.9"/>
<circle cx="237.0" cy="250.6" r="1.9"/>
<circle cx="234.3" cy="250.5" r="1.9"/>
<circle cx="249.3" cy="246.1" r="1.9"/>
<circle cx="230.4" cy="249.3" r="1.9"/>
<circle cx="228.0" cy="251.4" r="1.9"/>
<circle cx="234.3" cy="248.4" r="1.9"/>
<circle cx="242.4" cy="250.5" r="1.9"/>
<circle cx="227.5" cy="250.8" r="1.9"/>
<circle cx="236.1" cy="248.8" r="1.9"/>
<circle cx="233.7" cy="250.8" r="1.9"/>
<circle cx="239.0" cy="249.4" r="1.9"/>
<circle cx="232.9" cy="249.5" r="1.9"/>
<circle cx="230.6" cy="251.2" r="1.9"/>
<circle cx="233.6" cy="247.0" r="1.9"/>
<circle cx="231.2" cy="250.0" r="1.9"/>
<circle cx="238.8" cy="251.4" r="1.9"/>
<circle cx="227.4" cy="250.7" r="1.9"/>
<circle cx="234.4" cy="247.0" r="1.9"/>
<circle cx="232.6" cy="249.1" r="1.9"/>
<circle cx="243.4" cy="251.2" r="1.9"/>
<circle cx="237.2" cy="246.1" r="1.9"/>
<circle cx="242.1" cy="246.8" r="1.9"/>
<circle cx="231.1" cy="251.1" r="1.9"/>
<circle cx="246.7" cy="241.2" r="1.9"/>
<circle cx="240.9" cy="247.7" r="1.9"/>
<circle cx="239.6" cy="243.1" r="1.9"/>
<circle cx="244.3" cy="244.0" r="1.9"/>
<circle cx="244.5" cy="232.7" r="1.9"/>
<circle cx="250.4" cy="244.4" r="1.9"/>
<circle cx="240.6" cy="235.2" r="1.9"/>
<circle cx="279.1" cy="243.0" r="1.9"/>
<circle cx="272.3" cy="231.9" r="1.9"/>
<circle cx="250.5" cy="241.2" r="1.9"/>
<circle cx="262.0" cy="213.0" r="1.9"/>
<circle cx="268.0" cy="216.0" r="1.9"/>
<circle cx="285.0" cy="220.0" r="1.9"/>
<circle cx="290.0" cy="226.0" r="1.9"/>
<circle cx="240.0" cy="240.0" r="1.9"/>
<circle cx="255.0" cy="236.0" r="1.9"/>
<circle cx="270.0" cy="230.0" r="1.9"/>
<circle cx="275.0" cy="245.0" r="1.9"/>
</g>
<rect x="51.60" y="23.50" width="96.30" height="79.80" fill="none" stroke="#222" stroke-width="1" />
<ellipse cx="59.00" cy="29.80" rx="3.50" ry="2.50" fill="#efa7ad" stroke="#e79298" stroke-width="0.6"/>
<text x="64.80" y="32.70" font-size="8.2" font-weight="bold" stroke="#000" stroke-width="0.16" textLength="11.07" lengthAdjust="spacingAndGlyphs" >Up</text>
<ellipse cx="59.00" cy="50.00" rx="3.50" ry="2.50" fill="#aad8f8" stroke="#96cdf3" stroke-width="0.6"/>
<text x="64.80" y="52.90" font-size="8.2" font-weight="bold" stroke="#000" stroke-width="0.16" textLength="22.61" lengthAdjust="spacingAndGlyphs" >Down</text>
<ellipse cx="59.00" cy="70.20" rx="3.50" ry="2.50" fill="#dba6e8" stroke="#cf92df" stroke-width="0.6"/>
<text x="64.80" y="73.10" font-size="8.2" font-weight="bold" stroke="#000" stroke-width="0.16" textLength="77.30" lengthAdjust="spacingAndGlyphs" >Down+Hyper-DMRs</text>
<ellipse cx="59.00" cy="90.40" rx="3.50" ry="2.50" fill="#92d1c4" stroke="#7fc5b7" stroke-width="0.6"/>
<text x="64.80" y="93.30" font-size="8.2" font-weight="bold" stroke="#000" stroke-width="0.16" textLength="62.99" lengthAdjust="spacingAndGlyphs" >Up+Hypo-DMRs</text>
<text x="349.90" y="11.10" font-size="11.4" font-weight="bold" stroke="#000" stroke-width="0.16" textLength="8.20" lengthAdjust="spacingAndGlyphs" >B</text>
<text x="397.20" y="12.60" font-size="9.5" font-weight="bold" stroke="#000" stroke-width="0.16" textLength="276.80" lengthAdjust="spacingAndGlyphs" >PRNE NEPC vs. PRN NEPC DMRs at promoter and intergenic</text>
<rect x="547.00" y="22.80" width="137.00" height="262.70" fill="#ebebeb" />
<line x1="552.80" y1="22.80" x2="552.80" y2="285.50" stroke="#fff" stroke-width="1.1" />
<line x1="573.80" y1="22.80" x2="573.80" y2="285.50" stroke="#fff" stroke-width="1.1" />
<line x1="594.80" y1="22.80" x2="594.80" y2="285.50" stroke="#fff" stroke-width="1.1" />
<line x1="615.80" y1="22.80" x2="615.80" y2="285.50" stroke="#fff" stroke-width="1.1" />
<line x1="636.80" y1="22.80" x2="636.80" y2="285.50" stroke="#fff" stroke-width="1.1" />
<line x1="657.80" y1="22.80" x2="657.80" y2="285.50" stroke="#fff" stroke-width="1.1" />
<line x1="678.80" y1="22.80" x2="678.80" y2="285.50" stroke="#fff" stroke-width="1.1" />
<line x1="563.30" y1="22.80" x2="563.30" y2="285.50" stroke="#fafafa" stroke-width="0.55" />
<line x1="584.30" y1="22.80" x2="584.30" y2="285.50" stroke="#fafafa" stroke-width="0.55" />
<line x1="605.30" y1="22.80" x2="605.30" y2="285.50" stroke="#fafafa" stroke-width="0.55" />
<line x1="626.30" y1="22.80" x2="626.30" y2="285.50" stroke="#fafafa" stroke-width="0.55" />
<line x1="647.30" y1="22.80" x2="647.30" y2="285.50" stroke="#fafafa" stroke-width="0.55" />
<line x1="668.30" y1="22.80" x2="668.30" y2="285.50" stroke="#fafafa" stroke-width="0.55" />
<line x1="547.00" y1="30.20" x2="684.00" y2="30.20" stroke="#fff" stroke-width="1.1" />
<line x1="544.60" y1="30.20" x2="547.00" y2="30.20" stroke="#333" stroke-width="0.6" />
<text x="544.00" y="33.00" font-size="6.3" font-weight="bold" stroke="#1a1a1a" stroke-width="0.16" text-anchor="end" fill="#1a1a1a" textLength="138.17" lengthAdjust="spacingAndGlyphs" >GOBP_ANIMAL_ORGAN_MORPHOGENESIS</text>
<line x1="547.00" y1="42.61" x2="684.00" y2="42.61" stroke="#fff" stroke-width="1.1" />
<line x1="544.60" y1="42.61" x2="547.00" y2="42.61" stroke="#333" stroke-width="0.6" />
<text x="544.00" y="45.41" font-size="6.3" font-weight="bold" stroke="#1a1a1a" stroke-width="0.16" text-anchor="end" fill="#1a1a1a" textLength="93.93" lengthAdjust="spacingAndGlyphs" >GOBP_TUBE_DEVELOPMENT</text>
<line x1="547.00" y1="55.02" x2="684.00" y2="55.02" stroke="#fff" stroke-width="1.1" />
<line x1="544.60" y1="55.02" x2="547.00" y2="55.02" stroke="#333" stroke-width="0.6" />
<text x="544.00" y="57.82" font-size="6.3" font-weight="bold" stroke="#1a1a1a" stroke-width="0.16" text-anchor="end" fill="#1a1a1a" textLength="99.12" lengthAdjust="spacingAndGlyphs" >BENPORATH_SUZ12_TARGETS</text>
<line x1="547.00" y1="67.43" x2="684.00" y2="67.43" stroke="#fff" stroke-width="1.1" />
<line x1="544.60" y1="67.43" x2="547.00" y2="67.43" stroke="#333" stroke-width="0.6" />
<text x="544.00" y="70.23" font-size="6.3" font-weight="bold" stroke="#1a1a1a" stroke-width="0.16" text-anchor="end" fill="#1a1a1a" textLength="108.44" lengthAdjust="spacingAndGlyphs" >GOBP_TISSUE_MORPHOGENESIS</text>
<line x1="547.00" y1="79.84" x2="684.00" y2="79.84" stroke="#fff" stroke-width="1.1" />
<line x1="544.60" y1="79.84" x2="547.00" y2="79.84" stroke="#333" stroke-width="0.6" />
<text x="544.00" y="82.64" font-size="6.3" font-weight="bold" stroke="#1a1a1a" stroke-width="0.16" text-anchor="end" fill="#1a1a1a" textLength="115.68" lengthAdjust="spacingAndGlyphs" >GOBP_EPITHELIUM_DEVELOPMENT</text>
<line x1="547.00" y1="92.25" x2="684.00" y2="92.25" stroke="#fff" stroke-width="1.1" />
<line x1="544.60" y1="92.25" x2="547.00" y2="92.25" stroke="#333" stroke-width="0.6" />
<text x="544.00" y="95.05" font-size="6.3" font-weight="bold" stroke="#1a1a1a" stroke-width="0.16" text-anchor="end" fill="#1a1a1a" textLength="140.59" lengthAdjust="spacingAndGlyphs" >GOBP_SKELETAL_SYSTEM_DEVELOPMENT</text>
<line x1="547.00" y1="104.66" x2="684.00" y2="104.66" stroke="#fff" stroke-width="1.1" />
<line x1="544.60" y1="104.66" x2="547.00" y2="104.66" stroke="#333" stroke-width="0.6" />
<text x="544.00" y="107.46" font-size="6.3" font-weight="bold" stroke="#1a1a1a" stroke-width="0.16" text-anchor="end" fill="#1a1a1a" textLength="110.86" lengthAdjust="spacingAndGlyphs" >BENPORATH_ES_WITH_H3K27ME3</text>
<line x1="547.00" y1="117.07" x2="684.00" y2="117.07" stroke="#fff" stroke-width="1.1" />
<line x1="544.60" y1="117.07" x2="547.00" y2="117.07" stroke="#333" stroke-width="0.6" />
<text x="544.00" y="119.87" font-size="6.3" font-weight="bold" stroke="#1a1a1a" stroke-width="0.16" text-anchor="end" fill="#1a1a1a" textLength="92.23" lengthAdjust="spacingAndGlyphs" >BENPORATH_EED_TARGETS</text>
<line x1="547.00" y1="129.48" x2="684.00" y2="129.48" stroke="#fff" stroke-width="1.1" />
<line x1="544.60" y1="129.48" x2="547.00" y2="129.48" stroke="#333" stroke-width="0.6" />
<text x="544.00" y="132.28" font-size="6.3" font-weight="bold" stroke="#1a1a1a" stroke-width="0.16" text-anchor="end" fill="#1a1a1a" textLength="104.57" lengthAdjust="spacingAndGlyphs" >GOBP_EMBRYO_DEVELOPMENT</text>
<line x1="547.00" y1="141.89" x2="684.00" y2="141.89" stroke="#fff" stroke-width="1.1" />
<line x1="544.60" y1="141.89" x2="547.00" y2="141.89" stroke="#333" stroke-width="0.6" />
<text x="544.00" y="144.69" font-size="6.3" font-weight="bold" stroke="#1a1a1a" stroke-width="0.16" text-anchor="end" fill="#1a1a1a" textLength="96.22" lengthAdjust="spacingAndGlyphs" >BENPORATH_PRC2_TARGETS</text>
<line x1="547.00" y1="154.30" x2="684.00" y2="154.30" stroke="#fff" stroke-width="1.1" />
<line x1="544.60" y1="154.30" x2="547.00" y2="154.30" stroke="#333" stroke-width="0.6" />
<text x="544.00" y="157.10" font-size="6.3" font-weight="bold" stroke="#1a1a1a" stroke-width="0.16" text-anchor="end" fill="#1a1a1a" textLength="184.97" lengthAdjust="spacingAndGlyphs" >MEISSNER_BRAIN_HCP_WITH_H3K4ME3_AND_H3K27ME3</text>
<line x1="547.00" y1="166.71" x2="684.00" y2="166.71" stroke="#fff" stroke-width="1.1" />
<line x1="544.60" y1="166.71" x2="547.00" y2="166.71" stroke="#333" stroke-width="0.6" />
<text x="544.00" y="169.51" font-size="6.3" font-weight="bold" stroke="#1a1a1a" stroke-width="0.16" text-anchor="end" fill="#1a1a1a" textLength="130.92" lengthAdjust="spacingAndGlyphs" >MIKKELSEN_MEF_HCP_WITH_H3K27ME3</text>
<line x1="547.00" y1="179.12" x2="684.00" y2="179.12" stroke="#fff" stroke-width="1.1" />
<line x1="544.60" y1="179.12" x2="547.00" y2="179.12" stroke="#333" stroke-width="0.6" />
<text x="544.00" y="181.92" font-size="6.3" font-weight="bold" stroke="#1a1a1a" stroke-width="0.16" text-anchor="end" fill="#1a1a1a" textLength="128.97" lengthAdjust="spacingAndGlyphs" >WP_NEURAL_CREST_DIFFERENTIATION</text>
<line x1="547.00" y1="191.53" x2="684.00" y2="191.53" stroke="#fff" stroke-width="1.1" />
<line x1="544.60" y1="191.53" x2="547.00" y2="191.53" stroke="#333" stroke-width="0.6" />
<text x="544.00" y="194.33" font-size="6.3" font-weight="bold" stroke="#1a1a1a" stroke-width="0.16" text-anchor="end" fill="#1a1a1a" textLength="158.36" lengthAdjust="spacingAndGlyphs" >MEISSNER_NPC_HCP_WITH_H3_UNMETHYLATED</text>
<line x1="547.00" y1="203.94" x2="684.00" y2="203.94" stroke="#fff" stroke-width="1.1" />
<line x1="544.60" y1="203.94" x2="547.00" y2="203.94" stroke="#333" stroke-width="0.6" />
<text x="544.00" y="206.74" font-size="6.3" font-weight="bold" stroke="#1a1a1a" stroke-width="0.16" text-anchor="end" fill="#1a1a1a" textLength="130.93" lengthAdjust="spacingAndGlyphs" >MIKKELSEN_NCP_HCP_WITH_H3K27ME3</text>
<line x1="547.00" y1="216.35" x2="684.00" y2="216.35" stroke="#fff" stroke-width="1.1" />
<line x1="544.60" y1="216.35" x2="547.00" y2="216.35" stroke="#333" stroke-width="0.6" />
<text x="544.00" y="219.15" font-size="6.3" font-weight="bold" stroke="#1a1a1a" stroke-width="0.16" text-anchor="end" fill="#1a1a1a" textLength="201.86" lengthAdjust="spacingAndGlyphs" >WP_CELL_LINEAGE_MAP_FOR_NEURONAL_DIFFERENTIATION</text>
<line x1="547.00" y1="228.76" x2="684.00" y2="228.76" stroke="#fff" stroke-width="1.1" />
<line x1="544.60" y1="228.76" x2="547.00" y2="228.76" stroke="#333" stroke-width="0.6" />
<text x="544.00" y="231.56" font-size="6.3" font-weight="bold" stroke="#1a1a1a" stroke-width="0.16" text-anchor="end" fill="#1a1a1a" textLength="173.60" lengthAdjust="spacingAndGlyphs" >GOBP_CENTRAL_NERVOUS_SYSTEM_DEVELOPMENT</text>
<line x1="547.00" y1="241.17" x2="684.00" y2="241.17" stroke="#fff" stroke-width="1.1" />
<line x1="544.60" y1="241.17" x2="547.00" y2="241.17" stroke="#333" stroke-width="0.6" />
<text x="544.00" y="243.97" font-size="6.3" font-weight="bold" stroke="#1a1a1a" stroke-width="0.16" text-anchor="end" fill="#1a1a1a" textLength="54.40" lengthAdjust="spacingAndGlyphs" >GOCC_SYNAPSE</text>
<line x1="547.00" y1="253.58" x2="684.00" y2="253.58" stroke="#fff" stroke-width="1.1" />
<line x1="544.60" y1="253.58" x2="547.00" y2="253.58" stroke="#333" stroke-width="0.6" />
<text x="544.00" y="256.38" font-size="6.3" font-weight="bold" stroke="#1a1a1a" stroke-width="0.16" text-anchor="end" fill="#1a1a1a" textLength="108.79" lengthAdjust="spacingAndGlyphs" >GOBP_MIDBRAIN_DEVELOPMENT</text>
<line x1="547.00" y1="265.99" x2="684.00" y2="265.99" stroke="#fff" stroke-width="1.1" />
<line x1="544.60" y1="265.99" x2="547.00" y2="265.99" stroke="#333" stroke-width="0.6" />
<text x="544.00" y="268.79" font-size="6.3" font-weight="bold" stroke="#1a1a1a" stroke-width="0.16" text-anchor="end" fill="#1a1a1a" textLength="113.39" lengthAdjust="spacingAndGlyphs" >YOSHIMURA_MAPK8_TARGETS_UP</text>
<line x1="547.00" y1="278.40" x2="684.00" y2="278.40" stroke="#fff" stroke-width="1.1" />
<line x1="544.60" y1="278.40" x2="547.00" y2="278.40" stroke="#333" stroke-width="0.6" />
<text x="544.00" y="281.20" font-size="6.3" font-weight="bold" stroke="#1a1a1a" stroke-width="0.16" text-anchor="end" fill="#1a1a1a" textLength="191.84" lengthAdjust="spacingAndGlyphs" >KIM_ALL_DISORDERS_OLIGODENDROCYTE_NO._CORR_UP</text>
<line x1="552.80" y1="285.50" x2="552.80" y2="287.30" stroke="#333" stroke-width="0.6" />
<text x="552.80" y="292.60" font-size="5.8" font-weight="bold" stroke="#4d4d4d" stroke-width="0.16" text-anchor="middle" fill="#4d4d4d" >0</text>
<line x1="573.80" y1="285.50" x2="573.80" y2="287.30" stroke="#333" stroke-width="0.6" />
<text x="573.80" y="292.60" font-size="5.8" font-weight="bold" stroke="#4d4d4d" stroke-width="0.16" text-anchor="middle" fill="#4d4d4d" >5</text>
<line x1="594.80" y1="285.50" x2="594.80" y2="287.30" stroke="#333" stroke-width="0.6" />
<text x="594.80" y="292.60" font-size="5.8" font-weight="bold" stroke="#4d4d4d" stroke-width="0.16" text-anchor="middle" fill="#4d4d4d" >10</text>
<line x1="615.80" y1="285.50" x2="615.80" y2="287.30" stroke="#333" stroke-width="0.6" />
<text x="615.80" y="292.60" font-size="5.8" font-weight="bold" stroke="#4d4d4d" stroke-width="0.16" text-anchor="middle" fill="#4d4d4d" >15</text>
<line x1="636.80" y1="285.50" x2="636.80" y2="287.30" stroke="#333" stroke-width="0.6" />
<text x="636.80" y="292.60" font-size="5.8" font-weight="bold" stroke="#4d4d4d" stroke-width="0.16" text-anchor="middle" fill="#4d4d4d" >20</text>
<line x1="657.80" y1="285.50" x2="657.80" y2="287.30" stroke="#333" stroke-width="0.6" />
<text x="657.80" y="292.60" font-size="5.8" font-weight="bold" stroke="#4d4d4d" stroke-width="0.16" text-anchor="middle" fill="#4d4d4d" >25</text>
<line x1="678.80" y1="285.50" x2="678.80" y2="287.30" stroke="#333" stroke-width="0.6" />
<text x="678.80" y="292.60" font-size="5.8" font-weight="bold" stroke="#4d4d4d" stroke-width="0.16" text-anchor="middle" fill="#4d4d4d" >30</text>
<text x="614.30" y="301.00" font-size="6.4" font-weight="bold" stroke="#111" stroke-width="0.16" text-anchor="middle" fill="#111" textLength="37.70" lengthAdjust="spacingAndGlyphs" >-log10(FDR)</text>
<ellipse cx="665.36" cy="30.20" rx="3.30" ry="2.90" fill="#d86ae6"/>
<ellipse cx="648.14" cy="42.61" rx="3.30" ry="2.80" fill="#d86ae6"/>
<ellipse cx="644.78" cy="55.02" rx="3.00" ry="2.70" fill="#d86ae6"/>
<ellipse cx="638.48" cy="67.43" rx="2.80" ry="2.40" fill="#d86ae6"/>
<ellipse cx="637.22" cy="79.84" rx="3.00" ry="2.70" fill="#d86ae6"/>
<ellipse cx="634.28" cy="92.25" rx="2.70" ry="2.40" fill="#d86ae6"/>
<ellipse cx="625.04" cy="104.66" rx="2.90" ry="2.60" fill="#d86ae6"/>
<ellipse cx="610.76" cy="117.07" rx="2.70" ry="2.40" fill="#d86ae6"/>
<ellipse cx="651.50" cy="129.48" rx="3.20" ry="2.80" fill="#d86ae6"/>
<ellipse cx="560.78" cy="129.48" rx="2.20" ry="1.60" fill="#5ff2ee"/>
<ellipse cx="605.72" cy="141.89" rx="2.70" ry="2.40" fill="#d86ae6"/>
<ellipse cx="596.90" cy="154.30" rx="3.40" ry="3.00" fill="#d86ae6"/>
<ellipse cx="584.72" cy="166.71" rx="2.60" ry="2.30" fill="#d86ae6"/>
<ellipse cx="580.94" cy="179.12" rx="2.30" ry="2.00" fill="#d86ae6"/>
<ellipse cx="581.36" cy="191.53" rx="2.70" ry="2.40" fill="#d86ae6"/>
<ellipse cx="578.42" cy="203.94" rx="2.60" ry="2.30" fill="#d86ae6"/>
<ellipse cx="558.26" cy="203.94" rx="1.80" ry="1.40" fill="#5ff2ee"/>
<ellipse cx="563.72" cy="216.35" rx="1.90" ry="1.50" fill="#5ff2ee"/>
<ellipse cx="560.78" cy="228.76" rx="2.30" ry="1.80" fill="#5ff2ee"/>
<ellipse cx="559.94" cy="241.17" rx="2.40" ry="1.90" fill="#5ff2ee"/>
<ellipse cx="559.52" cy="253.58" rx="1.20" ry="1.00" fill="#5ff2ee"/>
<ellipse cx="559.52" cy="265.99" rx="2.30" ry="1.80" fill="#5ff2ee"/>
<ellipse cx="559.10" cy="278.40" rx="2.20" ry="1.80" fill="#5ff2ee"/>
<ellipse cx="349.90" cy="47.20" rx="3.30" ry="3.20" fill="#d966e6"/>
<text x="353.80" y="49.20" font-size="5.8" font-weight="bold" stroke="#000" stroke-width="0.16" textLength="43.20" lengthAdjust="spacingAndGlyphs" >Hyper &amp; Down</text>
<ellipse cx="349.90" cy="56.30" rx="3.30" ry="3.20" fill="#5ccfc4"/>
<text x="353.80" y="58.30" font-size="5.8" font-weight="bold" stroke="#000" stroke-width="0.16" textLength="32.50" lengthAdjust="spacingAndGlyphs" >Hypo &amp; Up</text>
<text x="353.80" y="75.00" font-size="6.2" font-weight="bold" stroke="#000" stroke-width="0.16" textLength="19.20" lengthAdjust="spacingAndGlyphs" >Count</text>
<rect x="353.80" y="76.70" width="7.60" height="34.30" fill="#ececec" />
<ellipse cx="357.6" cy="80.50" rx="1.15" ry="1.00" fill="none" stroke="#222" stroke-width="0.55"/>
<text x="363.00" y="82.70" font-size="5.8" font-weight="bold" stroke="#000" stroke-width="0.16" textLength="7.20" lengthAdjust="spacingAndGlyphs" >10</text>
<ellipse cx="357.6" cy="87.30" rx="1.84" ry="1.60" fill="none" stroke="#222" stroke-width="0.55"/>
<text x="363.00" y="89.50" font-size="5.8" font-weight="bold" stroke="#000" stroke-width="0.16" textLength="7.20" lengthAdjust="spacingAndGlyphs" >20</text>
<ellipse cx="357.6" cy="94.10" rx="2.30" ry="2.00" fill="none" stroke="#222" stroke-width="0.55"/>
<text x="363.00" y="96.30" font-size="5.8" font-weight="bold" stroke="#000" stroke-width="0.16" textLength="7.20" lengthAdjust="spacingAndGlyphs" >30</text>
<ellipse cx="357.6" cy="100.90" rx="2.76" ry="2.40" fill="none" stroke="#222" stroke-width="0.55"/>
<text x="363.00" y="103.10" font-size="5.8" font-weight="bold" stroke="#000" stroke-width="0.16" textLength="7.20" lengthAdjust="spacingAndGlyphs" >40</text>
<ellipse cx="357.6" cy="107.70" rx="3.10" ry="2.70" fill="none" stroke="#222" stroke-width="0.55"/>
<text x="363.00" y="109.90" font-size="5.8" font-weight="bold" stroke="#000" stroke-width="0.16" textLength="7.20" lengthAdjust="spacingAndGlyphs" >50</text>
<text x="0.80" y="318.70" font-size="10.2" font-weight="bold" stroke="#000" stroke-width="0.16" textLength="6.90" lengthAdjust="spacingAndGlyphs" >C</text>
<text x="59.80" y="315.90" font-size="6.7" font-weight="bold" stroke="#000" stroke-width="0.16" textLength="90.30" lengthAdjust="spacingAndGlyphs" >Beltran NEPC Upregulated</text>
<rect x="24.20" y="321.20" width="178.00" height="109.00" fill="none" stroke="#444" stroke-width="0.9" />
<line x1="21.20" y1="330.70" x2="24.20" y2="330.70" stroke="#444" stroke-width="0.8" />
<line x1="21.20" y1="346.10" x2="24.20" y2="346.10" stroke="#444" stroke-width="0.8" />
<line x1="21.20" y1="361.50" x2="24.20" y2="361.50" stroke="#444" stroke-width="0.8" />
<line x1="21.20" y1="376.90" x2="24.20" y2="376.90" stroke="#444" stroke-width="0.8" />
<line x1="21.20" y1="392.30" x2="24.20" y2="392.30" stroke="#444" stroke-width="0.8" />
<line x1="21.20" y1="407.70" x2="24.20" y2="407.70" stroke="#444" stroke-width="0.8" />
<line x1="21.20" y1="423.10" x2="24.20" y2="423.10" stroke="#444" stroke-width="0.8" />
<text x="17.30" y="333.00" font-size="6.4" font-weight="bold" stroke="#000" stroke-width="0.16" text-anchor="end" >2</text>
<text x="17.30" y="363.80" font-size="6.4" font-weight="bold" stroke="#000" stroke-width="0.16" text-anchor="end" >1</text>
<text x="17.30" y="394.60" font-size="6.4" font-weight="bold" stroke="#000" stroke-width="0.16" text-anchor="end" >0</text>
<text x="17.30" y="425.40" font-size="6.4" font-weight="bold" stroke="#000" stroke-width="0.16" text-anchor="end" >-1</text>
<text x="7.00" y="376.50" font-size="6.4" font-weight="bold" stroke="#000" stroke-width="0.16" text-anchor="middle" textLength="86.70" lengthAdjust="spacingAndGlyphs" transform="rotate(-90 7.00 376.50)" >Z-score normalized FPKM</text>
<line x1="40.80" y1="329.40" x2="163.70" y2="329.40" stroke="#8c8c8c" stroke-width="1.7" />
<text x="98.50" y="330.60" font-size="8.4" font-weight="bold" stroke="#000" stroke-width="0.16" text-anchor="middle" >**</text>
<line x1="103.20" y1="340.00" x2="163.70" y2="340.00" stroke="#8c8c8c" stroke-width="1.7" />
<text x="138.70" y="338.20" font-size="7.6" font-weight="bold" stroke="#000" stroke-width="0.16" text-anchor="middle" textLength="14.50" lengthAdjust="spacingAndGlyphs" >n.s.</text>
<line x1="58.60" y1="389.30" x2="58.60" y2="402.40" stroke="#000" stroke-width="0.7" stroke-dasharray="1.6,1.3"/>
<line x1="58.60" y1="414.90" x2="58.60" y2="421.50" stroke="#000" stroke-width="0.7" stroke-dasharray="1.6,1.3"/>
<line x1="47.70" y1="389.30" x2="69.50" y2="389.30" stroke="#000" stroke-width="0.9" />
<line x1="47.70" y1="421.50" x2="69.50" y2="421.50" stroke="#000" stroke-width="0.9" />
<rect x="36.60" y="402.40" width="43.90" height="12.50" fill="#c8f5fa" stroke="#333" stroke-width="0.8" />
<line x1="36.60" y1="412.60" x2="80.50" y2="412.60" stroke="#000" stroke-width="2.0" />
<line x1="113.50" y1="373.30" x2="113.50" y2="379.90" stroke="#000" stroke-width="0.7" stroke-dasharray="1.6,1.3"/>
<line x1="113.50" y1="391.80" x2="113.50" y2="405.20" stroke="#000" stroke-width="0.7" stroke-dasharray="1.6,1.3"/>
<line x1="102.70" y1="373.30" x2="124.30" y2="373.30" stroke="#000" stroke-width="0.9" />
<line x1="102.70" y1="405.20" x2="124.30" y2="405.20" stroke="#000" stroke-width="0.9" />
<rect x="91.60" y="379.90" width="43.80" height="11.90" fill="#f5b6f6" stroke="#333" stroke-width="0.8" />
<line x1="91.60" y1="385.70" x2="135.40" y2="385.70" stroke="#000" stroke-width="2.0" />
<line x1="168.30" y1="325.30" x2="168.30" y2="353.00" stroke="#000" stroke-width="0.7" stroke-dasharray="1.6,1.3"/>
<line x1="168.30" y1="396.80" x2="168.30" y2="426.20" stroke="#000" stroke-width="0.7" stroke-dasharray="1.6,1.3"/>
<line x1="157.90" y1="325.30" x2="179.00" y2="325.30" stroke="#000" stroke-width="0.9" />
<line x1="157.90" y1="426.20" x2="179.00" y2="426.20" stroke="#000" stroke-width="0.9" />
<rect x="146.50" y="353.00" width="43.50" height="43.80" fill="#f07b72" stroke="#333" stroke-width="0.8" />
<line x1="146.50" y1="379.10" x2="190.00" y2="379.10" stroke="#000" stroke-width="2.0" />
<line x1="58.60" y1="430.20" x2="58.60" y2="433.80" stroke="#444" stroke-width="0.8" />
<line x1="113.50" y1="430.20" x2="113.50" y2="433.80" stroke="#444" stroke-width="0.8" />
<line x1="168.30" y1="430.20" x2="168.30" y2="433.80" stroke="#444" stroke-width="0.8" />
<text x="61.00" y="445.00" font-size="6.6" font-weight="bold" stroke="#000" stroke-width="0.16" text-anchor="middle" textLength="34.50" lengthAdjust="spacingAndGlyphs" >PRN_PRAD</text>
<text x="115.00" y="445.00" font-size="6.6" font-weight="bold" stroke="#000" stroke-width="0.16" text-anchor="middle" textLength="35.20" lengthAdjust="spacingAndGlyphs" >PRN_NEPC</text>
<text x="175.60" y="445.00" font-size="6.6" font-weight="bold" stroke="#000" stroke-width="0.16" text-anchor="middle" textLength="36.90" lengthAdjust="spacingAndGlyphs" >PRNE_NEPC</text>
<text x="294.90" y="316.20" font-size="6.9" font-weight="bold" stroke="#000" stroke-width="0.16" textLength="78.20" lengthAdjust="spacingAndGlyphs" >Tsai NEPC Upregulated</text>
<rect x="248.40" y="321.20" width="183.10" height="111.10" fill="none" stroke="#444" stroke-width="0.9" />
<line x1="245.40" y1="328.50" x2="248.40" y2="328.50" stroke="#444" stroke-width="0.8" />
<line x1="245.40" y1="345.45" x2="248.40" y2="345.45" stroke="#444" stroke-width="0.8" />
<line x1="245.40" y1="362.40" x2="248.40" y2="362.40" stroke="#444" stroke-width="0.8" />
<line x1="245.40" y1="379.35" x2="248.40" y2="379.35" stroke="#444" stroke-width="0.8" />
<line x1="245.40" y1="396.30" x2="248.40" y2="396.30" stroke="#444" stroke-width="0.8" />
<line x1="245.40" y1="413.25" x2="248.40" y2="413.25" stroke="#444" stroke-width="0.8" />
<line x1="245.40" y1="430.20" x2="248.40" y2="430.20" stroke="#444" stroke-width="0.8" />
<text x="242.00" y="330.90" font-size="6.7" font-weight="bold" stroke="#000" stroke-width="0.16" text-anchor="end" >2</text>
<text x="242.00" y="364.80" font-size="6.7" font-weight="bold" stroke="#000" stroke-width="0.16" text-anchor="end" >1</text>
<text x="242.00" y="398.70" font-size="6.7" font-weight="bold" stroke="#000" stroke-width="0.16" text-anchor="end" >0</text>
<text x="242.00" y="432.60" font-size="6.7" font-weight="bold" stroke="#000" stroke-width="0.16" text-anchor="end" >-1</text>
<text x="227.50" y="379.00" font-size="6.8" font-weight="bold" stroke="#000" stroke-width="0.16" text-anchor="middle" textLength="88.00" lengthAdjust="spacingAndGlyphs" transform="rotate(-90 227.50 379.00)" >Z-score normalized FPKM</text>
<line x1="267.00" y1="329.50" x2="389.60" y2="329.50" stroke="#8c8c8c" stroke-width="1.7" />
<text x="325.50" y="330.90" font-size="8.4" font-weight="bold" stroke="#000" stroke-width="0.16" text-anchor="middle" >***</text>
<line x1="329.80" y1="340.90" x2="389.60" y2="340.90" stroke="#8c8c8c" stroke-width="1.7" />
<text x="360.50" y="344.00" font-size="8.4" font-weight="bold" stroke="#000" stroke-width="0.16" text-anchor="middle" >*</text>
<line x1="283.00" y1="399.10" x2="283.00" y2="410.50" stroke="#000" stroke-width="0.7" stroke-dasharray="1.6,1.3"/>
<line x1="283.00" y1="421.50" x2="283.00" y2="428.20" stroke="#000" stroke-width="0.7" stroke-dasharray="1.6,1.3"/>
<line x1="275.60" y1="399.10" x2="294.90" y2="399.10" stroke="#000" stroke-width="0.9" />
<line x1="275.60" y1="428.20" x2="294.90" y2="428.20" stroke="#000" stroke-width="0.9" />
<rect x="260.60" y="410.50" width="44.70" height="11.00" fill="#c8f5fa" stroke="#333" stroke-width="0.8" />
<line x1="260.60" y1="417.20" x2="305.30" y2="417.20" stroke="#000" stroke-width="2.0" />
<line x1="339.60" y1="379.20" x2="339.60" y2="385.30" stroke="#000" stroke-width="0.7" stroke-dasharray="1.6,1.3"/>
<line x1="339.60" y1="398.50" x2="339.60" y2="411.40" stroke="#000" stroke-width="0.7" stroke-dasharray="1.6,1.3"/>
<line x1="329.80" y1="379.20" x2="350.70" y2="379.20" stroke="#000" stroke-width="0.9" />
<line x1="329.80" y1="411.40" x2="350.70" y2="411.40" stroke="#000" stroke-width="0.9" />
<rect x="317.00" y="385.30" width="45.30" height="13.20" fill="#f5b6f6" stroke="#333" stroke-width="0.8" />
<line x1="317.00" y1="391.40" x2="362.30" y2="391.40" stroke="#000" stroke-width="2.0" />
<line x1="396.00" y1="325.10" x2="396.00" y2="345.00" stroke="#000" stroke-width="0.7" stroke-dasharray="1.6,1.3"/>
<line x1="396.00" y1="400.50" x2="396.00" y2="420.00" stroke="#000" stroke-width="0.7" stroke-dasharray="1.6,1.3"/>
<line x1="385.60" y1="325.10" x2="407.70" y2="325.10" stroke="#000" stroke-width="0.9" />
<line x1="385.60" y1="420.00" x2="407.70" y2="420.00" stroke="#000" stroke-width="0.9" />
<rect x="373.40" y="345.00" width="45.30" height="55.50" fill="#f07b72" stroke="#333" stroke-width="0.8" />
<line x1="373.40" y1="375.20" x2="418.70" y2="375.20" stroke="#000" stroke-width="2.0" />
<ellipse cx="283" cy="390.2" rx="1.3" ry="1.15" fill="none" stroke="#000" stroke-width="0.6"/>
<ellipse cx="283" cy="365.0" rx="1.3" ry="1.15" fill="none" stroke="#000" stroke-width="0.6"/>
<ellipse cx="283" cy="367.2" rx="1.3" ry="1.15" fill="none" stroke="#000" stroke-width="0.6"/>
<line x1="283.00" y1="432.30" x2="283.00" y2="435.60" stroke="#444" stroke-width="0.8" />
<line x1="339.60" y1="432.30" x2="339.60" y2="435.60" stroke="#444" stroke-width="0.8" />
<line x1="396.00" y1="432.30" x2="396.00" y2="435.60" stroke="#444" stroke-width="0.8" />
<text x="292.50" y="445.60" font-size="7.0" font-weight="bold" stroke="#000" stroke-width="0.16" text-anchor="middle" textLength="38.50" lengthAdjust="spacingAndGlyphs" >PRN_PRAD</text>
<text x="348.80" y="445.60" font-size="7.0" font-weight="bold" stroke="#000" stroke-width="0.16" text-anchor="middle" textLength="38.20" lengthAdjust="spacingAndGlyphs" >PRN_NEPC</text>
<text x="408.50" y="444.20" font-size="7.0" font-weight="bold" stroke="#000" stroke-width="0.16" text-anchor="middle" textLength="38.60" lengthAdjust="spacingAndGlyphs" >PRNE_NEPC</text>
<text x="532.70" y="317.40" font-size="7.0" font-weight="bold" stroke="#000" stroke-width="0.16" textLength="94.50" lengthAdjust="spacingAndGlyphs" >Tsai NEPC Downregulated</text>
<rect x="491.10" y="321.30" width="187.90" height="111.80" fill="none" stroke="#444" stroke-width="0.9" />
<line x1="488.10" y1="335.90" x2="491.10" y2="335.90" stroke="#444" stroke-width="0.8" />
<line x1="488.10" y1="356.50" x2="491.10" y2="356.50" stroke="#444" stroke-width="0.8" />
<line x1="488.10" y1="377.10" x2="491.10" y2="377.10" stroke="#444" stroke-width="0.8" />
<line x1="488.10" y1="397.70" x2="491.10" y2="397.70" stroke="#444" stroke-width="0.8" />
<line x1="488.10" y1="418.30" x2="491.10" y2="418.30" stroke="#444" stroke-width="0.8" />
<text x="486.50" y="340.20" font-size="7.3" font-weight="bold" stroke="#000" stroke-width="0.16" text-anchor="end" textLength="3.90" lengthAdjust="spacingAndGlyphs" >1</text>
<text x="486.50" y="360.80" font-size="7.3" font-weight="bold" stroke="#000" stroke-width="0.16" text-anchor="end" textLength="9.80" lengthAdjust="spacingAndGlyphs" >0.5</text>
<text x="486.50" y="381.40" font-size="7.3" font-weight="bold" stroke="#000" stroke-width="0.16" text-anchor="end" textLength="4.60" lengthAdjust="spacingAndGlyphs" >0</text>
<text x="486.50" y="402.00" font-size="7.3" font-weight="bold" stroke="#000" stroke-width="0.16" text-anchor="end" textLength="15.00" lengthAdjust="spacingAndGlyphs" >-0.5</text>
<text x="486.50" y="422.60" font-size="7.3" font-weight="bold" stroke="#000" stroke-width="0.16" text-anchor="end" textLength="8.40" lengthAdjust="spacingAndGlyphs" >-1</text>
<text x="464.00" y="373.20" font-size="7.0" font-weight="bold" stroke="#000" stroke-width="0.16" text-anchor="middle" textLength="88.50" lengthAdjust="spacingAndGlyphs" transform="rotate(-90 464.00 373.20)" >Z-score normalized FPKM</text>
<line x1="539.00" y1="329.20" x2="648.00" y2="329.20" stroke="#8c8c8c" stroke-width="1.7" />
<text x="586.80" y="329.90" font-size="8.4" font-weight="bold" stroke="#000" stroke-width="0.16" text-anchor="middle" >***</text>
<line x1="588.20" y1="340.60" x2="648.00" y2="340.60" stroke="#8c8c8c" stroke-width="1.7" />
<text x="618.70" y="341.60" font-size="8.4" font-weight="bold" stroke="#000" stroke-width="0.16" text-anchor="middle" >**</text>
<line x1="527.00" y1="325.50" x2="527.00" y2="331.20" stroke="#000" stroke-width="0.7" stroke-dasharray="1.6,1.3"/>
<line x1="527.00" y1="353.40" x2="527.00" y2="376.70" stroke="#000" stroke-width="0.7" stroke-dasharray="1.6,1.3"/>
<line x1="515.00" y1="325.50" x2="538.40" y2="325.50" stroke="#999" stroke-width="0.9" />
<line x1="515.00" y1="376.70" x2="538.40" y2="376.70" stroke="#999" stroke-width="0.9" />
<rect x="503.70" y="331.20" width="46.60" height="22.20" fill="#c8f5fa" stroke="#333" stroke-width="0.8" />
<line x1="503.70" y1="340.00" x2="550.30" y2="340.00" stroke="#000" stroke-width="2.0" />
<line x1="584.40" y1="367.60" x2="584.40" y2="379.60" stroke="#000" stroke-width="0.7" stroke-dasharray="1.6,1.3"/>
<line x1="584.40" y1="398.90" x2="584.40" y2="404.30" stroke="#000" stroke-width="0.7" stroke-dasharray="1.6,1.3"/>
<line x1="574.30" y1="367.60" x2="596.50" y2="367.60" stroke="#000" stroke-width="0.9" />
<line x1="574.30" y1="404.30" x2="596.50" y2="404.30" stroke="#000" stroke-width="0.9" />
<rect x="561.20" y="379.60" width="46.40" height="19.30" fill="#f5b6f6" stroke="#333" stroke-width="0.8" />
<line x1="561.20" y1="393.50" x2="607.60" y2="393.50" stroke="#000" stroke-width="2.0" />
<line x1="642.50" y1="374.20" x2="642.50" y2="396.90" stroke="#000" stroke-width="0.7" stroke-dasharray="1.6,1.3"/>
<line x1="642.50" y1="413.70" x2="642.50" y2="428.80" stroke="#000" stroke-width="0.7" stroke-dasharray="1.6,1.3"/>
<line x1="632.30" y1="374.20" x2="654.20" y2="374.20" stroke="#000" stroke-width="0.9" />
<line x1="632.30" y1="428.80" x2="654.20" y2="428.80" stroke="#000" stroke-width="0.9" />
<rect x="619.50" y="396.90" width="46.10" height="16.80" fill="#f07b72" stroke="#333" stroke-width="0.8" />
<line x1="619.50" y1="409.20" x2="665.60" y2="409.20" stroke="#000" stroke-width="2.0" />
<ellipse cx="527" cy="396.1" rx="1.4" ry="1.3" fill="none" stroke="#000" stroke-width="0.9"/>
<ellipse cx="642.5" cy="357.7" rx="1.4" ry="1.3" fill="none" stroke="#000" stroke-width="0.6"/>
<ellipse cx="642.5" cy="362.8" rx="1.4" ry="1.3" fill="none" stroke="#000" stroke-width="0.6"/>
<ellipse cx="642.5" cy="370.5" rx="1.4" ry="1.3" fill="none" stroke="#000" stroke-width="0.6"/>
<line x1="527.00" y1="433.10" x2="527.00" y2="436.40" stroke="#444" stroke-width="0.8" />
<line x1="584.40" y1="433.10" x2="584.40" y2="436.40" stroke="#444" stroke-width="0.8" />
<line x1="642.50" y1="433.10" x2="642.50" y2="436.40" stroke="#444" stroke-width="0.8" />
<text x="527.90" y="447.80" font-size="7.6" font-weight="bold" stroke="#000" stroke-width="0.16" text-anchor="middle" textLength="37.00" lengthAdjust="spacingAndGlyphs" >PRN_PRAD</text>
<text x="585.90" y="447.80" font-size="7.6" font-weight="bold" stroke="#000" stroke-width="0.16" text-anchor="middle" textLength="38.00" lengthAdjust="spacingAndGlyphs" >PRN_NEPC</text>
<text x="647.40" y="447.80" font-size="7.6" font-weight="bold" stroke="#000" stroke-width="0.16" text-anchor="middle" textLength="40.00" lengthAdjust="spacingAndGlyphs" >PRNE_NEPC</text>
<text x="497.10" y="415.80" font-size="4.6" fill="#111" textLength="32.20" lengthAdjust="spacingAndGlyphs" >* p value &lt;0.05</text>
<text x="497.10" y="421.60" font-size="4.6" fill="#111" textLength="35.80" lengthAdjust="spacingAndGlyphs" >** p value &lt;0.001</text>
<text x="497.10" y="427.40" font-size="4.6" fill="#111" textLength="40.10" lengthAdjust="spacingAndGlyphs" >*** p value &lt;0.0001</text>
<text x="497.10" y="432.10" font-size="4.6" fill="#111" textLength="37.00" lengthAdjust="spacingAndGlyphs" >n.s. p value&gt;0.05</text>
<text x="0.70" y="492.90" font-size="9.8" font-weight="bold" stroke="#000" stroke-width="0.16" textLength="5.90" lengthAdjust="spacingAndGlyphs" >D</text>
<text x="79.80" y="466.60" font-size="10.6" font-weight="bold" stroke="#000" stroke-width="0.16" textLength="31.50" lengthAdjust="spacingAndGlyphs" >FOXA1</text>
<text x="246.00" y="466.60" font-size="9.0" font-weight="bold" stroke="#000" stroke-width="0.16" textLength="28.30" lengthAdjust="spacingAndGlyphs" >GATA5</text>
<text x="402.90" y="467.80" font-size="9.2" font-weight="bold" stroke="#000" stroke-width="0.16" textLength="42.20" lengthAdjust="spacingAndGlyphs" >ONECUT2</text>
<text x="579.60" y="466.60" font-size="8.8" font-weight="bold" stroke="#000" stroke-width="0.16" textLength="29.10" lengthAdjust="spacingAndGlyphs" >FOXA2</text>
<rect x="22.50" y="474.50" width="160.10" height="19.00" fill="#fff" />
<rect x="22.50" y="493.30" width="160.10" height="120.30" fill="#fcf5f6" />
<rect x="22.50" y="613.60" width="160.10" height="69.20" fill="#f8f8f8" />
<rect x="22.50" y="682.80" width="160.10" height="19.00" fill="#fff" />
<line x1="22.50" y1="493.30" x2="182.60" y2="493.30" stroke="#ececec" stroke-width="0.6" />
<line x1="22.50" y1="555.80" x2="182.60" y2="555.80" stroke="#f0eaea" stroke-width="0.6" />
<line x1="22.50" y1="614.70" x2="182.60" y2="614.70" stroke="#ececec" stroke-width="0.6" />
<line x1="22.50" y1="672.70" x2="182.60" y2="672.70" stroke="#efefef" stroke-width="0.6" />
<line x1="22.50" y1="682.80" x2="182.60" y2="682.80" stroke="#aaaaaa" stroke-width="1.3" />
<rect x="187.30" y="474.50" width="156.20" height="19.00" fill="#fff" />
<rect x="187.30" y="493.30" width="156.20" height="120.30" fill="#fefcfc" />
<rect x="187.30" y="613.60" width="156.20" height="69.20" fill="#fcfcfc" />
<rect x="187.30" y="682.80" width="156.20" height="19.00" fill="#fff" />
<line x1="187.30" y1="493.30" x2="343.50" y2="493.30" stroke="#ececec" stroke-width="0.6" />
<line x1="187.30" y1="555.80" x2="343.50" y2="555.80" stroke="#f0eaea" stroke-width="0.6" />
<line x1="187.30" y1="614.70" x2="343.50" y2="614.70" stroke="#ececec" stroke-width="0.6" />
<line x1="187.30" y1="672.70" x2="343.50" y2="672.70" stroke="#efefef" stroke-width="0.6" />
<line x1="187.30" y1="682.80" x2="343.50" y2="682.80" stroke="#aaaaaa" stroke-width="1.3" />
<rect x="347.80" y="474.50" width="160.60" height="19.00" fill="#fff" />
<rect x="347.80" y="493.30" width="160.60" height="120.30" fill="#fefdfd" />
<rect x="347.80" y="613.60" width="160.60" height="69.20" fill="#fcfcfc" />
<rect x="347.80" y="682.80" width="160.60" height="19.00" fill="#fff" />
<line x1="347.80" y1="493.30" x2="508.40" y2="493.30" stroke="#ececec" stroke-width="0.6" />
<line x1="347.80" y1="555.80" x2="508.40" y2="555.80" stroke="#f0eaea" stroke-width="0.6" />
<line x1="347.80" y1="614.70" x2="508.40" y2="614.70" stroke="#ececec" stroke-width="0.6" />
<line x1="347.80" y1="672.70" x2="508.40" y2="672.70" stroke="#efefef" stroke-width="0.6" />
<line x1="347.80" y1="682.80" x2="508.40" y2="682.80" stroke="#aaaaaa" stroke-width="1.3" />
<rect x="512.60" y="474.50" width="165.80" height="19.00" fill="#fff" />
<rect x="512.60" y="493.30" width="165.80" height="120.30" fill="#f7f7f7" />
<rect x="512.60" y="613.60" width="165.80" height="69.20" fill="#f9f9f9" />
<rect x="512.60" y="682.80" width="165.80" height="19.00" fill="#fff" />
<line x1="512.60" y1="493.30" x2="678.40" y2="493.30" stroke="#ececec" stroke-width="0.6" />
<line x1="512.60" y1="555.80" x2="678.40" y2="555.80" stroke="#f0eaea" stroke-width="0.6" />
<line x1="512.60" y1="614.70" x2="678.40" y2="614.70" stroke="#ececec" stroke-width="0.6" />
<line x1="512.60" y1="672.70" x2="678.40" y2="672.70" stroke="#efefef" stroke-width="0.6" />
<line x1="512.60" y1="682.80" x2="678.40" y2="682.80" stroke="#aaaaaa" stroke-width="1.3" />
<text x="23.50" y="501.30" font-size="5.3" font-weight="bold" stroke="#222" stroke-width="0.16" fill="#222" textLength="14.60" lengthAdjust="spacingAndGlyphs" >[0-20]</text>
<text x="23.50" y="563.00" font-size="5.3" font-weight="bold" stroke="#222" stroke-width="0.16" fill="#222" textLength="14.60" lengthAdjust="spacingAndGlyphs" >[0-20]</text>
<text x="188.30" y="501.30" font-size="5.3" font-weight="bold" stroke="#222" stroke-width="0.16" fill="#222" textLength="14.60" lengthAdjust="spacingAndGlyphs" >[0-20]</text>
<text x="188.30" y="563.00" font-size="5.3" font-weight="bold" stroke="#222" stroke-width="0.16" fill="#222" textLength="14.60" lengthAdjust="spacingAndGlyphs" >[0-20]</text>
<text x="348.80" y="501.30" font-size="5.3" font-weight="bold" stroke="#222" stroke-width="0.16" fill="#222" textLength="14.60" lengthAdjust="spacingAndGlyphs" >[0-20]</text>
<text x="348.80" y="563.00" font-size="5.3" font-weight="bold" stroke="#222" stroke-width="0.16" fill="#222" textLength="14.60" lengthAdjust="spacingAndGlyphs" >[0-20]</text>
<text x="513.60" y="501.30" font-size="5.3" font-weight="bold" stroke="#222" stroke-width="0.16" fill="#222" textLength="14.20" lengthAdjust="spacingAndGlyphs" >[0-18]</text>
<text x="513.60" y="563.00" font-size="5.3" font-weight="bold" stroke="#222" stroke-width="0.16" fill="#222" textLength="14.20" lengthAdjust="spacingAndGlyphs" >[0-18]</text>
<text x="24.10" y="481.30" font-size="5.0" font-weight="bold" stroke="#111" stroke-width="0.16" fill="#111" textLength="75.80" lengthAdjust="spacingAndGlyphs" >Chr12: 57,540,113-57,551,512</text>
<line x1="25.30" y1="488.80" x2="180.00" y2="488.80" stroke="#222" stroke-width="0.9" />
<path d="M23.3,488.8 L28.3,486.8 L27.1,488.8 L28.3,490.8 Z" fill="#111"/>
<path d="M182.0,488.8 L177.0,486.8 L178.2,488.8 L177.0,490.8 Z" fill="#111"/>
<text x="97.50" y="487.60" font-size="5.0" font-weight="bold" stroke="#111" stroke-width="0.16" text-anchor="middle" fill="#111" >11KB</text>
<text x="188.90" y="481.30" font-size="5.0" font-weight="bold" stroke="#111" stroke-width="0.16" fill="#111" textLength="77.00" lengthAdjust="spacingAndGlyphs" >Chr2:180,324,859-180,338,450</text>
<line x1="190.10" y1="488.80" x2="340.90" y2="488.80" stroke="#222" stroke-width="0.9" />
<path d="M188.1,488.8 L193.1,486.8 L191.9,488.8 L193.1,490.8 Z" fill="#111"/>
<path d="M342.9,488.8 L337.9,486.8 L339.1,488.8 L337.9,490.8 Z" fill="#111"/>
<text x="268.00" y="487.60" font-size="5.0" font-weight="bold" stroke="#111" stroke-width="0.16" text-anchor="middle" fill="#111" >14KB</text>
<text x="349.40" y="481.30" font-size="5.0" font-weight="bold" stroke="#111" stroke-width="0.16" fill="#111" textLength="76.00" lengthAdjust="spacingAndGlyphs" >Chr18:64,313,878-64,376,002</text>
<line x1="350.60" y1="488.80" x2="505.80" y2="488.80" stroke="#222" stroke-width="0.9" />
<path d="M348.6,488.8 L353.6,486.8 L352.4,488.8 L353.6,490.8 Z" fill="#111"/>
<path d="M507.8,488.8 L502.8,486.8 L504.0,488.8 L502.8,490.8 Z" fill="#111"/>
<text x="426.00" y="487.60" font-size="5.0" font-weight="bold" stroke="#111" stroke-width="0.16" text-anchor="middle" fill="#111" >62KB</text>
<text x="514.20" y="481.30" font-size="5.0" font-weight="bold" stroke="#111" stroke-width="0.16" fill="#111" textLength="81.00" lengthAdjust="spacingAndGlyphs" >Chr2: 148,038,250-148,043,953</text>
<line x1="515.40" y1="488.80" x2="675.80" y2="488.80" stroke="#222" stroke-width="0.9" />
<path d="M513.4,488.8 L518.4,486.8 L517.2,488.8 L518.4,490.8 Z" fill="#111"/>
<path d="M677.8,488.8 L672.8,486.8 L674.0,488.8 L672.8,490.8 Z" fill="#111"/>
<text x="598.00" y="487.60" font-size="5.0" font-weight="bold" stroke="#111" stroke-width="0.16" text-anchor="middle" fill="#111" >6KB</text>
<path d="M22.5,524.8L22.5,516.7L23.1,518.2L23.7,519.5L24.3,518.8L24.9,518.1L25.5,519.3L26.1,520.5L26.7,521.6L27.3,520.2L27.9,519.1L28.5,520.1L29.1,519.8L29.7,520.3L30.3,519.5L30.9,517.9L31.5,516.8L32.1,518.7L32.7,516.5L33.3,515.5L33.9,514.9L34.5,515.8L35.1,516.1L35.7,515.8L36.3,516.0L36.9,516.3L37.5,516.8L38.1,517.3L38.7,516.7L39.3,515.1L39.9,517.1L40.5,516.0L41.1,517.1L41.7,516.5L42.3,517.9L42.9,517.8L43.5,519.0L44.1,522.4L44.7,520.6L45.3,520.3L45.9,517.8L46.5,517.6L47.1,517.9L47.7,516.9L48.3,516.7L48.9,515.9L49.5,514.2L50.1,514.8L50.7,513.2L51.3,515.2L51.9,513.8L52.5,514.5L53.1,514.2L53.7,515.1L54.3,514.0L54.9,515.2L55.5,514.7L56.1,515.9L56.7,515.7L57.3,515.3L57.9,514.0L58.5,514.9L59.1,514.7L59.7,515.6L60.3,513.8L60.9,514.0L61.5,513.8L62.1,513.4L62.7,513.2L63.3,513.1L63.9,512.3L64.5,511.7L65.1,512.0L65.7,513.0L66.3,514.1L66.9,513.9L67.5,513.9L68.1,513.6L68.7,513.4L69.3,512.9L69.9,513.3L70.5,514.6L71.1,513.1L71.7,512.5L72.3,514.9L72.9,514.2L73.5,514.8L74.1,515.6L74.7,514.5L75.3,518.0L75.9,519.0L76.5,518.3L77.1,519.2L77.7,519.4L78.3,519.1L78.9,518.7L79.5,518.5L80.1,518.5L80.7,517.6L81.3,516.2L81.9,516.4L82.5,515.0L83.1,516.4L83.7,517.4L84.3,516.8L84.9,515.6L85.5,516.3L86.1,517.9L86.7,519.0L87.3,520.6L87.9,519.0L88.5,519.5L89.1,519.7L89.7,518.7L90.3,516.1L90.9,517.8L91.5,519.4L92.1,518.3L92.7,516.0L93.3,515.4L93.9,515.4L94.5,517.2L95.1,515.7L95.7,514.5L96.3,515.2L96.9,513.6L97.5,514.6L98.1,512.2L98.7,511.4L99.3,512.0L99.9,513.3L100.5,513.5L101.1,513.6L101.7,512.1L102.3,513.0L102.9,513.8L103.5,514.5L104.1,516.1L104.7,515.9L105.3,516.8L105.9,516.4L106.5,515.9L107.1,516.1L107.7,516.5L108.3,517.0L108.9,515.9L109.5,515.8L110.1,514.8L110.7,517.2L111.3,517.7L111.9,516.4L112.5,515.5L113.1,514.3L113.7,515.1L114.3,515.2L114.9,516.8L115.5,515.4L116.1,513.8L116.7,511.7L117.3,514.3L117.9,513.9L118.5,511.9L119.1,512.8L119.7,511.2L120.3,515.2L120.9,514.7L121.5,514.7L122.1,514.5L122.7,513.1L123.3,515.1L123.9,514.8L124.5,517.2L125.1,516.0L125.7,517.2L126.3,520.0L126.9,521.4L127.5,519.0L128.1,517.8L128.7,519.5L129.3,519.8L129.9,518.1L130.5,517.7L131.1,517.5L131.7,516.8L132.3,516.9L132.9,518.6L133.5,518.4L134.1,519.5L134.7,517.8L135.3,517.2L135.9,516.1L136.5,516.6L137.1,515.5L137.7,514.7L138.3,516.7L138.9,517.9L139.5,517.6L140.1,517.9L140.7,516.9L141.3,515.7L141.9,516.2L142.5,516.3L143.1,515.9L143.7,515.6L144.3,515.9L144.9,517.6L145.5,518.6L146.1,518.5L146.7,520.4L147.3,519.3L147.9,519.0L148.5,519.1L149.1,517.0L149.7,515.0L150.3,516.5L150.9,515.3L151.5,516.4L152.1,515.6L152.7,515.6L153.3,515.5L153.9,513.0L154.5,514.9L155.1,514.3L155.7,514.1L156.3,514.4L156.9,515.7L157.5,516.3L158.1,516.6L158.7,514.4L159.3,514.8L159.9,513.4L160.5,515.1L161.1,516.3L161.7,515.5L162.3,516.2L162.9,516.5L163.5,517.3L164.1,516.0L164.7,515.6L165.3,515.6L165.9,517.9L166.5,518.1L167.1,517.1L167.7,517.1L168.3,517.1L168.9,517.2L169.5,517.0L170.1,516.8L170.7,516.0L171.3,516.3L171.9,518.6L172.5,518.3L173.1,517.8L173.7,517.5L174.3,517.7L174.9,518.0L175.5,517.3L176.1,517.9L176.7,518.1L177.3,517.4L177.9,517.2L178.5,516.9L179.1,516.9L179.7,518.7L180.3,516.3L180.9,517.6L181.5,517.7L182.1,517.7L182.6,524.8Z" fill="#f41a3c"/>
<rect x="22.50" y="527.90" width="160.10" height="4.80" fill="#fa1e0a" />
<path d="M22.5,585.6L22.5,582.0L23.1,583.1L23.7,582.6L24.3,582.4L24.9,582.0L25.5,582.5L26.1,583.7L26.7,582.9L27.3,582.2L27.9,581.9L28.5,582.1L29.1,582.0L29.7,584.4L30.3,584.2L30.9,583.2L31.5,584.1L32.1,582.1L32.7,582.5L33.3,582.3L33.9,579.8L34.5,578.7L35.1,578.6L35.7,579.9L36.3,580.3L36.9,577.8L37.5,579.0L38.1,579.3L38.7,580.2L39.3,581.1L39.9,582.3L40.5,580.7L41.1,580.5L41.7,579.9L42.3,580.9L42.9,582.2L43.5,582.9L44.1,579.9L44.7,577.3L45.3,577.4L45.9,576.5L46.5,578.5L47.1,577.5L47.7,575.6L48.3,576.4L48.9,576.4L49.5,574.4L50.1,574.8L50.7,575.2L51.3,575.6L51.9,575.8L52.5,575.4L53.1,575.8L53.7,575.2L54.3,574.7L54.9,576.8L55.5,576.6L56.1,576.7L56.7,575.1L57.3,576.1L57.9,577.4L58.5,575.2L59.1,576.0L59.7,574.3L60.3,573.9L60.9,572.7L61.5,572.1L62.1,572.2L62.7,570.1L63.3,570.7L63.9,569.5L64.5,570.1L65.1,572.6L65.7,572.5L66.3,574.0L66.9,576.4L67.5,578.3L68.1,576.8L68.7,578.0L69.3,579.5L69.9,579.3L70.5,577.9L71.1,577.0L71.7,577.0L72.3,576.2L72.9,576.6L73.5,576.8L74.1,576.8L74.7,578.0L75.3,577.3L75.9,576.5L76.5,579.0L77.1,578.2L77.7,579.0L78.3,579.9L78.9,580.5L79.5,580.5L80.1,581.4L80.7,583.3L81.3,581.0L81.9,580.4L82.5,581.0L83.1,580.5L83.7,580.0L84.3,579.6L84.9,576.6L85.5,576.9L86.1,578.0L86.7,578.8L87.3,579.9L87.9,579.5L88.5,578.9L89.1,579.1L89.7,579.0L90.3,579.5L90.9,580.1L91.5,579.5L92.1,579.0L92.7,578.9L93.3,580.5L93.9,580.8L94.5,580.4L95.1,579.9L95.7,579.5L96.3,578.3L96.9,578.3L97.5,576.5L98.1,576.5L98.7,575.7L99.3,576.6L99.9,575.4L100.5,575.5L101.1,576.0L101.7,577.0L102.3,575.4L102.9,574.7L103.5,576.2L104.1,574.8L104.7,575.9L105.3,575.2L105.9,575.5L106.5,574.0L107.1,575.8L107.7,575.3L108.3,574.8L108.9,577.3L109.5,576.8L110.1,579.3L110.7,577.7L111.3,576.9L111.9,577.5L112.5,579.4L113.1,578.8L113.7,579.4L114.3,580.0L114.9,579.3L115.5,579.5L116.1,578.6L116.7,577.3L117.3,578.4L117.9,578.2L118.5,577.3L119.1,575.7L119.7,573.9L120.3,575.3L120.9,574.8L121.5,572.8L122.1,574.7L122.7,574.5L123.3,576.4L123.9,577.7L124.5,578.9L125.1,579.7L125.7,580.4L126.3,580.1L126.9,581.2L127.5,581.1L128.1,581.0L128.7,581.3L129.3,581.4L129.9,582.2L130.5,578.4L131.1,579.8L131.7,579.4L132.3,581.4L132.9,580.5L133.5,577.7L134.1,578.5L134.7,577.7L135.3,578.7L135.9,577.0L136.5,577.2L137.1,577.1L137.7,577.0L138.3,576.4L138.9,574.9L139.5,576.5L140.1,577.3L140.7,576.4L141.3,575.2L141.9,575.8L142.5,576.1L143.1,575.6L143.7,575.9L144.3,577.6L144.9,576.1L145.5,576.4L146.1,575.5L146.7,576.7L147.3,577.2L147.9,577.5L148.5,578.0L149.1,580.8L149.7,580.0L150.3,579.8L150.9,581.5L151.5,579.7L152.1,577.4L152.7,578.4L153.3,577.3L153.9,579.0L154.5,576.7L155.1,576.4L155.7,575.1L156.3,576.1L156.9,575.1L157.5,575.4L158.1,575.0L158.7,574.4L159.3,575.4L159.9,575.5L160.5,575.0L161.1,574.1L161.7,573.8L162.3,575.1L162.9,577.6L163.5,575.9L164.1,575.2L164.7,575.3L165.3,575.1L165.9,575.3L166.5,576.2L167.1,578.1L167.7,577.5L168.3,577.0L168.9,576.0L169.5,577.5L170.1,577.9L170.7,577.1L171.3,577.1L171.9,578.2L172.5,579.6L173.1,579.8L173.7,579.7L174.3,579.3L174.9,579.9L175.5,579.9L176.1,582.0L176.7,579.9L177.3,580.1L177.9,581.9L178.5,581.2L179.1,582.7L179.7,582.0L180.3,582.2L180.9,582.0L181.5,581.2L182.1,581.5L182.6,585.6Z" fill="#f41a3c"/>
<rect x="22.50" y="589.20" width="160.10" height="4.70" fill="#fa1e0a" />
<path d="M187.3,525.1L187.3,524.5L187.9,524.2L188.5,524.0L189.1,524.2L189.7,524.0L190.3,524.2L190.9,523.5L191.5,523.3L192.1,524.0L192.7,523.3L193.3,522.5L193.9,523.0L194.5,522.9L195.1,523.6L195.7,523.0L196.3,522.6L196.9,522.9L197.5,524.2L198.1,523.6L198.7,523.5L199.3,523.4L199.9,523.6L200.5,524.0L201.1,524.4L201.7,522.6L202.3,524.0L202.9,523.5L203.5,523.2L204.1,524.5L204.7,523.7L205.3,524.5L205.9,524.3L206.5,523.0L207.1,523.5L207.7,523.8L208.3,523.4L208.9,521.9L209.5,522.7L210.1,523.0L210.7,522.5L211.3,524.2L211.9,523.4L212.5,523.1L213.1,523.0L213.7,522.7L214.3,522.6L214.9,523.2L215.5,523.4L216.1,523.0L216.7,523.1L217.3,522.4L217.9,523.3L218.5,522.8L219.1,523.3L219.7,522.7L220.3,522.8L220.9,523.3L221.5,522.5L222.1,524.5L222.7,523.6L223.3,523.3L223.9,522.8L224.5,524.1L225.1,524.4L225.7,523.8L226.3,522.5L226.9,522.7L227.5,523.5L228.1,523.0L228.7,522.4L229.3,522.2L229.9,522.5L230.5,523.0L231.1,522.8L231.7,523.1L232.3,524.5L232.9,524.5L233.5,523.1L234.1,523.4L234.7,523.3L235.3,523.2L235.9,523.9L236.5,523.2L237.1,523.0L237.7,522.9L238.3,523.1L238.9,524.0L239.5,523.9L240.1,522.5L240.7,522.6L241.3,522.2L241.9,523.0L242.5,522.8L243.1,523.1L243.7,522.6L244.3,521.2L244.9,522.2L245.5,522.3L246.1,522.5L246.7,521.4L247.3,521.9L247.9,521.5L248.5,521.3L249.1,521.9L249.7,522.0L250.3,521.2L250.9,520.4L251.5,519.7L252.1,520.6L252.7,521.9L253.3,521.4L253.9,519.7L254.5,520.0L255.1,520.8L255.7,521.7L256.3,521.6L256.9,520.9L257.5,520.6L258.1,519.6L258.7,519.7L259.3,519.7L259.9,519.4L260.5,519.8L261.1,519.5L261.7,519.9L262.3,520.6L262.9,520.3L263.5,520.0L264.1,519.4L264.7,518.4L265.3,518.9L265.9,519.5L266.5,518.6L267.1,519.7L267.7,519.0L268.3,519.1L268.9,518.7L269.5,517.9L270.1,519.7L270.7,518.3L271.3,519.3L271.9,518.9L272.5,519.4L273.1,519.0L273.7,519.3L274.3,520.4L274.9,521.5L275.5,519.9L276.1,519.3L276.7,519.1L277.3,517.6L277.9,517.4L278.5,515.9L279.1,515.8L279.7,515.2L280.3,515.4L280.9,515.9L281.5,515.6L282.1,517.2L282.7,517.1L283.3,518.9L283.9,519.6L284.5,517.7L285.1,515.3L285.7,514.6L286.3,512.7L286.9,510.1L287.5,508.9L288.1,509.4L288.7,507.9L289.3,507.3L289.9,506.3L290.5,504.6L291.1,504.7L291.7,506.8L292.3,508.3L292.9,509.5L293.5,509.3L294.1,510.6L294.7,510.4L295.3,510.2L295.9,510.0L296.5,508.6L297.1,507.8L297.7,508.4L298.3,509.5L298.9,507.7L299.5,508.2L300.1,508.1L300.7,508.9L301.3,509.8L301.9,509.0L302.5,508.2L303.1,508.9L303.7,509.4L304.3,509.1L304.9,510.9L305.5,510.9L306.1,512.0L306.7,511.4L307.3,513.1L307.9,512.3L308.5,513.5L309.1,512.1L309.7,513.7L310.3,513.0L310.9,512.1L311.5,512.7L312.1,513.2L312.7,512.5L313.3,512.6L313.9,513.1L314.5,513.4L315.1,511.9L315.7,513.4L316.3,514.7L316.9,515.2L317.5,516.1L318.1,515.6L318.7,517.7L319.3,517.3L319.9,517.0L320.5,517.5L321.1,517.7L321.7,517.4L322.3,516.9L322.9,517.9L323.5,518.0L324.1,516.7L324.7,516.9L325.3,517.9L325.9,518.1L326.5,518.3L327.1,518.6L327.7,518.4L328.3,519.3L328.9,518.3L329.5,518.1L330.1,518.5L330.7,519.0L331.3,519.2L331.9,519.7L332.5,518.8L333.1,519.6L333.7,519.5L334.3,518.7L334.9,519.1L335.5,520.7L336.1,520.5L336.7,519.7L337.3,518.4L337.9,519.1L338.5,519.4L339.1,520.1L339.7,521.8L340.3,521.4L340.9,521.1L341.5,520.2L342.1,519.9L342.7,520.5L343.3,520.6L343.5,525.1Z" fill="#f41a3c"/>
<rect x="227.20" y="528.70" width="1.00" height="3.70" fill="#fa1e0a" />
<rect x="243.50" y="528.70" width="100.00" height="3.70" fill="#fa1e0a" />
<path d="M187.3,586.5L187.3,585.9L187.9,584.9L188.5,584.3L189.1,585.2L189.7,584.8L190.3,583.9L190.9,585.2L191.5,584.6L192.1,583.7L192.7,584.5L193.3,584.9L193.9,584.5L194.5,585.0L195.1,585.2L195.7,584.2L196.3,583.2L196.9,582.6L197.5,583.9L198.1,585.1L198.7,585.4L199.3,585.7L199.9,585.9L200.5,585.0L201.1,585.4L201.7,583.8L202.3,584.8L202.9,584.9L203.5,584.6L204.1,584.3L204.7,583.8L205.3,584.4L205.9,585.3L206.5,584.5L207.1,584.9L207.7,584.2L208.3,584.6L208.9,583.9L209.5,584.6L210.1,584.4L210.7,584.7L211.3,584.2L211.9,583.7L212.5,584.1L213.1,585.0L213.7,585.7L214.3,584.7L214.9,585.1L215.5,585.2L216.1,584.9L216.7,583.7L217.3,584.5L217.9,583.9L218.5,585.1L219.1,585.2L219.7,585.1L220.3,583.1L220.9,584.5L221.5,584.9L222.1,583.8L222.7,584.9L223.3,584.7L223.9,584.4L224.5,584.0L225.1,583.7L225.7,584.0L226.3,585.9L226.9,585.1L227.5,584.8L228.1,584.2L228.7,584.0L229.3,584.0L229.9,583.8L230.5,584.8L231.1,584.4L231.7,585.0L232.3,583.9L232.9,584.9L233.5,584.6L234.1,584.9L234.7,584.5L235.3,583.9L235.9,585.0L236.5,584.3L237.1,584.3L237.7,583.8L238.3,584.4L238.9,584.2L239.5,584.5L240.1,584.7L240.7,584.1L241.3,583.4L241.9,584.4L242.5,585.0L243.1,585.0L243.7,583.9L244.3,584.6L244.9,584.7L245.5,584.7L246.1,584.8L246.7,584.3L247.3,584.5L247.9,585.0L248.5,584.3L249.1,583.5L249.7,584.1L250.3,584.4L250.9,583.1L251.5,583.3L252.1,584.1L252.7,583.8L253.3,583.8L253.9,582.9L254.5,583.9L255.1,584.6L255.7,583.5L256.3,582.8L256.9,582.2L257.5,583.3L258.1,582.9L258.7,582.2L259.3,583.1L259.9,583.0L260.5,582.7L261.1,581.1L261.7,581.5L262.3,582.0L262.9,580.9L263.5,581.8L264.1,582.2L264.7,582.0L265.3,580.7L265.9,580.3L266.5,581.0L267.1,581.2L267.7,581.2L268.3,581.1L268.9,580.1L269.5,579.5L270.1,578.2L270.7,579.5L271.3,581.1L271.9,580.0L272.5,579.8L273.1,580.7L273.7,580.9L274.3,580.1L274.9,580.4L275.5,580.4L276.1,582.5L276.7,581.4L277.3,581.6L277.9,582.0L278.5,581.8L279.1,581.1L279.7,580.7L280.3,578.5L280.9,578.1L281.5,577.4L282.1,577.2L282.7,578.6L283.3,576.0L283.9,576.4L284.5,575.0L285.1,575.9L285.7,575.9L286.3,574.4L286.9,575.3L287.5,574.0L288.1,574.1L288.7,573.1L289.3,572.0L289.9,571.5L290.5,571.2L291.1,571.2L291.7,570.6L292.3,571.8L292.9,571.3L293.5,571.5L294.1,571.9L294.7,572.5L295.3,572.8L295.9,573.6L296.5,575.1L297.1,575.3L297.7,575.4L298.3,575.9L298.9,576.8L299.5,577.0L300.1,577.3L300.7,576.7L301.3,576.6L301.9,576.1L302.5,576.4L303.1,575.9L303.7,576.0L304.3,576.1L304.9,576.0L305.5,575.9L306.1,575.6L306.7,576.6L307.3,575.8L307.9,575.1L308.5,576.0L309.1,575.6L309.7,575.8L310.3,576.7L310.9,576.1L311.5,575.2L312.1,577.3L312.7,578.6L313.3,577.5L313.9,577.9L314.5,579.2L315.1,578.1L315.7,578.4L316.3,578.3L316.9,578.9L317.5,577.9L318.1,579.5L318.7,579.3L319.3,579.5L319.9,579.1L320.5,577.9L321.1,578.8L321.7,578.3L322.3,579.0L322.9,578.6L323.5,578.7L324.1,578.8L324.7,579.3L325.3,579.4L325.9,578.2L326.5,578.5L327.1,579.4L327.7,579.0L328.3,578.0L328.9,578.0L329.5,577.8L330.1,579.0L330.7,579.0L331.3,579.4L331.9,580.9L332.5,579.4L333.1,579.4L333.7,579.2L334.3,579.4L334.9,581.3L335.5,581.7L336.1,583.0L336.7,581.3L337.3,581.4L337.9,583.0L338.5,583.3L339.1,583.3L339.7,583.3L340.3,582.9L340.9,582.8L341.5,582.8L342.1,583.4L342.7,583.0L343.3,583.2L343.5,586.5Z" fill="#f41a3c"/>
<rect x="236.10" y="590.10" width="10.30" height="4.10" fill="#fa1e0a" />
<rect x="259.70" y="590.10" width="83.80" height="4.10" fill="#fa1e0a" />
<path d="M347.8,525.5L347.8,523.6L348.3,523.1L348.8,523.0L349.3,523.2L349.8,523.1L350.3,523.1L350.8,523.7L351.3,523.5L351.8,523.2L352.3,523.5L352.8,523.9L353.3,523.3L353.8,523.0L354.3,523.1L354.8,523.0L355.3,523.6L355.8,523.5L356.3,523.2L356.8,523.3L357.3,523.0L357.8,522.9L358.3,523.0L358.8,523.7L359.3,522.8L359.8,523.1L360.3,523.4L360.8,523.4L361.3,523.7L361.8,523.5L362.3,523.3L362.8,523.2L363.3,522.9L363.8,523.4L364.3,522.9L364.8,522.9L365.3,522.9L365.8,522.8L366.3,522.3L366.8,522.6L367.3,522.8L367.8,523.0L368.3,523.2L368.8,523.1L369.3,522.9L369.8,523.0L370.3,523.0L370.8,522.3L371.3,521.7L371.8,521.3L372.3,521.8L372.8,521.9L373.3,521.5L373.8,521.5L374.3,521.7L374.8,521.9L375.3,521.4L375.8,521.3L376.3,521.6L376.8,522.0L377.3,521.9L377.8,521.2L378.3,521.2L378.8,520.9L379.3,520.9L379.8,520.6L380.3,520.6L380.8,520.6L381.3,521.0L381.8,520.8L382.3,520.4L382.8,520.0L383.3,519.4L383.8,519.1L384.3,519.1L384.8,518.9L385.3,518.9L385.8,518.3L386.3,517.8L386.8,516.7L387.3,516.3L387.8,515.2L388.3,515.2L388.8,514.3L389.3,513.8L389.8,511.2L390.3,511.9L390.8,510.4L391.3,510.7L391.8,506.2L392.3,508.1L392.8,510.7L393.3,504.9L393.8,510.9L394.3,506.6L394.8,508.0L395.3,505.9L395.8,508.1L396.3,508.2L396.8,507.6L397.3,508.1L397.8,508.5L398.3,504.5L398.8,514.3L399.3,510.5L399.8,510.8L400.3,508.1L400.8,511.5L401.3,515.2L401.8,512.4L402.3,508.9L402.8,508.4L403.3,508.5L403.8,508.0L404.3,503.8L404.8,508.4L405.3,508.6L405.8,509.6L406.3,511.2L406.8,509.0L407.3,507.5L407.8,510.3L408.3,509.5L408.8,509.0L409.3,508.4L409.8,508.9L410.3,506.1L410.8,513.4L411.3,508.6L411.8,508.3L412.3,508.9L412.8,507.8L413.3,508.9L413.8,506.9L414.3,508.5L414.8,504.9L415.3,507.9L415.8,506.0L416.3,505.0L416.8,504.3L417.3,500.6L417.8,507.5L418.3,509.2L418.8,510.0L419.3,510.8L419.8,508.0L420.3,509.0L420.8,507.9L421.3,510.4L421.8,506.9L422.3,508.7L422.8,510.6L423.3,509.1L423.8,508.1L424.3,502.7L424.8,507.8L425.3,508.4L425.8,504.2L426.3,507.4L426.8,510.2L427.3,506.4L427.8,509.1L428.3,506.6L428.8,504.7L429.3,508.8L429.8,506.7L430.3,507.2L430.8,508.2L431.3,508.9L431.8,510.6L432.3,513.5L432.8,515.2L433.3,512.3L433.8,512.6L434.3,510.1L434.8,512.5L435.3,513.5L435.8,511.5L436.3,513.5L436.8,514.6L437.3,515.5L437.8,516.4L438.3,518.0L438.8,518.6L439.3,519.2L439.8,520.2L440.3,521.0L440.8,521.2L441.3,521.7L441.8,521.7L442.3,521.9L442.8,522.3L443.3,522.1L443.8,522.7L444.3,522.2L444.8,522.4L445.3,522.6L445.8,522.2L446.3,522.5L446.8,522.0L447.3,522.6L447.8,522.7L448.3,522.6L448.8,522.6L449.3,522.5L449.8,522.7L450.3,522.7L450.8,522.6L451.3,521.9L451.8,522.4L452.3,522.7L452.8,523.0L453.3,523.0L453.8,522.6L454.3,522.7L454.8,522.6L455.3,523.2L455.8,523.1L456.3,522.8L456.8,522.6L457.3,523.0L457.8,523.0L458.3,522.3L458.8,522.3L459.3,522.9L459.8,522.5L460.3,522.7L460.8,523.0L461.3,523.2L461.8,523.6L462.3,523.7L462.8,523.4L463.3,523.6L463.8,523.6L464.3,523.5L464.8,523.7L465.3,523.5L465.8,523.6L466.3,523.7L466.8,523.5L467.3,523.6L467.8,523.2L468.3,523.3L468.8,523.3L469.3,523.4L469.8,523.8L470.3,523.8L470.8,523.5L471.3,523.5L471.8,523.5L472.3,523.7L472.8,523.7L473.3,523.5L473.8,523.6L474.3,523.2L474.8,522.9L475.3,523.3L475.8,523.3L476.3,523.3L476.8,523.0L477.3,523.0L477.8,523.0L478.3,523.0L478.8,523.7L479.3,523.3L479.8,523.6L480.3,523.5L480.8,523.6L481.3,523.1L481.8,523.3L482.3,523.3L482.8,523.4L483.3,523.5L483.8,523.6L484.3,523.6L484.8,523.5L485.3,523.2L485.8,523.2L486.3,523.3L486.8,523.5L487.3,524.0L487.8,524.0L488.3,523.7L488.8,523.7L489.3,523.1L489.8,523.2L490.3,523.0L490.8,523.3L491.3,522.9L491.8,523.2L492.3,522.6L492.8,523.5L493.3,523.8L493.8,523.3L494.3,523.5L494.8,523.4L495.3,524.0L495.8,524.0L496.3,523.7L496.8,523.6L497.3,523.7L497.8,523.3L498.3,523.6L498.8,523.6L499.3,523.3L499.8,523.2L500.3,523.1L500.8,523.1L501.3,523.8L501.8,523.5L502.3,523.6L502.8,523.3L503.3,523.7L503.8,523.6L504.3,523.9L504.8,523.3L505.3,523.2L505.8,523.4L506.3,523.5L506.8,523.6L507.3,523.7L507.8,523.5L508.3,523.5L508.4,525.5Z" fill="#f41a3c"/>
<path d="M416.8,525.5 L417.4,500.6 L418.2,525.5Z" fill="#f41a3c"/>
<rect x="348.50" y="529.10" width="0.80" height="4.20" fill="#fa1e0a" />
<rect x="351.10" y="529.10" width="11.50" height="4.20" fill="#fa1e0a" />
<rect x="371.10" y="529.10" width="81.90" height="4.20" fill="#fa1e0a" />
<rect x="455.20" y="529.10" width="0.80" height="4.20" fill="#fa1e0a" />
<rect x="469.20" y="529.10" width="0.80" height="4.20" fill="#fa1e0a" />
<rect x="471.80" y="529.10" width="1.70" height="4.20" fill="#fa1e0a" />
<rect x="490.60" y="529.10" width="0.80" height="4.20" fill="#fa1e0a" />
<rect x="500.80" y="529.10" width="0.80" height="4.20" fill="#fa1e0a" />
<rect x="505.20" y="529.10" width="0.80" height="4.20" fill="#fa1e0a" />
<path d="M347.8,587.1L347.8,584.3L348.3,584.5L348.8,584.4L349.3,584.8L349.8,584.8L350.3,584.7L350.8,584.8L351.3,584.5L351.8,584.6L352.3,584.4L352.8,584.8L353.3,584.7L353.8,584.8L354.3,584.6L354.8,584.3L355.3,584.6L355.8,584.7L356.3,584.8L356.8,584.4L357.3,583.9L357.8,584.2L358.3,584.5L358.8,584.1L359.3,584.9L359.8,584.9L360.3,585.0L360.8,584.5L361.3,584.8L361.8,584.7L362.3,585.0L362.8,585.1L363.3,584.5L363.8,584.3L364.3,584.2L364.8,584.3L365.3,584.3L365.8,584.6L366.3,584.2L366.8,584.0L367.3,584.4L367.8,584.2L368.3,584.5L368.8,584.5L369.3,584.9L369.8,584.4L370.3,583.9L370.8,583.6L371.3,582.7L371.8,581.6L372.3,581.7L372.8,581.2L373.3,581.0L373.8,581.4L374.3,581.6L374.8,581.9L375.3,581.6L375.8,581.2L376.3,581.6L376.8,581.6L377.3,581.3L377.8,581.2L378.3,580.9L378.8,581.2L379.3,580.9L379.8,580.8L380.3,581.2L380.8,580.5L381.3,580.0L381.8,580.4L382.3,579.9L382.8,579.2L383.3,579.5L383.8,580.1L384.3,580.1L384.8,579.8L385.3,579.5L385.8,579.5L386.3,579.1L386.8,578.6L387.3,578.7L387.8,578.7L388.3,578.0L388.8,577.0L389.3,576.1L389.8,573.7L390.3,573.0L390.8,575.1L391.3,575.6L391.8,575.2L392.3,567.7L392.8,568.3L393.3,565.5L393.8,571.1L394.3,569.5L394.8,566.8L395.3,566.5L395.8,564.4L396.3,575.9L396.8,571.2L397.3,574.6L397.8,571.4L398.3,570.7L398.8,571.6L399.3,571.4L399.8,568.5L400.3,565.6L400.8,572.0L401.3,570.0L401.8,567.0L402.3,569.7L402.8,569.6L403.3,569.8L403.8,574.0L404.3,571.3L404.8,568.8L405.3,567.3L405.8,571.7L406.3,572.2L406.8,568.4L407.3,568.6L407.8,571.2L408.3,573.6L408.8,573.0L409.3,573.0L409.8,570.6L410.3,570.4L410.8,568.5L411.3,570.8L411.8,566.6L412.3,572.0L412.8,571.3L413.3,570.4L413.8,573.6L414.3,569.9L414.8,572.7L415.3,567.5L415.8,569.9L416.3,567.2L416.8,562.0L417.3,574.0L417.8,568.8L418.3,570.7L418.8,566.0L419.3,569.6L419.8,567.7L420.3,564.1L420.8,564.5L421.3,570.3L421.8,570.3L422.3,571.4L422.8,571.0L423.3,571.0L423.8,571.9L424.3,574.9L424.8,571.4L425.3,572.3L425.8,570.0L426.3,571.5L426.8,570.2L427.3,568.4L427.8,567.4L428.3,567.0L428.8,572.0L429.3,568.1L429.8,568.8L430.3,573.1L430.8,571.6L431.3,575.6L431.8,573.8L432.3,572.9L432.8,574.4L433.3,573.9L433.8,575.6L434.3,573.8L434.8,575.6L435.3,576.5L435.8,577.1L436.3,576.4L436.8,577.1L437.3,578.4L437.8,580.0L438.3,581.3L438.8,581.8L439.3,582.1L439.8,582.2L440.3,582.8L440.8,582.9L441.3,582.9L441.8,582.8L442.3,583.2L442.8,583.1L443.3,583.6L443.8,584.0L444.3,584.1L444.8,584.1L445.3,584.2L445.8,584.0L446.3,584.1L446.8,584.1L447.3,584.2L447.8,583.8L448.3,583.7L448.8,583.5L449.3,584.0L449.8,584.1L450.3,583.9L450.8,583.7L451.3,583.7L451.8,584.1L452.3,584.1L452.8,584.1L453.3,583.9L453.8,584.0L454.3,584.5L454.8,584.2L455.3,584.2L455.8,584.7L456.3,584.7L456.8,584.2L457.3,584.6L457.8,584.2L458.3,584.5L458.8,583.8L459.3,583.9L459.8,584.4L460.3,584.3L460.8,584.2L461.3,584.4L461.8,584.4L462.3,584.4L462.8,584.3L463.3,584.8L463.8,585.0L464.3,584.9L464.8,584.4L465.3,584.3L465.8,584.3L466.3,584.5L466.8,584.9L467.3,584.6L467.8,584.6L468.3,584.4L468.8,584.5L469.3,584.3L469.8,584.5L470.3,584.8L470.8,584.6L471.3,584.4L471.8,584.5L472.3,584.2L472.8,584.8L473.3,584.3L473.8,584.3L474.3,584.2L474.8,584.7L475.3,584.5L475.8,584.4L476.3,584.9L476.8,584.7L477.3,584.4L477.8,584.4L478.3,584.5L478.8,584.3L479.3,584.4L479.8,584.4L480.3,584.6L480.8,584.8L481.3,584.8L481.8,584.6L482.3,584.8L482.8,584.6L483.3,584.8L483.8,584.8L484.3,584.5L484.8,584.8L485.3,584.3L485.8,584.2L486.3,584.1L486.8,584.3L487.3,584.1L487.8,584.0L488.3,583.8L488.8,584.2L489.3,584.1L489.8,584.9L490.3,584.9L490.8,584.4L491.3,584.8L491.8,584.7L492.3,584.9L492.8,584.4L493.3,584.7L493.8,584.9L494.3,584.6L494.8,584.3L495.3,584.3L495.8,584.5L496.3,585.1L496.8,585.3L497.3,585.3L497.8,584.8L498.3,584.6L498.8,584.6L499.3,584.5L499.8,584.4L500.3,584.4L500.8,584.7L501.3,584.6L501.8,584.6L502.3,584.5L502.8,584.4L503.3,584.4L503.8,584.8L504.3,584.7L504.8,585.0L505.3,584.7L505.8,584.9L506.3,584.3L506.8,584.3L507.3,584.4L507.8,584.3L508.3,584.4L508.4,587.1Z" fill="#f41a3c"/>
<path d="M394.4,587 L395.1,566.2 L395.8,587Z" fill="#f41a3c"/>
<path d="M418.8,587 L419.5,565.7 L420.2,587Z" fill="#f41a3c"/>
<rect x="353.30" y="591.30" width="0.80" height="4.10" fill="#fa1e0a" />
<rect x="359.00" y="591.30" width="0.80" height="4.10" fill="#fa1e0a" />
<rect x="371.30" y="591.30" width="81.00" height="4.10" fill="#fa1e0a" />
<rect x="455.20" y="591.30" width="3.60" height="4.10" fill="#fa1e0a" />
<rect x="500.80" y="591.30" width="0.80" height="4.10" fill="#fa1e0a" />
<rect x="503.90" y="591.30" width="3.90" height="4.10" fill="#fa1e0a" />
<path d="M512.6,525.0L512.6,517.7L513.2,516.9L513.8,515.9L514.4,515.1L515.0,514.2L515.6,513.8L516.2,513.8L516.8,513.8L517.4,513.5L518.0,513.6L518.6,514.0L519.2,513.8L519.8,513.8L520.4,513.8L521.0,513.4L521.6,513.7L522.2,513.9L522.8,512.7L523.4,512.9L524.0,511.9L524.6,511.9L525.2,510.7L525.8,510.8L526.4,510.4L527.0,509.5L527.6,509.4L528.2,509.7L528.8,510.2L529.4,511.1L530.0,511.6L530.6,511.4L531.2,512.2L531.8,513.1L532.4,513.7L533.0,514.7L533.6,513.7L534.2,513.7L534.8,513.6L535.4,513.6L536.0,512.9L536.6,512.4L537.2,512.5L537.8,512.4L538.4,511.8L539.0,512.0L539.6,511.9L540.2,511.9L540.8,510.9L541.4,511.1L542.0,510.6L542.6,510.3L543.2,510.4L543.8,510.6L544.4,510.1L545.0,509.6L545.6,509.6L546.2,508.8L546.8,508.5L547.4,508.1L548.0,507.6L548.6,507.6L549.2,508.3L549.8,508.0L550.4,508.0L551.0,507.7L551.6,508.0L552.2,507.8L552.8,507.3L553.4,507.4L554.0,507.8L554.6,507.5L555.2,508.4L555.8,509.0L556.4,510.3L557.0,510.8L557.6,511.6L558.2,512.1L558.8,512.2L559.4,511.0L560.0,509.6L560.6,508.9L561.2,507.6L561.8,507.3L562.4,506.5L563.0,505.3L563.6,504.5L564.2,502.6L564.8,503.7L565.4,503.8L566.0,504.4L566.6,505.5L567.2,505.0L567.8,505.8L568.4,507.4L569.0,508.9L569.6,509.7L570.2,511.1L570.8,513.2L571.4,514.2L572.0,514.7L572.6,514.5L573.2,514.7L573.8,514.6L574.4,515.4L575.0,516.2L575.6,515.7L576.2,515.0L576.8,514.6L577.4,514.1L578.0,513.4L578.6,513.1L579.2,513.0L579.8,512.8L580.4,511.6L581.0,510.5L581.6,510.8L582.2,511.2L582.8,511.6L583.4,511.8L584.0,511.8L584.6,512.3L585.2,512.7L585.8,513.1L586.4,512.8L587.0,512.9L587.6,512.1L588.2,511.5L588.8,511.1L589.4,510.5L590.0,510.7L590.6,510.2L591.2,510.4L591.8,510.6L592.4,511.1L593.0,511.4L593.6,512.0L594.2,512.6L594.8,513.1L595.4,513.0L596.0,513.4L596.6,513.9L597.2,514.0L597.8,514.7L598.4,515.1L599.0,515.5L599.6,516.1L600.2,516.2L600.8,517.1L601.4,517.6L602.0,517.6L602.6,517.3L603.2,517.0L603.8,516.3L604.4,515.8L605.0,515.7L605.6,514.5L606.2,514.0L606.8,514.1L607.4,514.4L608.0,514.3L608.6,514.9L609.2,515.7L609.8,515.6L610.4,515.6L611.0,515.7L611.6,515.5L612.2,516.1L612.8,516.0L613.4,516.1L614.0,516.3L614.6,516.0L615.2,515.8L615.8,515.7L616.4,516.0L617.0,515.2L617.6,515.2L618.2,514.9L618.8,515.0L619.4,515.2L620.0,515.1L620.6,515.4L621.2,515.6L621.8,515.5L622.4,515.5L623.0,515.5L623.6,516.0L624.2,516.2L624.8,516.8L625.4,516.9L626.0,516.2L626.6,515.6L627.2,515.7L627.8,515.1L628.4,515.0L629.0,515.0L629.6,514.5L630.2,514.8L630.8,514.0L631.4,513.8L632.0,514.1L632.6,513.6L633.2,514.4L633.8,515.0L634.4,515.8L635.0,516.1L635.6,516.3L636.2,516.7L636.8,517.2L637.4,517.9L638.0,518.1L638.6,518.7L639.2,519.0L639.8,518.8L640.4,519.4L641.0,518.8L641.6,519.3L642.2,519.3L642.8,519.8L643.4,520.5L644.0,520.6L644.6,520.4L645.2,520.6L645.8,520.1L646.4,519.7L647.0,520.0L647.6,519.9L648.2,519.2L648.8,519.3L649.4,519.5L650.0,519.4L650.6,519.3L651.2,519.5L651.8,519.6L652.4,519.4L653.0,519.8L653.6,519.3L654.2,519.5L654.8,520.4L655.4,519.8L656.0,519.9L656.6,519.3L657.2,519.2L657.8,518.7L658.4,518.6L659.0,518.2L659.6,518.5L660.2,517.6L660.8,517.2L661.4,516.8L662.0,516.6L662.6,516.3L663.2,515.2L663.8,515.4L664.4,514.5L665.0,513.6L665.6,512.5L666.2,512.1L666.8,511.2L667.4,511.0L668.0,510.4L668.6,510.2L669.2,509.8L669.8,509.8L670.4,510.4L671.0,510.3L671.6,509.9L672.2,509.2L672.8,509.6L673.4,508.7L674.0,508.4L674.6,509.1L675.2,508.9L675.8,509.3L676.4,509.3L677.0,509.8L677.6,510.0L678.2,509.7L678.4,525.0Z" fill="#fe1c0a"/>
<rect x="512.60" y="526.50" width="165.80" height="2.30" fill="#fe1c0a" />
<path d="M512.6,584.4L512.6,577.8L513.2,577.7L513.8,577.7L514.4,577.1L515.0,575.7L515.6,575.5L516.2,575.2L516.8,575.0L517.4,574.6L518.0,574.6L518.6,573.7L519.2,573.6L519.8,572.6L520.4,572.0L521.0,572.2L521.6,572.5L522.2,572.6L522.8,572.7L523.4,573.2L524.0,573.5L524.6,573.6L525.2,573.6L525.8,573.5L526.4,573.3L527.0,573.2L527.6,573.4L528.2,573.4L528.8,573.6L529.4,574.1L530.0,574.3L530.6,574.6L531.2,573.9L531.8,573.1L532.4,573.0L533.0,573.7L533.6,573.6L534.2,573.1L534.8,573.3L535.4,572.8L536.0,573.1L536.6,572.6L537.2,572.2L537.8,572.2L538.4,571.6L539.0,571.5L539.6,571.9L540.2,571.3L540.8,570.3L541.4,569.7L542.0,569.3L542.6,568.6L543.2,568.3L543.8,568.2L544.4,567.5L545.0,567.2L545.6,566.6L546.2,566.0L546.8,565.1L547.4,565.0L548.0,564.8L548.6,564.3L549.2,564.5L549.8,565.2L550.4,565.6L551.0,566.4L551.6,566.8L552.2,567.0L552.8,567.0L553.4,567.8L554.0,568.5L554.6,568.8L555.2,569.2L555.8,569.6L556.4,570.9L557.0,571.6L557.6,570.5L558.2,569.6L558.8,568.6L559.4,567.7L560.0,566.6L560.6,565.4L561.2,564.5L561.8,563.6L562.4,562.1L563.0,561.3L563.6,559.8L564.2,558.3L564.8,559.6L565.4,560.4L566.0,561.8L566.6,562.9L567.2,564.2L567.8,565.7L568.4,566.3L569.0,568.0L569.6,569.5L570.2,570.6L570.8,571.6L571.4,572.5L572.0,573.1L572.6,573.6L573.2,574.8L573.8,575.8L574.4,576.0L575.0,576.8L575.6,576.5L576.2,576.7L576.8,576.2L577.4,575.5L578.0,575.9L578.6,575.6L579.2,575.2L579.8,574.8L580.4,574.3L581.0,574.0L581.6,574.0L582.2,574.0L582.8,573.8L583.4,573.8L584.0,574.4L584.6,574.0L585.2,573.6L585.8,573.8L586.4,573.6L587.0,574.6L587.6,574.6L588.2,574.5L588.8,574.5L589.4,574.9L590.0,573.9L590.6,573.6L591.2,572.9L591.8,573.2L592.4,572.9L593.0,573.1L593.6,572.5L594.2,571.8L594.8,571.5L595.4,571.6L596.0,571.1L596.6,571.0L597.2,570.5L597.8,570.2L598.4,570.5L599.0,572.0L599.6,572.4L600.2,573.5L600.8,574.6L601.4,575.1L602.0,575.6L602.6,577.2L603.2,578.5L603.8,578.0L604.4,577.3L605.0,577.5L605.6,577.2L606.2,576.7L606.8,576.5L607.4,575.6L608.0,575.6L608.6,575.3L609.2,575.1L609.8,575.4L610.4,575.3L611.0,575.6L611.6,574.4L612.2,574.2L612.8,574.3L613.4,575.0L614.0,575.3L614.6,575.2L615.2,575.1L615.8,574.9L616.4,574.9L617.0,574.9L617.6,574.4L618.2,575.4L618.8,575.7L619.4,576.2L620.0,576.3L620.6,576.1L621.2,576.2L621.8,575.6L622.4,575.5L623.0,576.1L623.6,576.0L624.2,575.7L624.8,576.1L625.4,575.9L626.0,576.3L626.6,577.0L627.2,576.6L627.8,576.4L628.4,576.4L629.0,576.0L629.6,575.8L630.2,575.2L630.8,574.9L631.4,574.0L632.0,574.0L632.6,574.3L633.2,574.2L633.8,574.5L634.4,575.1L635.0,575.7L635.6,576.1L636.2,575.8L636.8,575.9L637.4,576.8L638.0,576.7L638.6,577.0L639.2,576.9L639.8,577.1L640.4,576.6L641.0,577.2L641.6,577.2L642.2,577.7L642.8,578.0L643.4,578.9L644.0,579.2L644.6,579.3L645.2,579.1L645.8,578.8L646.4,579.2L647.0,579.1L647.6,579.3L648.2,579.7L648.8,579.7L649.4,579.7L650.0,579.5L650.6,580.0L651.2,580.2L651.8,580.4L652.4,580.8L653.0,580.1L653.6,580.2L654.2,580.5L654.8,580.7L655.4,580.7L656.0,580.2L656.6,578.7L657.2,578.0L657.8,577.6L658.4,576.5L659.0,575.5L659.6,574.9L660.2,573.3L660.8,572.7L661.4,572.3L662.0,571.2L662.6,569.9L663.2,569.3L663.8,569.5L664.4,569.9L665.0,570.7L665.6,570.8L666.2,571.9L666.8,572.2L667.4,572.8L668.0,573.8L668.6,574.4L669.2,575.1L669.8,575.8L670.4,574.9L671.0,574.1L671.6,572.4L672.2,571.4L672.8,569.6L673.4,568.9L674.0,568.2L674.6,566.7L675.2,565.7L675.8,564.8L676.4,564.4L677.0,564.6L677.6,565.7L678.2,565.6L678.4,584.4Z" fill="#fe1c0a"/>
<rect x="512.60" y="585.80" width="165.80" height="3.00" fill="#fe1c0a" />
<rect x="138.10" y="617.70" width="2.90" height="4.20" fill="#9b2fb5" />
<rect x="170.20" y="617.70" width="0.90" height="4.20" fill="#9b2fb5" />
<rect x="287.70" y="618.40" width="9.20" height="3.90" fill="#9b2fb5" />
<rect x="423.00" y="618.40" width="7.60" height="4.20" fill="#9b2fb5" />
<rect x="516.00" y="648.70" width="1.80" height="1.80" fill="#40e0d0" />
<text x="24.10" y="632.40" font-size="7.4" font-weight="bold" stroke="#000" stroke-width="0.16" textLength="24.40" lengthAdjust="spacingAndGlyphs" >Hyper</text>
<text x="24.10" y="658.20" font-size="7.4" font-weight="bold" stroke="#000" stroke-width="0.16" textLength="21.10" lengthAdjust="spacingAndGlyphs" >Hypo</text>
<text x="518.10" y="661.60" font-size="7.0" fill="#111" textLength="82.00" lengthAdjust="spacingAndGlyphs" stroke="#111" stroke-width="0.25">Distal enhancer-like region</text>
<line x1="29.70" y1="688.90" x2="182.60" y2="688.90" stroke="#2020ee" stroke-width="0.7" />
<rect x="29.70" y="687.80" width="20.20" height="2.20" fill="#2020ee" />
<rect x="49.90" y="686.30" width="17.50" height="5.20" fill="#2020ee" />
<rect x="100.40" y="686.30" width="2.00" height="5.20" fill="#2020ee" />
<rect x="100.40" y="687.70" width="6.40" height="2.40" fill="#2020ee" />
<rect x="112.30" y="687.30" width="2.20" height="3.20" fill="#2020ee" />
<rect x="115.30" y="687.30" width="2.60" height="3.20" fill="#2020ee" />
<line x1="76.30" y1="688.20" x2="76.30" y2="689.60" stroke="#2020ee" stroke-width="0.8" />
<line x1="91.50" y1="688.20" x2="91.50" y2="689.60" stroke="#2020ee" stroke-width="0.8" />
<line x1="123.40" y1="688.20" x2="123.40" y2="689.60" stroke="#2020ee" stroke-width="0.8" />
<line x1="139.70" y1="688.20" x2="139.70" y2="689.60" stroke="#2020ee" stroke-width="0.8" />
<line x1="154.90" y1="688.20" x2="154.90" y2="689.60" stroke="#2020ee" stroke-width="0.8" />
<line x1="170.10" y1="688.20" x2="170.10" y2="689.60" stroke="#2020ee" stroke-width="0.8" />
<line x1="187.30" y1="688.90" x2="343.50" y2="688.90" stroke="#2020ee" stroke-width="0.7" />
<rect x="187.30" y="687.30" width="19.00" height="3.20" fill="#2020ee" />
<rect x="205.80" y="686.30" width="1.20" height="5.20" fill="#2020ee" />
<rect x="211.50" y="686.10" width="1.30" height="5.60" fill="#2020ee" />
<rect x="216.70" y="686.10" width="1.30" height="5.60" fill="#2020ee" />
<rect x="223.20" y="686.10" width="1.30" height="5.60" fill="#2020ee" />
<rect x="270.60" y="686.10" width="1.30" height="5.60" fill="#2020ee" />
<rect x="277.20" y="687.90" width="1.20" height="2.00" fill="#2020ee" />
<rect x="286.9" y="686.3" width="11.3" height="5.2" rx="2" fill="#2020ee"/>
<line x1="233.10" y1="688.20" x2="233.10" y2="689.60" stroke="#2020ee" stroke-width="0.8" />
<line x1="249.50" y1="688.20" x2="249.50" y2="689.60" stroke="#2020ee" stroke-width="0.8" />
<line x1="262.00" y1="688.20" x2="262.00" y2="689.60" stroke="#2020ee" stroke-width="0.8" />
<line x1="301.50" y1="688.20" x2="301.50" y2="689.60" stroke="#2020ee" stroke-width="0.8" />
<line x1="304.00" y1="688.20" x2="304.00" y2="689.60" stroke="#2020ee" stroke-width="0.8" />
<line x1="307.00" y1="688.20" x2="307.00" y2="689.60" stroke="#2020ee" stroke-width="0.8" />
<line x1="316.00" y1="688.20" x2="316.00" y2="689.60" stroke="#2020ee" stroke-width="0.8" />
<line x1="330.00" y1="688.20" x2="330.00" y2="689.60" stroke="#2020ee" stroke-width="0.8" />
<line x1="416.70" y1="688.90" x2="508.40" y2="688.90" stroke="#2020ee" stroke-width="0.7" />
<rect x="416.20" y="686.00" width="2.60" height="5.80" fill="#2020ee" />
<line x1="425.50" y1="688.20" x2="425.50" y2="689.60" stroke="#2020ee" stroke-width="0.8" />
<line x1="441.20" y1="688.20" x2="441.20" y2="689.60" stroke="#2020ee" stroke-width="0.8" />
<line x1="457.00" y1="688.20" x2="457.00" y2="689.60" stroke="#2020ee" stroke-width="0.8" />
<line x1="472.80" y1="688.20" x2="472.80" y2="689.60" stroke="#2020ee" stroke-width="0.8" />
<line x1="488.50" y1="688.20" x2="488.50" y2="689.60" stroke="#2020ee" stroke-width="0.8" />
<line x1="504.20" y1="688.20" x2="504.20" y2="689.60" stroke="#2020ee" stroke-width="0.8" />
<line x1="347.80" y1="688.90" x2="350.50" y2="688.90" stroke="#2020ee" stroke-width="0.7" />
<line x1="512.60" y1="686.70" x2="566.70" y2="686.70" stroke="#2020ee" stroke-width="1.2" stroke-dasharray="1.1,0.5"/>
<rect x="566.70" y="685.40" width="12.40" height="2.60" fill="#2020ee" />
<rect x="646.90" y="685.40" width="18.40" height="2.60" fill="#2020ee" />
<rect x="665.30" y="684.50" width="13.10" height="4.40" fill="#2020ee" />
<path d="M106.2,690.0 L106.2,698.0 L94.0,698.0" fill="none" stroke="#f01414" stroke-width="2.0"/>
<path d="M91.0,698.0 L96.0,694.9 L96.0,701.1Z" fill="#f01414"/>
<path d="M298.2,689.5 L298.2,696.4 L284.4,696.4" fill="none" stroke="#f01414" stroke-width="2.0"/>
<path d="M281.4,696.4 L286.4,693.3 L286.4,699.5Z" fill="#f01414"/>
<path d="M417.5,689.5 L417.5,696.4 L429.4,696.4" fill="none" stroke="#f01414" stroke-width="2.0"/>
<path d="M432.4,696.4 L427.4,693.3 L427.4,699.5Z" fill="#f01414"/>
<path d="M678.4,696.4 L665.5,696.4" stroke="#f01414" stroke-width="2.0"/>
<path d="M661.6,696.4 L666.8,693.3 L666.8,699.5Z" fill="#f01414"/>
<rect x="182.20" y="474.50" width="5.40" height="227.30" fill="#ececec" />
<rect x="343.50" y="474.50" width="4.30" height="227.30" fill="#fbfbfb" />
<rect x="508.40" y="474.50" width="4.20" height="227.30" fill="#fbfbfb" />
<line x1="22.50" y1="474.50" x2="678.40" y2="474.50" stroke="#222" stroke-width="1.0" />
<line x1="22.50" y1="701.80" x2="678.40" y2="701.80" stroke="#333" stroke-width="1.0" />
<line x1="22.50" y1="474.50" x2="22.50" y2="701.80" stroke="#333" stroke-width="1.0" />
<line x1="678.40" y1="474.50" x2="678.40" y2="701.80" stroke="#333" stroke-width="1.0" />
<line x1="182.90" y1="474.50" x2="182.90" y2="701.80" stroke="#555" stroke-width="1.4" />
<line x1="186.90" y1="474.50" x2="186.90" y2="701.80" stroke="#8a8a8a" stroke-width="1.0" />
<line x1="343.80" y1="474.50" x2="343.80" y2="701.80" stroke="#333" stroke-width="1.1" />
<line x1="347.50" y1="474.50" x2="347.50" y2="701.80" stroke="#777" stroke-width="1.0" />
<line x1="508.60" y1="474.50" x2="508.60" y2="701.80" stroke="#444" stroke-width="1.1" />
<line x1="512.40" y1="474.50" x2="512.40" y2="701.80" stroke="#555" stroke-width="1.0" />
<text x="7.20" y="537.50" font-size="7.4" font-weight="bold" stroke="#000" stroke-width="0.16" text-anchor="middle" textLength="43.40" lengthAdjust="spacingAndGlyphs" transform="rotate(-90 7.20 537.50)" >H3K27me3</text>
<text x="18.00" y="534.50" font-size="7.0" font-weight="bold" stroke="#000" stroke-width="0.16" text-anchor="middle" textLength="55.50" lengthAdjust="spacingAndGlyphs" transform="rotate(-90 18.00 534.50)" >PRN NE (n=2)</text>
<text x="9.80" y="639.00" font-size="7.9" font-weight="bold" stroke="#000" stroke-width="0.16" text-anchor="middle" textLength="20.90" lengthAdjust="spacingAndGlyphs" transform="rotate(-90 9.80 639.00)" >DMR</text>
<text x="17.90" y="639.60" font-size="6.8" font-weight="bold" stroke="#000" stroke-width="0.16" text-anchor="middle" textLength="81.70" lengthAdjust="spacingAndGlyphs" transform="rotate(-90 17.90 639.60)" >PRNE NE vs. PRN NE</text>
<text x="45.30" y="726.80" font-size="10.9" font-weight="bold" stroke="#000" stroke-width="0.16" textLength="6.50" lengthAdjust="spacingAndGlyphs" >E</text>
<text x="67.60" y="743.10" font-size="10.6" font-weight="bold" stroke="#000" stroke-width="0.16" textLength="141.90" lengthAdjust="spacingAndGlyphs" >PRNE NEPC vs. PRN NEPC</text>
<rect x="90.00" y="823.70" width="16.90" height="12.21" fill="#d98cf8" stroke="#000" stroke-width="1.3" />
<rect x="116.80" y="823.70" width="16.80" height="59.56" fill="#d98cf8" stroke="#000" stroke-width="1.3" />
<rect x="143.30" y="823.70" width="16.80" height="31.79" fill="#d98cf8" stroke="#000" stroke-width="1.3" />
<rect x="170.60" y="779.20" width="16.70" height="44.50" fill="#80fdfd" stroke="#000" stroke-width="1.3" />
<line x1="79.40" y1="756.50" x2="79.40" y2="891.20" stroke="#000" stroke-width="1.3" />
<line x1="78.80" y1="823.70" x2="196.90" y2="823.70" stroke="#000" stroke-width="1.3" />
<line x1="78.80" y1="890.60" x2="196.50" y2="890.60" stroke="#000" stroke-width="1.3" />
<line x1="75.80" y1="890.62" x2="79.40" y2="890.62" stroke="#000" stroke-width="1.2" />
<text x="74.60" y="893.62" font-size="8.4" font-weight="bold" stroke="#000" stroke-width="0.16" text-anchor="end" >-4</text>
<line x1="75.80" y1="873.89" x2="79.40" y2="873.89" stroke="#000" stroke-width="1.2" />
<text x="74.60" y="876.89" font-size="8.4" font-weight="bold" stroke="#000" stroke-width="0.16" text-anchor="end" >-3</text>
<line x1="75.80" y1="857.16" x2="79.40" y2="857.16" stroke="#000" stroke-width="1.2" />
<text x="74.60" y="860.16" font-size="8.4" font-weight="bold" stroke="#000" stroke-width="0.16" text-anchor="end" >-2</text>
<line x1="75.80" y1="840.43" x2="79.40" y2="840.43" stroke="#000" stroke-width="1.2" />
<text x="74.60" y="843.43" font-size="8.4" font-weight="bold" stroke="#000" stroke-width="0.16" text-anchor="end" >-1</text>
<line x1="75.80" y1="823.70" x2="79.40" y2="823.70" stroke="#000" stroke-width="1.2" />
<text x="74.60" y="826.70" font-size="8.4" font-weight="bold" stroke="#000" stroke-width="0.16" text-anchor="end" >0</text>
<line x1="75.80" y1="806.97" x2="79.40" y2="806.97" stroke="#000" stroke-width="1.2" />
<text x="74.60" y="809.97" font-size="8.4" font-weight="bold" stroke="#000" stroke-width="0.16" text-anchor="end" >1</text>
<line x1="75.80" y1="790.24" x2="79.40" y2="790.24" stroke="#000" stroke-width="1.2" />
<text x="74.60" y="793.24" font-size="8.4" font-weight="bold" stroke="#000" stroke-width="0.16" text-anchor="end" >2</text>
<line x1="75.80" y1="773.51" x2="79.40" y2="773.51" stroke="#000" stroke-width="1.2" />
<text x="74.60" y="776.51" font-size="8.4" font-weight="bold" stroke="#000" stroke-width="0.16" text-anchor="end" >3</text>
<line x1="75.80" y1="756.78" x2="79.40" y2="756.78" stroke="#000" stroke-width="1.2" />
<text x="74.60" y="759.78" font-size="8.4" font-weight="bold" stroke="#000" stroke-width="0.16" text-anchor="end" >4</text>
<line x1="98.20" y1="890.60" x2="98.20" y2="894.50" stroke="#000" stroke-width="1.2" />
<line x1="125.40" y1="890.60" x2="125.40" y2="894.50" stroke="#000" stroke-width="1.2" />
<line x1="152.40" y1="890.60" x2="152.40" y2="894.50" stroke="#000" stroke-width="1.2" />
<line x1="179.10" y1="890.60" x2="179.10" y2="894.50" stroke="#000" stroke-width="1.2" />
<text x="60.80" y="825.50" font-size="8.6" font-weight="bold" stroke="#000" stroke-width="0.16" text-anchor="middle" textLength="130.30" lengthAdjust="spacingAndGlyphs" transform="rotate(-90 60.80 825.50)" >Log2 fold change of expreesion</text>
<text x="101.0" y="899.6" font-size="7.6" font-weight="bold" text-anchor="end" textLength="30.5" lengthAdjust="spacingAndGlyphs" transform="rotate(-45 101.0 899.6)">FOXA1</text>
<text x="128.2" y="899.6" font-size="7.6" font-weight="bold" text-anchor="end" textLength="30.0" lengthAdjust="spacingAndGlyphs" transform="rotate(-45 128.2 899.6)">GATA5</text>
<text x="155.2" y="899.6" font-size="7.6" font-weight="bold" text-anchor="end" textLength="44.0" lengthAdjust="spacingAndGlyphs" transform="rotate(-45 155.2 899.6)">ONECUT2</text>
<text x="181.9" y="899.6" font-size="7.6" font-weight="bold" text-anchor="end" textLength="31.0" lengthAdjust="spacingAndGlyphs" transform="rotate(-45 181.9 899.6)">FOXA2</text>
<text x="272.20" y="721.80" font-size="11.0" font-weight="bold" stroke="#000" stroke-width="0.16" textLength="6.30" lengthAdjust="spacingAndGlyphs" >F</text>
<text x="314.50" y="722.20" font-size="10.8" font-weight="bold" stroke="#000" stroke-width="0.16" textLength="347.60" lengthAdjust="spacingAndGlyphs" >PCa 10 Tazemetostat vs. Vehicle DMRs at promoter and intergenic</text>
<rect x="529.00" y="731.60" width="93.40" height="211.20" fill="#ebebeb" />
<line x1="534.30" y1="731.60" x2="534.30" y2="942.80" stroke="#fff" stroke-width="1.1" />
<line x1="576.05" y1="731.60" x2="576.05" y2="942.80" stroke="#fff" stroke-width="1.1" />
<line x1="617.80" y1="731.60" x2="617.80" y2="942.80" stroke="#fff" stroke-width="1.1" />
<line x1="555.17" y1="731.60" x2="555.17" y2="942.80" stroke="#fafafa" stroke-width="0.55" />
<line x1="596.92" y1="731.60" x2="596.92" y2="942.80" stroke="#fafafa" stroke-width="0.55" />
<line x1="529.00" y1="738.20" x2="622.40" y2="738.20" stroke="#fff" stroke-width="1.1" />
<line x1="527.00" y1="738.20" x2="529.00" y2="738.20" stroke="#333" stroke-width="0.6" />
<text x="527.00" y="740.60" font-size="6.8" font-weight="bold" stroke="#1a1a1a" stroke-width="0.16" text-anchor="end" fill="#1a1a1a" textLength="197.92" lengthAdjust="spacingAndGlyphs" >MEISSNER_BRAIN_HCP_WITH_H3K4ME3_AND_H3K27ME3</text>
<line x1="529.00" y1="749.82" x2="622.40" y2="749.82" stroke="#fff" stroke-width="1.1" />
<line x1="527.00" y1="749.82" x2="529.00" y2="749.82" stroke="#333" stroke-width="0.6" />
<text x="527.00" y="752.22" font-size="6.8" font-weight="bold" stroke="#1a1a1a" stroke-width="0.16" text-anchor="end" fill="#1a1a1a" textLength="80.72" lengthAdjust="spacingAndGlyphs" >GOBP_NEUROGENESIS</text>
<line x1="529.00" y1="761.44" x2="622.40" y2="761.44" stroke="#fff" stroke-width="1.1" />
<line x1="527.00" y1="761.44" x2="529.00" y2="761.44" stroke="#333" stroke-width="0.6" />
<text x="527.00" y="763.84" font-size="6.8" font-weight="bold" stroke="#1a1a1a" stroke-width="0.16" text-anchor="end" fill="#1a1a1a" textLength="228.15" lengthAdjust="spacingAndGlyphs" >GOBP_NEGATIVE_REGULATION_OF_PROGRAMMED_CELL_DEATH</text>
<line x1="529.00" y1="773.06" x2="622.40" y2="773.06" stroke="#fff" stroke-width="1.1" />
<line x1="527.00" y1="773.06" x2="529.00" y2="773.06" stroke="#333" stroke-width="0.6" />
<text x="527.00" y="775.46" font-size="6.8" font-weight="bold" stroke="#1a1a1a" stroke-width="0.16" text-anchor="end" fill="#1a1a1a" textLength="172.01" lengthAdjust="spacingAndGlyphs" >GOBP_REGULATION_OF_CELL_DIFFERENTIATION</text>
<line x1="529.00" y1="784.68" x2="622.40" y2="784.68" stroke="#fff" stroke-width="1.1" />
<line x1="527.00" y1="784.68" x2="529.00" y2="784.68" stroke="#333" stroke-width="0.6" />
<text x="527.00" y="787.08" font-size="6.8" font-weight="bold" stroke="#1a1a1a" stroke-width="0.16" text-anchor="end" fill="#1a1a1a" textLength="136.06" lengthAdjust="spacingAndGlyphs" >WONG_ADULT_TISSUE_STEM_MODULE</text>
<line x1="529.00" y1="796.30" x2="622.40" y2="796.30" stroke="#fff" stroke-width="1.1" />
<line x1="527.00" y1="796.30" x2="529.00" y2="796.30" stroke="#333" stroke-width="0.6" />
<text x="527.00" y="798.70" font-size="6.8" font-weight="bold" stroke="#1a1a1a" stroke-width="0.16" text-anchor="end" fill="#1a1a1a" textLength="79.15" lengthAdjust="spacingAndGlyphs" >GOBP_CELL_MOTILITY</text>
<line x1="529.00" y1="807.92" x2="622.40" y2="807.92" stroke="#fff" stroke-width="1.1" />
<line x1="527.00" y1="807.92" x2="529.00" y2="807.92" stroke="#333" stroke-width="0.6" />
<text x="527.00" y="810.32" font-size="6.8" font-weight="bold" stroke="#1a1a1a" stroke-width="0.16" text-anchor="end" fill="#1a1a1a" textLength="106.06" lengthAdjust="spacingAndGlyphs" >BENPORATH_SUZ12_TARGETS</text>
<line x1="529.00" y1="819.54" x2="622.40" y2="819.54" stroke="#fff" stroke-width="1.1" />
<line x1="527.00" y1="819.54" x2="529.00" y2="819.54" stroke="#333" stroke-width="0.6" />
<text x="527.00" y="821.94" font-size="6.8" font-weight="bold" stroke="#1a1a1a" stroke-width="0.16" text-anchor="end" fill="#1a1a1a" textLength="140.09" lengthAdjust="spacingAndGlyphs" >MIKKELSEN_MEF_HCP_WITH_H3K27ME3</text>
<line x1="529.00" y1="831.16" x2="622.40" y2="831.16" stroke="#fff" stroke-width="1.1" />
<line x1="527.00" y1="831.16" x2="529.00" y2="831.16" stroke="#333" stroke-width="0.6" />
<text x="527.00" y="833.56" font-size="6.8" font-weight="bold" stroke="#1a1a1a" stroke-width="0.16" text-anchor="end" fill="#1a1a1a" textLength="118.62" lengthAdjust="spacingAndGlyphs" >BENPORATH_ES_WITH_H3K27ME3</text>
<line x1="529.00" y1="842.78" x2="622.40" y2="842.78" stroke="#fff" stroke-width="1.1" />
<line x1="527.00" y1="842.78" x2="529.00" y2="842.78" stroke="#333" stroke-width="0.6" />
<text x="527.00" y="845.18" font-size="6.8" font-weight="bold" stroke="#1a1a1a" stroke-width="0.16" text-anchor="end" fill="#1a1a1a" textLength="169.44" lengthAdjust="spacingAndGlyphs" >MEISSNER_NCP_HCP_WITH_H3_UNMETHYLATED</text>
<line x1="529.00" y1="854.40" x2="622.40" y2="854.40" stroke="#fff" stroke-width="1.1" />
<line x1="527.00" y1="854.40" x2="529.00" y2="854.40" stroke="#333" stroke-width="0.6" />
<text x="527.00" y="856.80" font-size="6.8" font-weight="bold" stroke="#1a1a1a" stroke-width="0.16" text-anchor="end" fill="#1a1a1a" textLength="111.76" lengthAdjust="spacingAndGlyphs" >GOBP_NEURON_DEVELOPMENT</text>
<line x1="529.00" y1="866.02" x2="622.40" y2="866.02" stroke="#fff" stroke-width="1.1" />
<line x1="527.00" y1="866.02" x2="529.00" y2="866.02" stroke="#333" stroke-width="0.6" />
<text x="527.00" y="868.42" font-size="6.8" font-weight="bold" stroke="#1a1a1a" stroke-width="0.16" text-anchor="end" fill="#1a1a1a" textLength="83.43" lengthAdjust="spacingAndGlyphs" >GOBP_CELL_ADHESION</text>
<line x1="529.00" y1="877.64" x2="622.40" y2="877.64" stroke="#fff" stroke-width="1.1" />
<line x1="527.00" y1="877.64" x2="529.00" y2="877.64" stroke="#333" stroke-width="0.6" />
<text x="527.00" y="880.04" font-size="6.8" font-weight="bold" stroke="#1a1a1a" stroke-width="0.16" text-anchor="end" fill="#1a1a1a" textLength="98.69" lengthAdjust="spacingAndGlyphs" >BENPORATH_EED_TARGETS</text>
<line x1="529.00" y1="889.26" x2="622.40" y2="889.26" stroke="#fff" stroke-width="1.1" />
<line x1="527.00" y1="889.26" x2="529.00" y2="889.26" stroke="#333" stroke-width="0.6" />
<text x="527.00" y="891.66" font-size="6.8" font-weight="bold" stroke="#1a1a1a" stroke-width="0.16" text-anchor="end" fill="#1a1a1a" textLength="144.75" lengthAdjust="spacingAndGlyphs" >MIKKELSEN_MCV6_HCP_WITH_H3K27ME3</text>
<line x1="529.00" y1="900.88" x2="622.40" y2="900.88" stroke="#fff" stroke-width="1.1" />
<line x1="527.00" y1="900.88" x2="529.00" y2="900.88" stroke="#333" stroke-width="0.6" />
<text x="527.00" y="903.28" font-size="6.8" font-weight="bold" stroke="#1a1a1a" stroke-width="0.16" text-anchor="end" fill="#1a1a1a" textLength="109.03" lengthAdjust="spacingAndGlyphs" >GOCC_BASEMENT_MEMBRANE</text>
<line x1="529.00" y1="912.50" x2="622.40" y2="912.50" stroke="#fff" stroke-width="1.1" />
<line x1="527.00" y1="912.50" x2="529.00" y2="912.50" stroke="#333" stroke-width="0.6" />
<text x="527.00" y="914.90" font-size="6.8" font-weight="bold" stroke="#1a1a1a" stroke-width="0.16" text-anchor="end" fill="#1a1a1a" textLength="147.84" lengthAdjust="spacingAndGlyphs" >GOBP_ANIMAL_ORGAN_MORPHOGENESIS</text>
<line x1="529.00" y1="924.12" x2="622.40" y2="924.12" stroke="#fff" stroke-width="1.1" />
<line x1="527.00" y1="924.12" x2="529.00" y2="924.12" stroke="#333" stroke-width="0.6" />
<text x="527.00" y="926.52" font-size="6.8" font-weight="bold" stroke="#1a1a1a" stroke-width="0.16" text-anchor="end" fill="#1a1a1a" textLength="116.03" lengthAdjust="spacingAndGlyphs" >GOBP_TISSUE_MORPHOGENESIS</text>
<line x1="529.00" y1="935.74" x2="622.40" y2="935.74" stroke="#fff" stroke-width="1.1" />
<line x1="527.00" y1="935.74" x2="529.00" y2="935.74" stroke="#333" stroke-width="0.6" />
<text x="527.00" y="938.14" font-size="6.8" font-weight="bold" stroke="#1a1a1a" stroke-width="0.16" text-anchor="end" fill="#1a1a1a" textLength="102.96" lengthAdjust="spacingAndGlyphs" >BENPORATH_PRC2_TARGETS</text>
<line x1="534.30" y1="942.80" x2="534.30" y2="944.60" stroke="#333" stroke-width="0.6" />
<text x="534.30" y="948.20" font-size="6.5" text-anchor="middle" fill="#4d4d4d" >0</text>
<line x1="576.05" y1="942.80" x2="576.05" y2="944.60" stroke="#333" stroke-width="0.6" />
<text x="576.05" y="948.20" font-size="6.5" text-anchor="middle" fill="#4d4d4d" >5</text>
<line x1="617.80" y1="942.80" x2="617.80" y2="944.60" stroke="#333" stroke-width="0.6" />
<text x="617.80" y="948.20" font-size="6.5" text-anchor="middle" fill="#4d4d4d" >10</text>
<text x="552.70" y="956.70" font-size="6.8" font-weight="bold" stroke="#111" stroke-width="0.16" fill="#111" textLength="41.70" lengthAdjust="spacingAndGlyphs" >-log10(FDR)</text>
<ellipse cx="570.90" cy="738.20" rx="2.20" ry="1.90" fill="#5ff2ee"/>
<ellipse cx="602.70" cy="738.20" rx="1.80" ry="1.60" fill="#d966ee"/>
<ellipse cx="583.10" cy="749.82" rx="2.80" ry="2.40" fill="#5ff2ee"/>
<ellipse cx="573.00" cy="749.82" rx="2.00" ry="1.80" fill="#d966ee"/>
<ellipse cx="568.80" cy="761.44" rx="2.10" ry="1.80" fill="#5ff2ee"/>
<ellipse cx="565.20" cy="773.06" rx="2.20" ry="1.90" fill="#5ff2ee"/>
<ellipse cx="564.80" cy="784.68" rx="2.10" ry="1.80" fill="#5ff2ee"/>
<ellipse cx="563.70" cy="796.30" rx="2.30" ry="2.00" fill="#5ff2ee"/>
<ellipse cx="562.80" cy="807.92" rx="1.60" ry="1.60" fill="#d966ee"/>
<ellipse cx="564.00" cy="807.92" rx="2.10" ry="1.80" fill="#5ff2ee"/>
<ellipse cx="563.40" cy="819.54" rx="1.40" ry="1.30" fill="#d966ee"/>
<ellipse cx="561.20" cy="831.16" rx="1.70" ry="1.50" fill="#d966ee"/>
<ellipse cx="564.80" cy="831.16" rx="2.20" ry="1.90" fill="#5ff2ee"/>
<ellipse cx="562.70" cy="842.78" rx="2.10" ry="1.80" fill="#5ff2ee"/>
<ellipse cx="562.30" cy="854.40" rx="2.20" ry="1.90" fill="#5ff2ee"/>
<ellipse cx="560.90" cy="866.02" rx="2.20" ry="1.90" fill="#5ff2ee"/>
<ellipse cx="559.80" cy="877.64" rx="2.10" ry="1.80" fill="#5ff2ee"/>
<ellipse cx="555.10" cy="889.26" rx="1.40" ry="1.30" fill="#d966ee"/>
<ellipse cx="549.10" cy="900.88" rx="0.80" ry="0.70" fill="#d966ee"/>
<ellipse cx="549.10" cy="912.50" rx="1.60" ry="1.40" fill="#d966ee"/>
<ellipse cx="546.90" cy="924.12" rx="1.50" ry="1.30" fill="#d966ee"/>
<ellipse cx="546.00" cy="935.74" rx="1.50" ry="1.30" fill="#d966ee"/>
<text x="641.40" y="752.40" font-size="6.3" font-weight="bold" stroke="#111" stroke-width="0.16" fill="#111" textLength="21.10" lengthAdjust="spacingAndGlyphs" >Count</text>
<rect x="643.60" y="756.00" width="8.00" height="31.50" fill="#ececec" />
<ellipse cx="647.6" cy="761.10" rx="1.76" ry="1.60" fill="none" stroke="#222" stroke-width="0.6"/>
<text x="656.40" y="763.30" font-size="6.0" font-weight="bold" stroke="#111" stroke-width="0.16" fill="#111" textLength="6.80" lengthAdjust="spacingAndGlyphs" >10</text>
<ellipse cx="647.6" cy="771.85" rx="2.53" ry="2.30" fill="none" stroke="#222" stroke-width="0.6"/>
<text x="656.40" y="774.05" font-size="6.0" font-weight="bold" stroke="#111" stroke-width="0.16" fill="#111" textLength="6.80" lengthAdjust="spacingAndGlyphs" >20</text>
<ellipse cx="647.6" cy="782.60" rx="3.30" ry="3.00" fill="none" stroke="#222" stroke-width="0.6"/>
<text x="656.40" y="784.80" font-size="6.0" font-weight="bold" stroke="#111" stroke-width="0.16" fill="#111" textLength="6.80" lengthAdjust="spacingAndGlyphs" >30</text>
<ellipse cx="642.10" cy="867.60" rx="2.90" ry="2.60" fill="#d966e6"/>
<text x="646.70" y="869.80" font-size="6.2" font-weight="bold" stroke="#111" stroke-width="0.16" fill="#111" textLength="19.60" lengthAdjust="spacingAndGlyphs" >Hyper</text>
<ellipse cx="642.10" cy="876.50" rx="2.90" ry="2.60" fill="#5ccfc4"/>
<text x="646.70" y="878.70" font-size="6.2" font-weight="bold" stroke="#111" stroke-width="0.16" fill="#111" textLength="17.60" lengthAdjust="spacingAndGlyphs" >Hypo</text>
</svg></body></html>
